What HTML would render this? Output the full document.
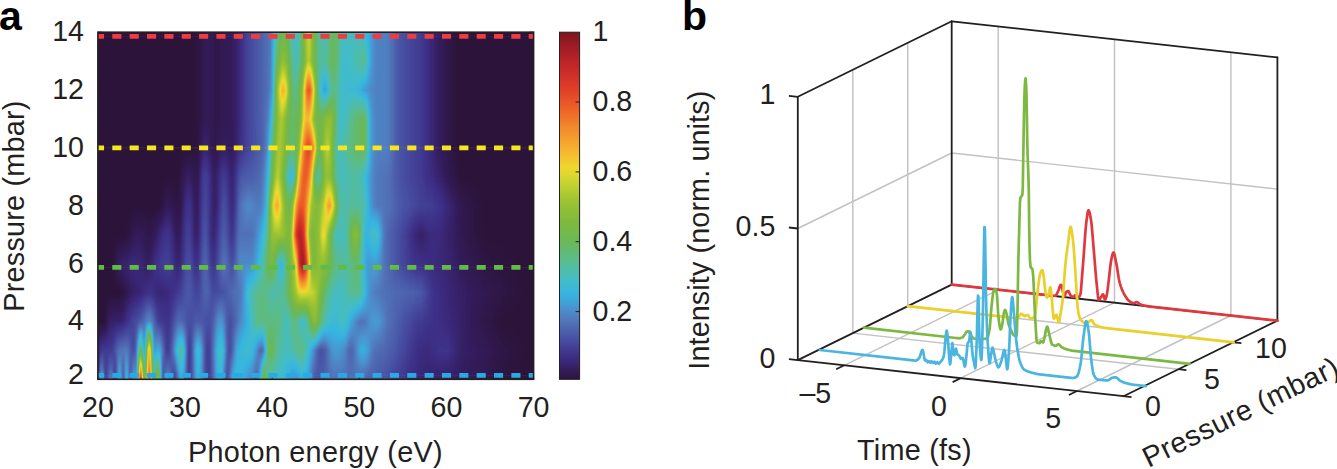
<!DOCTYPE html><html><head><meta charset="utf-8"><title>Figure</title><style>
html,body{margin:0;padding:0;background:#fff}
svg{display:block}
.t{font-family:"Liberation Sans",sans-serif;font-size:28.6px;fill:#231f20}
.l{font-family:"Liberation Sans",sans-serif;font-size:28.8px;fill:#231f20}
.b{font-family:"Liberation Sans",sans-serif;font-size:41px;font-weight:bold;fill:#000}
</style></head><body>
<svg width="1337" height="469" viewBox="0 0 1337 469">
<rect width="1337" height="469" fill="#fff"/>
<defs><linearGradient id="g0" gradientUnits="userSpaceOnUse" x1="0" y1="32.2" x2="0" y2="379.3"/><linearGradient id="c0" href="#g0"><stop offset="0" stop-color="#000"/><stop offset="0.0833" stop-color="#000"/><stop offset="0.1667" stop-color="#000"/><stop offset="0.25" stop-color="#000"/><stop offset="0.3333" stop-color="#000"/><stop offset="0.4167" stop-color="#000"/><stop offset="0.5" stop-color="#000"/><stop offset="0.5833" stop-color="#000"/><stop offset="0.6667" stop-color="#000"/><stop offset="0.75" stop-color="#000"/><stop offset="0.8333" stop-color="#000"/><stop offset="0.9167" stop-color="#0a0a0a"/><stop offset="1" stop-color="#131313"/></linearGradient><linearGradient id="c1" href="#g0"><stop offset="0" stop-color="#000"/><stop offset="0.0833" stop-color="#000"/><stop offset="0.1667" stop-color="#000"/><stop offset="0.25" stop-color="#000"/><stop offset="0.3333" stop-color="#000"/><stop offset="0.4167" stop-color="#000"/><stop offset="0.5" stop-color="#000"/><stop offset="0.5833" stop-color="#000"/><stop offset="0.6667" stop-color="#000"/><stop offset="0.75" stop-color="#000"/><stop offset="0.8333" stop-color="#000"/><stop offset="0.9167" stop-color="#0d0d0d"/><stop offset="1" stop-color="#1e1e1e"/></linearGradient><linearGradient id="c2" href="#g0"><stop offset="0" stop-color="#000"/><stop offset="0.0833" stop-color="#000"/><stop offset="0.1667" stop-color="#000"/><stop offset="0.25" stop-color="#000"/><stop offset="0.3333" stop-color="#000"/><stop offset="0.4167" stop-color="#000"/><stop offset="0.5" stop-color="#000"/><stop offset="0.5833" stop-color="#000"/><stop offset="0.6667" stop-color="#000"/><stop offset="0.75" stop-color="#000"/><stop offset="0.8333" stop-color="#000"/><stop offset="0.9167" stop-color="#161616"/><stop offset="1" stop-color="#3e3e3e"/></linearGradient><linearGradient id="c3" href="#g0"><stop offset="0" stop-color="#000"/><stop offset="0.0833" stop-color="#000"/><stop offset="0.1667" stop-color="#000"/><stop offset="0.25" stop-color="#000"/><stop offset="0.3333" stop-color="#000"/><stop offset="0.4167" stop-color="#000"/><stop offset="0.5" stop-color="#000"/><stop offset="0.5833" stop-color="#000"/><stop offset="0.6667" stop-color="#000"/><stop offset="0.75" stop-color="#000"/><stop offset="0.8333" stop-color="#000"/><stop offset="0.9167" stop-color="#171717"/><stop offset="1" stop-color="#333"/></linearGradient><linearGradient id="c4" href="#g0"><stop offset="0" stop-color="#000"/><stop offset="0.0833" stop-color="#000"/><stop offset="0.1667" stop-color="#000"/><stop offset="0.25" stop-color="#000"/><stop offset="0.3333" stop-color="#000"/><stop offset="0.4167" stop-color="#000"/><stop offset="0.5" stop-color="#000"/><stop offset="0.5833" stop-color="#000"/><stop offset="0.6667" stop-color="#000"/><stop offset="0.75" stop-color="#000"/><stop offset="0.8333" stop-color="#000"/><stop offset="0.9167" stop-color="#171717"/><stop offset="1" stop-color="#1a1a1a"/></linearGradient><linearGradient id="c5" href="#g0"><stop offset="0" stop-color="#000"/><stop offset="0.0833" stop-color="#000"/><stop offset="0.1667" stop-color="#000"/><stop offset="0.25" stop-color="#000"/><stop offset="0.3333" stop-color="#000"/><stop offset="0.4167" stop-color="#000"/><stop offset="0.5" stop-color="#000"/><stop offset="0.5833" stop-color="#000"/><stop offset="0.6667" stop-color="#000"/><stop offset="0.75" stop-color="#000"/><stop offset="0.8333" stop-color="#050505"/><stop offset="0.9167" stop-color="#171717"/><stop offset="1" stop-color="#1b1b1b"/></linearGradient><linearGradient id="c6" href="#g0"><stop offset="0" stop-color="#000"/><stop offset="0.0833" stop-color="#000"/><stop offset="0.1667" stop-color="#000"/><stop offset="0.25" stop-color="#000"/><stop offset="0.3333" stop-color="#000"/><stop offset="0.4167" stop-color="#000"/><stop offset="0.5" stop-color="#000"/><stop offset="0.5833" stop-color="#000"/><stop offset="0.6667" stop-color="#000"/><stop offset="0.75" stop-color="#000"/><stop offset="0.8333" stop-color="#0a0a0a"/><stop offset="0.9167" stop-color="#171717"/><stop offset="1" stop-color="#2a2a2a"/></linearGradient><linearGradient id="c7" href="#g0"><stop offset="0" stop-color="#000"/><stop offset="0.0833" stop-color="#000"/><stop offset="0.1667" stop-color="#000"/><stop offset="0.25" stop-color="#000"/><stop offset="0.3333" stop-color="#000"/><stop offset="0.4167" stop-color="#000"/><stop offset="0.5" stop-color="#000"/><stop offset="0.5833" stop-color="#000"/><stop offset="0.6667" stop-color="#000"/><stop offset="0.75" stop-color="#000"/><stop offset="0.8333" stop-color="#0b0b0b"/><stop offset="0.9167" stop-color="#171717"/><stop offset="1" stop-color="#333"/></linearGradient><linearGradient id="c8" href="#g0"><stop offset="0" stop-color="#000"/><stop offset="0.0833" stop-color="#000"/><stop offset="0.1667" stop-color="#000"/><stop offset="0.25" stop-color="#000"/><stop offset="0.3333" stop-color="#000"/><stop offset="0.4167" stop-color="#000"/><stop offset="0.5" stop-color="#000"/><stop offset="0.5833" stop-color="#000"/><stop offset="0.6667" stop-color="#010101"/><stop offset="0.75" stop-color="#000"/><stop offset="0.8333" stop-color="#0b0b0b"/><stop offset="0.9167" stop-color="#1a1a1a"/><stop offset="1" stop-color="#262626"/></linearGradient><linearGradient id="c9" href="#g0"><stop offset="0" stop-color="#000"/><stop offset="0.0833" stop-color="#000"/><stop offset="0.1667" stop-color="#000"/><stop offset="0.25" stop-color="#000"/><stop offset="0.3333" stop-color="#000"/><stop offset="0.4167" stop-color="#000"/><stop offset="0.5" stop-color="#000"/><stop offset="0.5833" stop-color="#000"/><stop offset="0.6667" stop-color="#040404"/><stop offset="0.75" stop-color="#000"/><stop offset="0.8333" stop-color="#0b0b0b"/><stop offset="0.9167" stop-color="#1f1f1f"/><stop offset="1" stop-color="#171717"/></linearGradient><linearGradient id="c10" href="#g0"><stop offset="0" stop-color="#000"/><stop offset="0.0833" stop-color="#000"/><stop offset="0.1667" stop-color="#000"/><stop offset="0.25" stop-color="#000"/><stop offset="0.3333" stop-color="#000"/><stop offset="0.4167" stop-color="#000"/><stop offset="0.5" stop-color="#000"/><stop offset="0.5833" stop-color="#000"/><stop offset="0.6667" stop-color="#070707"/><stop offset="0.75" stop-color="#000"/><stop offset="0.8333" stop-color="#0c0c0c"/><stop offset="0.9167" stop-color="#262626"/><stop offset="1" stop-color="#272727"/></linearGradient><linearGradient id="c11" href="#g0"><stop offset="0" stop-color="#000"/><stop offset="0.0833" stop-color="#000"/><stop offset="0.1667" stop-color="#000"/><stop offset="0.25" stop-color="#000"/><stop offset="0.3333" stop-color="#000"/><stop offset="0.4167" stop-color="#000"/><stop offset="0.5" stop-color="#000"/><stop offset="0.5833" stop-color="#000"/><stop offset="0.6667" stop-color="#0a0a0a"/><stop offset="0.75" stop-color="#000"/><stop offset="0.8333" stop-color="#0c0c0c"/><stop offset="0.9167" stop-color="#2b2b2b"/><stop offset="1" stop-color="#444"/></linearGradient><linearGradient id="c12" href="#g0"><stop offset="0" stop-color="#000"/><stop offset="0.0833" stop-color="#000"/><stop offset="0.1667" stop-color="#000"/><stop offset="0.25" stop-color="#000"/><stop offset="0.3333" stop-color="#000"/><stop offset="0.4167" stop-color="#000"/><stop offset="0.5" stop-color="#000"/><stop offset="0.5833" stop-color="#000"/><stop offset="0.6667" stop-color="#0b0b0b"/><stop offset="0.75" stop-color="#000"/><stop offset="0.8333" stop-color="#0c0c0c"/><stop offset="0.9167" stop-color="#2c2c2c"/><stop offset="1" stop-color="#3a3a3a"/></linearGradient><linearGradient id="c13" href="#g0"><stop offset="0" stop-color="#000"/><stop offset="0.0833" stop-color="#000"/><stop offset="0.1667" stop-color="#000"/><stop offset="0.25" stop-color="#000"/><stop offset="0.3333" stop-color="#000"/><stop offset="0.4167" stop-color="#000"/><stop offset="0.5" stop-color="#000"/><stop offset="0.5833" stop-color="#000"/><stop offset="0.6667" stop-color="#0c0c0c"/><stop offset="0.75" stop-color="#020202"/><stop offset="0.8333" stop-color="#0e0e0e"/><stop offset="0.9167" stop-color="#2d2d2d"/><stop offset="1" stop-color="#1d1d1d"/></linearGradient><linearGradient id="c14" href="#g0"><stop offset="0" stop-color="#000"/><stop offset="0.0833" stop-color="#000"/><stop offset="0.1667" stop-color="#000"/><stop offset="0.25" stop-color="#000"/><stop offset="0.3333" stop-color="#000"/><stop offset="0.4167" stop-color="#000"/><stop offset="0.5" stop-color="#000"/><stop offset="0.5833" stop-color="#000"/><stop offset="0.6667" stop-color="#0d0d0d"/><stop offset="0.75" stop-color="#040404"/><stop offset="0.8333" stop-color="#101010"/><stop offset="0.9167" stop-color="#2e2e2e"/><stop offset="1" stop-color="#363636"/></linearGradient><linearGradient id="c15" href="#g0"><stop offset="0" stop-color="#000"/><stop offset="0.0833" stop-color="#000"/><stop offset="0.1667" stop-color="#000"/><stop offset="0.25" stop-color="#000"/><stop offset="0.3333" stop-color="#000"/><stop offset="0.4167" stop-color="#000"/><stop offset="0.5" stop-color="#000"/><stop offset="0.5833" stop-color="#010101"/><stop offset="0.6667" stop-color="#0d0d0d"/><stop offset="0.75" stop-color="#060606"/><stop offset="0.8333" stop-color="#131313"/><stop offset="0.9167" stop-color="#2e2e2e"/><stop offset="1" stop-color="#4b4b4b"/></linearGradient><linearGradient id="c16" href="#g0"><stop offset="0" stop-color="#000"/><stop offset="0.0833" stop-color="#000"/><stop offset="0.1667" stop-color="#000"/><stop offset="0.25" stop-color="#000"/><stop offset="0.3333" stop-color="#000"/><stop offset="0.4167" stop-color="#000"/><stop offset="0.5" stop-color="#000"/><stop offset="0.5833" stop-color="#020202"/><stop offset="0.6667" stop-color="#0e0e0e"/><stop offset="0.75" stop-color="#080808"/><stop offset="0.8333" stop-color="#161616"/><stop offset="0.9167" stop-color="#292929"/><stop offset="1" stop-color="#292929"/></linearGradient><linearGradient id="c17" href="#g0"><stop offset="0" stop-color="#000"/><stop offset="0.0833" stop-color="#000"/><stop offset="0.1667" stop-color="#000"/><stop offset="0.25" stop-color="#000"/><stop offset="0.3333" stop-color="#000"/><stop offset="0.4167" stop-color="#000"/><stop offset="0.5" stop-color="#000"/><stop offset="0.5833" stop-color="#040404"/><stop offset="0.6667" stop-color="#0f0f0f"/><stop offset="0.75" stop-color="#090909"/><stop offset="0.8333" stop-color="#181818"/><stop offset="0.9167" stop-color="#222"/><stop offset="1" stop-color="#222"/></linearGradient><linearGradient id="c18" href="#g0"><stop offset="0" stop-color="#000"/><stop offset="0.0833" stop-color="#000"/><stop offset="0.1667" stop-color="#000"/><stop offset="0.25" stop-color="#000"/><stop offset="0.3333" stop-color="#000"/><stop offset="0.4167" stop-color="#000"/><stop offset="0.5" stop-color="#000"/><stop offset="0.5833" stop-color="#060606"/><stop offset="0.6667" stop-color="#0f0f0f"/><stop offset="0.75" stop-color="#0a0a0a"/><stop offset="0.8333" stop-color="#1b1b1b"/><stop offset="0.9167" stop-color="#1d1d1d"/><stop offset="1" stop-color="#3d3d3d"/></linearGradient><linearGradient id="c19" href="#g0"><stop offset="0" stop-color="#000"/><stop offset="0.0833" stop-color="#000"/><stop offset="0.1667" stop-color="#000"/><stop offset="0.25" stop-color="#000"/><stop offset="0.3333" stop-color="#000"/><stop offset="0.4167" stop-color="#000"/><stop offset="0.5" stop-color="#000"/><stop offset="0.5833" stop-color="#070707"/><stop offset="0.6667" stop-color="#0f0f0f"/><stop offset="0.75" stop-color="#0b0b0b"/><stop offset="0.8333" stop-color="#1d1d1d"/><stop offset="0.9167" stop-color="#212121"/><stop offset="1" stop-color="#3b3b3b"/></linearGradient><linearGradient id="c20" href="#g0"><stop offset="0" stop-color="#000"/><stop offset="0.0833" stop-color="#000"/><stop offset="0.1667" stop-color="#000"/><stop offset="0.25" stop-color="#000"/><stop offset="0.3333" stop-color="#000"/><stop offset="0.4167" stop-color="#000"/><stop offset="0.5" stop-color="#000"/><stop offset="0.5833" stop-color="#080808"/><stop offset="0.6667" stop-color="#0f0f0f"/><stop offset="0.75" stop-color="#0c0c0c"/><stop offset="0.8333" stop-color="#1e1e1e"/><stop offset="0.9167" stop-color="#323232"/><stop offset="1" stop-color="#333"/></linearGradient><linearGradient id="c21" href="#g0"><stop offset="0" stop-color="#000"/><stop offset="0.0833" stop-color="#000"/><stop offset="0.1667" stop-color="#000"/><stop offset="0.25" stop-color="#000"/><stop offset="0.3333" stop-color="#000"/><stop offset="0.4167" stop-color="#000"/><stop offset="0.5" stop-color="#000"/><stop offset="0.5833" stop-color="#080808"/><stop offset="0.6667" stop-color="#0f0f0f"/><stop offset="0.75" stop-color="#0d0d0d"/><stop offset="0.8333" stop-color="#212121"/><stop offset="0.9167" stop-color="#565656"/><stop offset="1" stop-color="#aeaeae"/></linearGradient><linearGradient id="c22" href="#g0"><stop offset="0" stop-color="#000"/><stop offset="0.0833" stop-color="#000"/><stop offset="0.1667" stop-color="#000"/><stop offset="0.25" stop-color="#000"/><stop offset="0.3333" stop-color="#000"/><stop offset="0.4167" stop-color="#000"/><stop offset="0.5" stop-color="#000"/><stop offset="0.5833" stop-color="#070707"/><stop offset="0.6667" stop-color="#0e0e0e"/><stop offset="0.75" stop-color="#0e0e0e"/><stop offset="0.8333" stop-color="#232323"/><stop offset="0.9167" stop-color="#6f6f6f"/><stop offset="1" stop-color="#f6f6f6"/></linearGradient><linearGradient id="c23" href="#g0"><stop offset="0" stop-color="#000"/><stop offset="0.0833" stop-color="#000"/><stop offset="0.1667" stop-color="#000"/><stop offset="0.25" stop-color="#000"/><stop offset="0.3333" stop-color="#000"/><stop offset="0.4167" stop-color="#000"/><stop offset="0.5" stop-color="#000"/><stop offset="0.5833" stop-color="#070707"/><stop offset="0.6667" stop-color="#0d0d0d"/><stop offset="0.75" stop-color="#0f0f0f"/><stop offset="0.8333" stop-color="#272727"/><stop offset="0.9167" stop-color="#464646"/><stop offset="1" stop-color="#848484"/></linearGradient><linearGradient id="c24" href="#g0"><stop offset="0" stop-color="#000"/><stop offset="0.0833" stop-color="#000"/><stop offset="0.1667" stop-color="#000"/><stop offset="0.25" stop-color="#000"/><stop offset="0.3333" stop-color="#000"/><stop offset="0.4167" stop-color="#000"/><stop offset="0.5" stop-color="#000"/><stop offset="0.5833" stop-color="#060606"/><stop offset="0.6667" stop-color="#0b0b0b"/><stop offset="0.75" stop-color="#111"/><stop offset="0.8333" stop-color="#2c2c2c"/><stop offset="0.9167" stop-color="#373737"/><stop offset="1" stop-color="#515151"/></linearGradient><linearGradient id="c25" href="#g0"><stop offset="0" stop-color="#000"/><stop offset="0.0833" stop-color="#000"/><stop offset="0.1667" stop-color="#000"/><stop offset="0.25" stop-color="#000"/><stop offset="0.3333" stop-color="#000"/><stop offset="0.4167" stop-color="#000"/><stop offset="0.5" stop-color="#000"/><stop offset="0.5833" stop-color="#050505"/><stop offset="0.6667" stop-color="#0a0a0a"/><stop offset="0.75" stop-color="#121212"/><stop offset="0.8333" stop-color="#313131"/><stop offset="0.9167" stop-color="#7a7a7a"/><stop offset="1" stop-color="#9a9a9a"/></linearGradient><linearGradient id="c26" href="#g0"><stop offset="0" stop-color="#000"/><stop offset="0.0833" stop-color="#000"/><stop offset="0.1667" stop-color="#000"/><stop offset="0.25" stop-color="#000"/><stop offset="0.3333" stop-color="#000"/><stop offset="0.4167" stop-color="#000"/><stop offset="0.5" stop-color="#000"/><stop offset="0.5833" stop-color="#050505"/><stop offset="0.6667" stop-color="#0a0a0a"/><stop offset="0.75" stop-color="#131313"/><stop offset="0.8333" stop-color="#333"/><stop offset="0.9167" stop-color="#b5b5b5"/><stop offset="1" stop-color="#d4d4d4"/></linearGradient><linearGradient id="c27" href="#g0"><stop offset="0" stop-color="#000"/><stop offset="0.0833" stop-color="#000"/><stop offset="0.1667" stop-color="#000"/><stop offset="0.25" stop-color="#000"/><stop offset="0.3333" stop-color="#000"/><stop offset="0.4167" stop-color="#000"/><stop offset="0.5" stop-color="#000"/><stop offset="0.5833" stop-color="#050505"/><stop offset="0.6667" stop-color="#0c0c0c"/><stop offset="0.75" stop-color="#131313"/><stop offset="0.8333" stop-color="#313131"/><stop offset="0.9167" stop-color="#8e8e8e"/><stop offset="1" stop-color="#afafaf"/></linearGradient><linearGradient id="c28" href="#g0"><stop offset="0" stop-color="#000"/><stop offset="0.0833" stop-color="#000"/><stop offset="0.1667" stop-color="#000"/><stop offset="0.25" stop-color="#000"/><stop offset="0.3333" stop-color="#000"/><stop offset="0.4167" stop-color="#000"/><stop offset="0.5" stop-color="#000"/><stop offset="0.5833" stop-color="#060606"/><stop offset="0.6667" stop-color="#0f0f0f"/><stop offset="0.75" stop-color="#111"/><stop offset="0.8333" stop-color="#2b2b2b"/><stop offset="0.9167" stop-color="#3e3e3e"/><stop offset="1" stop-color="#595959"/></linearGradient><linearGradient id="c29" href="#g0"><stop offset="0" stop-color="#000"/><stop offset="0.0833" stop-color="#000"/><stop offset="0.1667" stop-color="#000"/><stop offset="0.25" stop-color="#000"/><stop offset="0.3333" stop-color="#000"/><stop offset="0.4167" stop-color="#000"/><stop offset="0.5" stop-color="#000"/><stop offset="0.5833" stop-color="#080808"/><stop offset="0.6667" stop-color="#121212"/><stop offset="0.75" stop-color="#101010"/><stop offset="0.8333" stop-color="#232323"/><stop offset="0.9167" stop-color="#363636"/><stop offset="1" stop-color="#5b5b5b"/></linearGradient><linearGradient id="c30" href="#g0"><stop offset="0" stop-color="#000"/><stop offset="0.0833" stop-color="#000"/><stop offset="0.1667" stop-color="#000"/><stop offset="0.25" stop-color="#000"/><stop offset="0.3333" stop-color="#000"/><stop offset="0.4167" stop-color="#000"/><stop offset="0.5" stop-color="#000"/><stop offset="0.5833" stop-color="#0a0a0a"/><stop offset="0.6667" stop-color="#141414"/><stop offset="0.75" stop-color="#0e0e0e"/><stop offset="0.8333" stop-color="#1c1c1c"/><stop offset="0.9167" stop-color="#3e3e3e"/><stop offset="1" stop-color="#808080"/></linearGradient><linearGradient id="c31" href="#g0"><stop offset="0" stop-color="#000"/><stop offset="0.0833" stop-color="#000"/><stop offset="0.1667" stop-color="#000"/><stop offset="0.25" stop-color="#000"/><stop offset="0.3333" stop-color="#000"/><stop offset="0.4167" stop-color="#000"/><stop offset="0.5" stop-color="#000"/><stop offset="0.5833" stop-color="#0d0d0d"/><stop offset="0.6667" stop-color="#161616"/><stop offset="0.75" stop-color="#0e0e0e"/><stop offset="0.8333" stop-color="#181818"/><stop offset="0.9167" stop-color="#3f3f3f"/><stop offset="1" stop-color="#7c7c7c"/></linearGradient><linearGradient id="c32" href="#g0"><stop offset="0" stop-color="#000"/><stop offset="0.0833" stop-color="#000"/><stop offset="0.1667" stop-color="#000"/><stop offset="0.25" stop-color="#000"/><stop offset="0.3333" stop-color="#000"/><stop offset="0.4167" stop-color="#000"/><stop offset="0.5" stop-color="#010101"/><stop offset="0.5833" stop-color="#0f0f0f"/><stop offset="0.6667" stop-color="#171717"/><stop offset="0.75" stop-color="#0e0e0e"/><stop offset="0.8333" stop-color="#171717"/><stop offset="0.9167" stop-color="#363636"/><stop offset="1" stop-color="#3c3c3c"/></linearGradient><linearGradient id="c33" href="#g0"><stop offset="0" stop-color="#000"/><stop offset="0.0833" stop-color="#000"/><stop offset="0.1667" stop-color="#000"/><stop offset="0.25" stop-color="#000"/><stop offset="0.3333" stop-color="#000"/><stop offset="0.4167" stop-color="#000"/><stop offset="0.5" stop-color="#030303"/><stop offset="0.5833" stop-color="#121212"/><stop offset="0.6667" stop-color="#181818"/><stop offset="0.75" stop-color="#0e0e0e"/><stop offset="0.8333" stop-color="#161616"/><stop offset="0.9167" stop-color="#2a2a2a"/><stop offset="1" stop-color="#1d1d1d"/></linearGradient><linearGradient id="c34" href="#g0"><stop offset="0" stop-color="#000"/><stop offset="0.0833" stop-color="#000"/><stop offset="0.1667" stop-color="#000"/><stop offset="0.25" stop-color="#000"/><stop offset="0.3333" stop-color="#000"/><stop offset="0.4167" stop-color="#000"/><stop offset="0.5" stop-color="#060606"/><stop offset="0.5833" stop-color="#131313"/><stop offset="0.6667" stop-color="#191919"/><stop offset="0.75" stop-color="#0f0f0f"/><stop offset="0.8333" stop-color="#151515"/><stop offset="0.9167" stop-color="#1e1e1e"/><stop offset="1" stop-color="#282828"/></linearGradient><linearGradient id="c35" href="#g0"><stop offset="0" stop-color="#000"/><stop offset="0.0833" stop-color="#000"/><stop offset="0.1667" stop-color="#000"/><stop offset="0.25" stop-color="#000"/><stop offset="0.3333" stop-color="#000"/><stop offset="0.4167" stop-color="#000"/><stop offset="0.5" stop-color="#080808"/><stop offset="0.5833" stop-color="#141414"/><stop offset="0.6667" stop-color="#191919"/><stop offset="0.75" stop-color="#0f0f0f"/><stop offset="0.8333" stop-color="#141414"/><stop offset="0.9167" stop-color="#171717"/><stop offset="1" stop-color="#323232"/></linearGradient><linearGradient id="c36" href="#g0"><stop offset="0" stop-color="#000"/><stop offset="0.0833" stop-color="#000"/><stop offset="0.1667" stop-color="#000"/><stop offset="0.25" stop-color="#000"/><stop offset="0.3333" stop-color="#000"/><stop offset="0.4167" stop-color="#000"/><stop offset="0.5" stop-color="#070707"/><stop offset="0.5833" stop-color="#141414"/><stop offset="0.6667" stop-color="#191919"/><stop offset="0.75" stop-color="#101010"/><stop offset="0.8333" stop-color="#151515"/><stop offset="0.9167" stop-color="#191919"/><stop offset="1" stop-color="#303030"/></linearGradient><linearGradient id="c37" href="#g0"><stop offset="0" stop-color="#000"/><stop offset="0.0833" stop-color="#000"/><stop offset="0.1667" stop-color="#000"/><stop offset="0.25" stop-color="#000"/><stop offset="0.3333" stop-color="#000"/><stop offset="0.4167" stop-color="#000"/><stop offset="0.5" stop-color="#060606"/><stop offset="0.5833" stop-color="#111"/><stop offset="0.6667" stop-color="#161616"/><stop offset="0.75" stop-color="#111"/><stop offset="0.8333" stop-color="#181818"/><stop offset="0.9167" stop-color="#202020"/><stop offset="1" stop-color="#262626"/></linearGradient><linearGradient id="c38" href="#g0"><stop offset="0" stop-color="#000"/><stop offset="0.0833" stop-color="#000"/><stop offset="0.1667" stop-color="#000"/><stop offset="0.25" stop-color="#000"/><stop offset="0.3333" stop-color="#000"/><stop offset="0.4167" stop-color="#000"/><stop offset="0.5" stop-color="#050505"/><stop offset="0.5833" stop-color="#0e0e0e"/><stop offset="0.6667" stop-color="#131313"/><stop offset="0.75" stop-color="#131313"/><stop offset="0.8333" stop-color="#1d1d1d"/><stop offset="0.9167" stop-color="#2b2b2b"/><stop offset="1" stop-color="#1b1b1b"/></linearGradient><linearGradient id="c39" href="#g0"><stop offset="0" stop-color="#000"/><stop offset="0.0833" stop-color="#000"/><stop offset="0.1667" stop-color="#000"/><stop offset="0.25" stop-color="#000"/><stop offset="0.3333" stop-color="#000"/><stop offset="0.4167" stop-color="#000"/><stop offset="0.5" stop-color="#040404"/><stop offset="0.5833" stop-color="#0a0a0a"/><stop offset="0.6667" stop-color="#0f0f0f"/><stop offset="0.75" stop-color="#141414"/><stop offset="0.8333" stop-color="#222"/><stop offset="0.9167" stop-color="#383838"/><stop offset="1" stop-color="#171717"/></linearGradient><linearGradient id="c40" href="#g0"><stop offset="0" stop-color="#000"/><stop offset="0.0833" stop-color="#000"/><stop offset="0.1667" stop-color="#000"/><stop offset="0.25" stop-color="#000"/><stop offset="0.3333" stop-color="#000"/><stop offset="0.4167" stop-color="#000"/><stop offset="0.5" stop-color="#030303"/><stop offset="0.5833" stop-color="#080808"/><stop offset="0.6667" stop-color="#0d0d0d"/><stop offset="0.75" stop-color="#161616"/><stop offset="0.8333" stop-color="#262626"/><stop offset="0.9167" stop-color="#454545"/><stop offset="1" stop-color="#222"/></linearGradient><linearGradient id="c41" href="#g0"><stop offset="0" stop-color="#000"/><stop offset="0.0833" stop-color="#000"/><stop offset="0.1667" stop-color="#000"/><stop offset="0.25" stop-color="#000"/><stop offset="0.3333" stop-color="#000"/><stop offset="0.4167" stop-color="#010101"/><stop offset="0.5" stop-color="#030303"/><stop offset="0.5833" stop-color="#080808"/><stop offset="0.6667" stop-color="#0d0d0d"/><stop offset="0.75" stop-color="#181818"/><stop offset="0.8333" stop-color="#292929"/><stop offset="0.9167" stop-color="#4f4f4f"/><stop offset="1" stop-color="#333"/></linearGradient><linearGradient id="c42" href="#g0"><stop offset="0" stop-color="#000"/><stop offset="0.0833" stop-color="#000"/><stop offset="0.1667" stop-color="#000"/><stop offset="0.25" stop-color="#000"/><stop offset="0.3333" stop-color="#000"/><stop offset="0.4167" stop-color="#030303"/><stop offset="0.5" stop-color="#060606"/><stop offset="0.5833" stop-color="#0b0b0b"/><stop offset="0.6667" stop-color="#101010"/><stop offset="0.75" stop-color="#1a1a1a"/><stop offset="0.8333" stop-color="#282828"/><stop offset="0.9167" stop-color="#545454"/><stop offset="1" stop-color="#3f3f3f"/></linearGradient><linearGradient id="c43" href="#g0"><stop offset="0" stop-color="#000"/><stop offset="0.0833" stop-color="#000"/><stop offset="0.1667" stop-color="#000"/><stop offset="0.25" stop-color="#000"/><stop offset="0.3333" stop-color="#000"/><stop offset="0.4167" stop-color="#060606"/><stop offset="0.5" stop-color="#0b0b0b"/><stop offset="0.5833" stop-color="#101010"/><stop offset="0.6667" stop-color="#151515"/><stop offset="0.75" stop-color="#1d1d1d"/><stop offset="0.8333" stop-color="#262626"/><stop offset="0.9167" stop-color="#4f4f4f"/><stop offset="1" stop-color="#3c3c3c"/></linearGradient><linearGradient id="c44" href="#g0"><stop offset="0" stop-color="#000"/><stop offset="0.0833" stop-color="#000"/><stop offset="0.1667" stop-color="#000"/><stop offset="0.25" stop-color="#000"/><stop offset="0.3333" stop-color="#000"/><stop offset="0.4167" stop-color="#080808"/><stop offset="0.5" stop-color="#101010"/><stop offset="0.5833" stop-color="#151515"/><stop offset="0.6667" stop-color="#1a1a1a"/><stop offset="0.75" stop-color="#202020"/><stop offset="0.8333" stop-color="#232323"/><stop offset="0.9167" stop-color="#3b3b3b"/><stop offset="1" stop-color="#2f2f2f"/></linearGradient><linearGradient id="c45" href="#g0"><stop offset="0" stop-color="#000"/><stop offset="0.0833" stop-color="#000"/><stop offset="0.1667" stop-color="#000"/><stop offset="0.25" stop-color="#000"/><stop offset="0.3333" stop-color="#000"/><stop offset="0.4167" stop-color="#0a0a0a"/><stop offset="0.5" stop-color="#131313"/><stop offset="0.5833" stop-color="#181818"/><stop offset="0.6667" stop-color="#1e1e1e"/><stop offset="0.75" stop-color="#222"/><stop offset="0.8333" stop-color="#202020"/><stop offset="0.9167" stop-color="#252525"/><stop offset="1" stop-color="#202020"/></linearGradient><linearGradient id="c46" href="#g0"><stop offset="0" stop-color="#000"/><stop offset="0.0833" stop-color="#000"/><stop offset="0.1667" stop-color="#000"/><stop offset="0.25" stop-color="#000"/><stop offset="0.3333" stop-color="#000"/><stop offset="0.4167" stop-color="#0a0a0a"/><stop offset="0.5" stop-color="#141414"/><stop offset="0.5833" stop-color="#191919"/><stop offset="0.6667" stop-color="#1e1e1e"/><stop offset="0.75" stop-color="#222"/><stop offset="0.8333" stop-color="#1f1f1f"/><stop offset="0.9167" stop-color="#171717"/><stop offset="1" stop-color="#171717"/></linearGradient><linearGradient id="c47" href="#g0"><stop offset="0" stop-color="#000"/><stop offset="0.0833" stop-color="#000"/><stop offset="0.1667" stop-color="#000"/><stop offset="0.25" stop-color="#000"/><stop offset="0.3333" stop-color="#010101"/><stop offset="0.4167" stop-color="#090909"/><stop offset="0.5" stop-color="#111"/><stop offset="0.5833" stop-color="#161616"/><stop offset="0.6667" stop-color="#1c1c1c"/><stop offset="0.75" stop-color="#212121"/><stop offset="0.8333" stop-color="#1f1f1f"/><stop offset="0.9167" stop-color="#1b1b1b"/><stop offset="1" stop-color="#1b1b1b"/></linearGradient><linearGradient id="c48" href="#g0"><stop offset="0" stop-color="#000"/><stop offset="0.0833" stop-color="#000"/><stop offset="0.1667" stop-color="#000"/><stop offset="0.25" stop-color="#000"/><stop offset="0.3333" stop-color="#010101"/><stop offset="0.4167" stop-color="#070707"/><stop offset="0.5" stop-color="#0d0d0d"/><stop offset="0.5833" stop-color="#101010"/><stop offset="0.6667" stop-color="#171717"/><stop offset="0.75" stop-color="#1e1e1e"/><stop offset="0.8333" stop-color="#202020"/><stop offset="0.9167" stop-color="#292929"/><stop offset="1" stop-color="#262626"/></linearGradient><linearGradient id="c49" href="#g0"><stop offset="0" stop-color="#000"/><stop offset="0.0833" stop-color="#000"/><stop offset="0.1667" stop-color="#000"/><stop offset="0.25" stop-color="#000"/><stop offset="0.3333" stop-color="#020202"/><stop offset="0.4167" stop-color="#060606"/><stop offset="0.5" stop-color="#090909"/><stop offset="0.5833" stop-color="#0b0b0b"/><stop offset="0.6667" stop-color="#131313"/><stop offset="0.75" stop-color="#1c1c1c"/><stop offset="0.8333" stop-color="#222"/><stop offset="0.9167" stop-color="#393939"/><stop offset="1" stop-color="#343434"/></linearGradient><linearGradient id="c50" href="#g0"><stop offset="0" stop-color="#010101"/><stop offset="0.0833" stop-color="#010101"/><stop offset="0.1667" stop-color="#010101"/><stop offset="0.25" stop-color="#010101"/><stop offset="0.3333" stop-color="#020202"/><stop offset="0.4167" stop-color="#050505"/><stop offset="0.5" stop-color="#080808"/><stop offset="0.5833" stop-color="#0b0b0b"/><stop offset="0.6667" stop-color="#121212"/><stop offset="0.75" stop-color="#1b1b1b"/><stop offset="0.8333" stop-color="#232323"/><stop offset="0.9167" stop-color="#454545"/><stop offset="1" stop-color="#3e3e3e"/></linearGradient><linearGradient id="c51" href="#g0"><stop offset="0" stop-color="#030303"/><stop offset="0.0833" stop-color="#030303"/><stop offset="0.1667" stop-color="#030303"/><stop offset="0.25" stop-color="#030303"/><stop offset="0.3333" stop-color="#030303"/><stop offset="0.4167" stop-color="#0a0a0a"/><stop offset="0.5" stop-color="#0c0c0c"/><stop offset="0.5833" stop-color="#0f0f0f"/><stop offset="0.6667" stop-color="#161616"/><stop offset="0.75" stop-color="#1c1c1c"/><stop offset="0.8333" stop-color="#222"/><stop offset="0.9167" stop-color="#464646"/><stop offset="1" stop-color="#3f3f3f"/></linearGradient><linearGradient id="c52" href="#g0"><stop offset="0" stop-color="#040404"/><stop offset="0.0833" stop-color="#040404"/><stop offset="0.1667" stop-color="#040404"/><stop offset="0.25" stop-color="#040404"/><stop offset="0.3333" stop-color="#070707"/><stop offset="0.4167" stop-color="#101010"/><stop offset="0.5" stop-color="#131313"/><stop offset="0.5833" stop-color="#171717"/><stop offset="0.6667" stop-color="#1d1d1d"/><stop offset="0.75" stop-color="#1f1f1f"/><stop offset="0.8333" stop-color="#222"/><stop offset="0.9167" stop-color="#3d3d3d"/><stop offset="1" stop-color="#373737"/></linearGradient><linearGradient id="c53" href="#g0"><stop offset="0" stop-color="#060606"/><stop offset="0.0833" stop-color="#060606"/><stop offset="0.1667" stop-color="#060606"/><stop offset="0.25" stop-color="#060606"/><stop offset="0.3333" stop-color="#0b0b0b"/><stop offset="0.4167" stop-color="#171717"/><stop offset="0.5" stop-color="#191919"/><stop offset="0.5833" stop-color="#1e1e1e"/><stop offset="0.6667" stop-color="#232323"/><stop offset="0.75" stop-color="#232323"/><stop offset="0.8333" stop-color="#212121"/><stop offset="0.9167" stop-color="#2e2e2e"/><stop offset="1" stop-color="#2b2b2b"/></linearGradient><linearGradient id="c54" href="#g0"><stop offset="0" stop-color="#070707"/><stop offset="0.0833" stop-color="#070707"/><stop offset="0.1667" stop-color="#070707"/><stop offset="0.25" stop-color="#070707"/><stop offset="0.3333" stop-color="#0d0d0d"/><stop offset="0.4167" stop-color="#191919"/><stop offset="0.5" stop-color="#1c1c1c"/><stop offset="0.5833" stop-color="#212121"/><stop offset="0.6667" stop-color="#262626"/><stop offset="0.75" stop-color="#262626"/><stop offset="0.8333" stop-color="#202020"/><stop offset="0.9167" stop-color="#202020"/><stop offset="1" stop-color="#1f1f1f"/></linearGradient><linearGradient id="c55" href="#g0"><stop offset="0" stop-color="#080808"/><stop offset="0.0833" stop-color="#080808"/><stop offset="0.1667" stop-color="#080808"/><stop offset="0.25" stop-color="#080808"/><stop offset="0.3333" stop-color="#0c0c0c"/><stop offset="0.4167" stop-color="#181818"/><stop offset="0.5" stop-color="#1a1a1a"/><stop offset="0.5833" stop-color="#1e1e1e"/><stop offset="0.6667" stop-color="#242424"/><stop offset="0.75" stop-color="#262626"/><stop offset="0.8333" stop-color="#1f1f1f"/><stop offset="0.9167" stop-color="#181818"/><stop offset="1" stop-color="#181818"/></linearGradient><linearGradient id="c56" href="#g0"><stop offset="0" stop-color="#070707"/><stop offset="0.0833" stop-color="#070707"/><stop offset="0.1667" stop-color="#070707"/><stop offset="0.25" stop-color="#070707"/><stop offset="0.3333" stop-color="#0a0a0a"/><stop offset="0.4167" stop-color="#141414"/><stop offset="0.5" stop-color="#161616"/><stop offset="0.5833" stop-color="#171717"/><stop offset="0.6667" stop-color="#1d1d1d"/><stop offset="0.75" stop-color="#242424"/><stop offset="0.8333" stop-color="#1f1f1f"/><stop offset="0.9167" stop-color="#181818"/><stop offset="1" stop-color="#181818"/></linearGradient><linearGradient id="c57" href="#g0"><stop offset="0" stop-color="#060606"/><stop offset="0.0833" stop-color="#060606"/><stop offset="0.1667" stop-color="#060606"/><stop offset="0.25" stop-color="#060606"/><stop offset="0.3333" stop-color="#080808"/><stop offset="0.4167" stop-color="#0f0f0f"/><stop offset="0.5" stop-color="#101010"/><stop offset="0.5833" stop-color="#101010"/><stop offset="0.6667" stop-color="#171717"/><stop offset="0.75" stop-color="#202020"/><stop offset="0.8333" stop-color="#202020"/><stop offset="0.9167" stop-color="#1f1f1f"/><stop offset="1" stop-color="#1e1e1e"/></linearGradient><linearGradient id="c58" href="#g0"><stop offset="0" stop-color="#060606"/><stop offset="0.0833" stop-color="#060606"/><stop offset="0.1667" stop-color="#060606"/><stop offset="0.25" stop-color="#060606"/><stop offset="0.3333" stop-color="#060606"/><stop offset="0.4167" stop-color="#0b0b0b"/><stop offset="0.5" stop-color="#0c0c0c"/><stop offset="0.5833" stop-color="#0d0d0d"/><stop offset="0.6667" stop-color="#141414"/><stop offset="0.75" stop-color="#1d1d1d"/><stop offset="0.8333" stop-color="#242424"/><stop offset="0.9167" stop-color="#2a2a2a"/><stop offset="1" stop-color="#272727"/></linearGradient><linearGradient id="c59" href="#g0"><stop offset="0" stop-color="#050505"/><stop offset="0.0833" stop-color="#050505"/><stop offset="0.1667" stop-color="#050505"/><stop offset="0.25" stop-color="#050505"/><stop offset="0.3333" stop-color="#050505"/><stop offset="0.4167" stop-color="#0a0a0a"/><stop offset="0.5" stop-color="#0a0a0a"/><stop offset="0.5833" stop-color="#0f0f0f"/><stop offset="0.6667" stop-color="#161616"/><stop offset="0.75" stop-color="#1d1d1d"/><stop offset="0.8333" stop-color="#2b2b2b"/><stop offset="0.9167" stop-color="#363636"/><stop offset="1" stop-color="#323232"/></linearGradient><linearGradient id="c60" href="#g0"><stop offset="0" stop-color="#050505"/><stop offset="0.0833" stop-color="#050505"/><stop offset="0.1667" stop-color="#050505"/><stop offset="0.25" stop-color="#050505"/><stop offset="0.3333" stop-color="#060606"/><stop offset="0.4167" stop-color="#0c0c0c"/><stop offset="0.5" stop-color="#0d0d0d"/><stop offset="0.5833" stop-color="#141414"/><stop offset="0.6667" stop-color="#1b1b1b"/><stop offset="0.75" stop-color="#1d1d1d"/><stop offset="0.8333" stop-color="#313131"/><stop offset="0.9167" stop-color="#424242"/><stop offset="1" stop-color="#3c3c3c"/></linearGradient><linearGradient id="c61" href="#g0"><stop offset="0" stop-color="#050505"/><stop offset="0.0833" stop-color="#050505"/><stop offset="0.1667" stop-color="#050505"/><stop offset="0.25" stop-color="#050505"/><stop offset="0.3333" stop-color="#070707"/><stop offset="0.4167" stop-color="#101010"/><stop offset="0.5" stop-color="#131313"/><stop offset="0.5833" stop-color="#191919"/><stop offset="0.6667" stop-color="#212121"/><stop offset="0.75" stop-color="#1e1e1e"/><stop offset="0.8333" stop-color="#353535"/><stop offset="0.9167" stop-color="#4a4a4a"/><stop offset="1" stop-color="#434343"/></linearGradient><linearGradient id="c62" href="#g0"><stop offset="0" stop-color="#060606"/><stop offset="0.0833" stop-color="#060606"/><stop offset="0.1667" stop-color="#060606"/><stop offset="0.25" stop-color="#060606"/><stop offset="0.3333" stop-color="#090909"/><stop offset="0.4167" stop-color="#141414"/><stop offset="0.5" stop-color="#191919"/><stop offset="0.5833" stop-color="#1f1f1f"/><stop offset="0.6667" stop-color="#272727"/><stop offset="0.75" stop-color="#1f1f1f"/><stop offset="0.8333" stop-color="#373737"/><stop offset="0.9167" stop-color="#4c4c4c"/><stop offset="1" stop-color="#454545"/></linearGradient><linearGradient id="c63" href="#g0"><stop offset="0" stop-color="#060606"/><stop offset="0.0833" stop-color="#060606"/><stop offset="0.1667" stop-color="#060606"/><stop offset="0.25" stop-color="#060606"/><stop offset="0.3333" stop-color="#0a0a0a"/><stop offset="0.4167" stop-color="#161616"/><stop offset="0.5" stop-color="#1e1e1e"/><stop offset="0.5833" stop-color="#232323"/><stop offset="0.6667" stop-color="#2b2b2b"/><stop offset="0.75" stop-color="#202020"/><stop offset="0.8333" stop-color="#333"/><stop offset="0.9167" stop-color="#454545"/><stop offset="1" stop-color="#393939"/></linearGradient><linearGradient id="c64" href="#g0"><stop offset="0" stop-color="#070707"/><stop offset="0.0833" stop-color="#070707"/><stop offset="0.1667" stop-color="#070707"/><stop offset="0.25" stop-color="#070707"/><stop offset="0.3333" stop-color="#0a0a0a"/><stop offset="0.4167" stop-color="#171717"/><stop offset="0.5" stop-color="#1e1e1e"/><stop offset="0.5833" stop-color="#232323"/><stop offset="0.6667" stop-color="#2b2b2b"/><stop offset="0.75" stop-color="#212121"/><stop offset="0.8333" stop-color="#2b2b2b"/><stop offset="0.9167" stop-color="#363636"/><stop offset="1" stop-color="#262626"/></linearGradient><linearGradient id="c65" href="#g0"><stop offset="0" stop-color="#070707"/><stop offset="0.0833" stop-color="#070707"/><stop offset="0.1667" stop-color="#070707"/><stop offset="0.25" stop-color="#070707"/><stop offset="0.3333" stop-color="#090909"/><stop offset="0.4167" stop-color="#141414"/><stop offset="0.5" stop-color="#1a1a1a"/><stop offset="0.5833" stop-color="#1f1f1f"/><stop offset="0.6667" stop-color="#282828"/><stop offset="0.75" stop-color="#232323"/><stop offset="0.8333" stop-color="#232323"/><stop offset="0.9167" stop-color="#262626"/><stop offset="1" stop-color="#1d1d1d"/></linearGradient><linearGradient id="c66" href="#g0"><stop offset="0" stop-color="#080808"/><stop offset="0.0833" stop-color="#080808"/><stop offset="0.1667" stop-color="#080808"/><stop offset="0.25" stop-color="#080808"/><stop offset="0.3333" stop-color="#090909"/><stop offset="0.4167" stop-color="#101010"/><stop offset="0.5" stop-color="#151515"/><stop offset="0.5833" stop-color="#1a1a1a"/><stop offset="0.6667" stop-color="#232323"/><stop offset="0.75" stop-color="#262626"/><stop offset="0.8333" stop-color="#1f1f1f"/><stop offset="0.9167" stop-color="#1d1d1d"/><stop offset="1" stop-color="#252525"/></linearGradient><linearGradient id="c67" href="#g0"><stop offset="0" stop-color="#080808"/><stop offset="0.0833" stop-color="#080808"/><stop offset="0.1667" stop-color="#080808"/><stop offset="0.25" stop-color="#080808"/><stop offset="0.3333" stop-color="#080808"/><stop offset="0.4167" stop-color="#0d0d0d"/><stop offset="0.5" stop-color="#101010"/><stop offset="0.5833" stop-color="#151515"/><stop offset="0.6667" stop-color="#1f1f1f"/><stop offset="0.75" stop-color="#272727"/><stop offset="0.8333" stop-color="#1f1f1f"/><stop offset="0.9167" stop-color="#1f1f1f"/><stop offset="1" stop-color="#353535"/></linearGradient><linearGradient id="c68" href="#g0"><stop offset="0" stop-color="#090909"/><stop offset="0.0833" stop-color="#090909"/><stop offset="0.1667" stop-color="#090909"/><stop offset="0.25" stop-color="#090909"/><stop offset="0.3333" stop-color="#080808"/><stop offset="0.4167" stop-color="#0d0d0d"/><stop offset="0.5" stop-color="#101010"/><stop offset="0.5833" stop-color="#151515"/><stop offset="0.6667" stop-color="#1f1f1f"/><stop offset="0.75" stop-color="#292929"/><stop offset="0.8333" stop-color="#222"/><stop offset="0.9167" stop-color="#282828"/><stop offset="1" stop-color="#404040"/></linearGradient><linearGradient id="c69" href="#g0"><stop offset="0" stop-color="#0a0a0a"/><stop offset="0.0833" stop-color="#0a0a0a"/><stop offset="0.1667" stop-color="#0a0a0a"/><stop offset="0.25" stop-color="#0a0a0a"/><stop offset="0.3333" stop-color="#0a0a0a"/><stop offset="0.4167" stop-color="#121212"/><stop offset="0.5" stop-color="#161616"/><stop offset="0.5833" stop-color="#1c1c1c"/><stop offset="0.6667" stop-color="#242424"/><stop offset="0.75" stop-color="#2a2a2a"/><stop offset="0.8333" stop-color="#262626"/><stop offset="0.9167" stop-color="#343434"/><stop offset="1" stop-color="#444"/></linearGradient><linearGradient id="c70" href="#g0"><stop offset="0" stop-color="#0c0c0c"/><stop offset="0.0833" stop-color="#0c0c0c"/><stop offset="0.1667" stop-color="#0c0c0c"/><stop offset="0.25" stop-color="#0c0c0c"/><stop offset="0.3333" stop-color="#0d0d0d"/><stop offset="0.4167" stop-color="#181818"/><stop offset="0.5" stop-color="#1e1e1e"/><stop offset="0.5833" stop-color="#242424"/><stop offset="0.6667" stop-color="#2b2b2b"/><stop offset="0.75" stop-color="#2b2b2b"/><stop offset="0.8333" stop-color="#2a2a2a"/><stop offset="0.9167" stop-color="#3d3d3d"/><stop offset="1" stop-color="#454545"/></linearGradient><linearGradient id="c71" href="#g0"><stop offset="0" stop-color="#0e0e0e"/><stop offset="0.0833" stop-color="#0e0e0e"/><stop offset="0.1667" stop-color="#0e0e0e"/><stop offset="0.25" stop-color="#0e0e0e"/><stop offset="0.3333" stop-color="#111"/><stop offset="0.4167" stop-color="#1e1e1e"/><stop offset="0.5" stop-color="#272727"/><stop offset="0.5833" stop-color="#2a2a2a"/><stop offset="0.6667" stop-color="#313131"/><stop offset="0.75" stop-color="#2c2c2c"/><stop offset="0.8333" stop-color="#2f2f2f"/><stop offset="0.9167" stop-color="#414141"/><stop offset="1" stop-color="#444"/></linearGradient><linearGradient id="c72" href="#g0"><stop offset="0" stop-color="#111"/><stop offset="0.0833" stop-color="#111"/><stop offset="0.1667" stop-color="#111"/><stop offset="0.25" stop-color="#111"/><stop offset="0.3333" stop-color="#131313"/><stop offset="0.4167" stop-color="#212121"/><stop offset="0.5" stop-color="#2c2c2c"/><stop offset="0.5833" stop-color="#2b2b2b"/><stop offset="0.6667" stop-color="#333"/><stop offset="0.75" stop-color="#2e2e2e"/><stop offset="0.8333" stop-color="#333"/><stop offset="0.9167" stop-color="#434343"/><stop offset="1" stop-color="#424242"/></linearGradient><linearGradient id="c73" href="#g0"><stop offset="0" stop-color="#141414"/><stop offset="0.0833" stop-color="#141414"/><stop offset="0.1667" stop-color="#141414"/><stop offset="0.25" stop-color="#141414"/><stop offset="0.3333" stop-color="#151515"/><stop offset="0.4167" stop-color="#222"/><stop offset="0.5" stop-color="#2e2e2e"/><stop offset="0.5833" stop-color="#2b2b2b"/><stop offset="0.6667" stop-color="#333"/><stop offset="0.75" stop-color="#333"/><stop offset="0.8333" stop-color="#373737"/><stop offset="0.9167" stop-color="#454545"/><stop offset="1" stop-color="#3f3f3f"/></linearGradient><linearGradient id="c74" href="#g0"><stop offset="0" stop-color="#171717"/><stop offset="0.0833" stop-color="#171717"/><stop offset="0.1667" stop-color="#171717"/><stop offset="0.25" stop-color="#171717"/><stop offset="0.3333" stop-color="#181818"/><stop offset="0.4167" stop-color="#232323"/><stop offset="0.5" stop-color="#313131"/><stop offset="0.5833" stop-color="#2b2b2b"/><stop offset="0.6667" stop-color="#333"/><stop offset="0.75" stop-color="#3b3b3b"/><stop offset="0.8333" stop-color="#3b3b3b"/><stop offset="0.9167" stop-color="#464646"/><stop offset="1" stop-color="#3b3b3b"/></linearGradient><linearGradient id="c75" href="#g0"><stop offset="0" stop-color="#1a1a1a"/><stop offset="0.0833" stop-color="#1a1a1a"/><stop offset="0.1667" stop-color="#1a1a1a"/><stop offset="0.25" stop-color="#1a1a1a"/><stop offset="0.3333" stop-color="#1a1a1a"/><stop offset="0.4167" stop-color="#232323"/><stop offset="0.5" stop-color="#333"/><stop offset="0.5833" stop-color="#2b2b2b"/><stop offset="0.6667" stop-color="#333"/><stop offset="0.75" stop-color="#444"/><stop offset="0.8333" stop-color="#3f3f3f"/><stop offset="0.9167" stop-color="#474747"/><stop offset="1" stop-color="#383838"/></linearGradient><linearGradient id="c76" href="#g0"><stop offset="0" stop-color="#1b1b1b"/><stop offset="0.0833" stop-color="#1b1b1b"/><stop offset="0.1667" stop-color="#1b1b1b"/><stop offset="0.25" stop-color="#1b1b1b"/><stop offset="0.3333" stop-color="#1b1b1b"/><stop offset="0.4167" stop-color="#242424"/><stop offset="0.5" stop-color="#333"/><stop offset="0.5833" stop-color="#2b2b2b"/><stop offset="0.6667" stop-color="#333"/><stop offset="0.75" stop-color="#4b4b4b"/><stop offset="0.8333" stop-color="#434343"/><stop offset="0.9167" stop-color="#474747"/><stop offset="1" stop-color="#343434"/></linearGradient><linearGradient id="c77" href="#g0"><stop offset="0" stop-color="#1d1d1d"/><stop offset="0.0833" stop-color="#1d1d1d"/><stop offset="0.1667" stop-color="#1d1d1d"/><stop offset="0.25" stop-color="#1d1d1d"/><stop offset="0.3333" stop-color="#1d1d1d"/><stop offset="0.4167" stop-color="#242424"/><stop offset="0.5" stop-color="#323232"/><stop offset="0.5833" stop-color="#2b2b2b"/><stop offset="0.6667" stop-color="#333"/><stop offset="0.75" stop-color="#4e4e4e"/><stop offset="0.8333" stop-color="#484848"/><stop offset="0.9167" stop-color="#464646"/><stop offset="1" stop-color="#313131"/></linearGradient><linearGradient id="c78" href="#g0"><stop offset="0" stop-color="#1f1f1f"/><stop offset="0.0833" stop-color="#1f1f1f"/><stop offset="0.1667" stop-color="#1f1f1f"/><stop offset="0.25" stop-color="#1f1f1f"/><stop offset="0.3333" stop-color="#1e1e1e"/><stop offset="0.4167" stop-color="#252525"/><stop offset="0.5" stop-color="#313131"/><stop offset="0.5833" stop-color="#2c2c2c"/><stop offset="0.6667" stop-color="#343434"/><stop offset="0.75" stop-color="#525252"/><stop offset="0.8333" stop-color="#4f4f4f"/><stop offset="0.9167" stop-color="#424242"/><stop offset="1" stop-color="#2c2c2c"/></linearGradient><linearGradient id="c79" href="#g0"><stop offset="0" stop-color="#202020"/><stop offset="0.0833" stop-color="#202020"/><stop offset="0.1667" stop-color="#202020"/><stop offset="0.25" stop-color="#202020"/><stop offset="0.3333" stop-color="#202020"/><stop offset="0.4167" stop-color="#262626"/><stop offset="0.5" stop-color="#303030"/><stop offset="0.5833" stop-color="#2f2f2f"/><stop offset="0.6667" stop-color="#383838"/><stop offset="0.75" stop-color="#555"/><stop offset="0.8333" stop-color="#555"/><stop offset="0.9167" stop-color="#3b3b3b"/><stop offset="1" stop-color="#272727"/></linearGradient><linearGradient id="c80" href="#g0"><stop offset="0" stop-color="#222"/><stop offset="0.0833" stop-color="#222"/><stop offset="0.1667" stop-color="#222"/><stop offset="0.25" stop-color="#222"/><stop offset="0.3333" stop-color="#212121"/><stop offset="0.4167" stop-color="#272727"/><stop offset="0.5" stop-color="#2e2e2e"/><stop offset="0.5833" stop-color="#333"/><stop offset="0.6667" stop-color="#3d3d3d"/><stop offset="0.75" stop-color="#585858"/><stop offset="0.8333" stop-color="#5a5a5a"/><stop offset="0.9167" stop-color="#333"/><stop offset="1" stop-color="#272727"/></linearGradient><linearGradient id="c81" href="#g0"><stop offset="0" stop-color="#232323"/><stop offset="0.0833" stop-color="#232323"/><stop offset="0.1667" stop-color="#232323"/><stop offset="0.25" stop-color="#232323"/><stop offset="0.3333" stop-color="#232323"/><stop offset="0.4167" stop-color="#282828"/><stop offset="0.5" stop-color="#2e2e2e"/><stop offset="0.5833" stop-color="#383838"/><stop offset="0.6667" stop-color="#444"/><stop offset="0.75" stop-color="#5a5a5a"/><stop offset="0.8333" stop-color="#5c5c5c"/><stop offset="0.9167" stop-color="#2b2b2b"/><stop offset="1" stop-color="#343434"/></linearGradient><linearGradient id="c82" href="#g0"><stop offset="0" stop-color="#252525"/><stop offset="0.0833" stop-color="#252525"/><stop offset="0.1667" stop-color="#252525"/><stop offset="0.25" stop-color="#252525"/><stop offset="0.3333" stop-color="#242424"/><stop offset="0.4167" stop-color="#2a2a2a"/><stop offset="0.5" stop-color="#2f2f2f"/><stop offset="0.5833" stop-color="#3e3e3e"/><stop offset="0.6667" stop-color="#4a4a4a"/><stop offset="0.75" stop-color="#5b5b5b"/><stop offset="0.8333" stop-color="#5c5c5c"/><stop offset="0.9167" stop-color="#272727"/><stop offset="1" stop-color="#4b4b4b"/></linearGradient><linearGradient id="c83" href="#g0"><stop offset="0" stop-color="#272727"/><stop offset="0.0833" stop-color="#272727"/><stop offset="0.1667" stop-color="#272727"/><stop offset="0.25" stop-color="#272727"/><stop offset="0.3333" stop-color="#272727"/><stop offset="0.4167" stop-color="#2e2e2e"/><stop offset="0.5" stop-color="#343434"/><stop offset="0.5833" stop-color="#444"/><stop offset="0.6667" stop-color="#515151"/><stop offset="0.75" stop-color="#5c5c5c"/><stop offset="0.8333" stop-color="#5c5c5c"/><stop offset="0.9167" stop-color="#292929"/><stop offset="1" stop-color="#6a6a6a"/></linearGradient><linearGradient id="c84" href="#g0"><stop offset="0" stop-color="#282828"/><stop offset="0.0833" stop-color="#282828"/><stop offset="0.1667" stop-color="#282828"/><stop offset="0.25" stop-color="#2a2a2a"/><stop offset="0.3333" stop-color="#2c2c2c"/><stop offset="0.4167" stop-color="#343434"/><stop offset="0.5" stop-color="#3b3b3b"/><stop offset="0.5833" stop-color="#4b4b4b"/><stop offset="0.6667" stop-color="#5a5a5a"/><stop offset="0.75" stop-color="#5b5b5b"/><stop offset="0.8333" stop-color="#5c5c5c"/><stop offset="0.9167" stop-color="#3c3c3c"/><stop offset="1" stop-color="#787878"/></linearGradient><linearGradient id="c85" href="#g0"><stop offset="0" stop-color="#2a2a2a"/><stop offset="0.0833" stop-color="#2a2a2a"/><stop offset="0.1667" stop-color="#2a2a2a"/><stop offset="0.25" stop-color="#2e2e2e"/><stop offset="0.3333" stop-color="#333"/><stop offset="0.4167" stop-color="#3d3d3d"/><stop offset="0.5" stop-color="#474747"/><stop offset="0.5833" stop-color="#545454"/><stop offset="0.6667" stop-color="#646464"/><stop offset="0.75" stop-color="#585858"/><stop offset="0.8333" stop-color="#5c5c5c"/><stop offset="0.9167" stop-color="#565656"/><stop offset="1" stop-color="#575757"/></linearGradient><linearGradient id="c86" href="#g0"><stop offset="0" stop-color="#2c2c2c"/><stop offset="0.0833" stop-color="#2c2c2c"/><stop offset="0.1667" stop-color="#2d2d2d"/><stop offset="0.25" stop-color="#343434"/><stop offset="0.3333" stop-color="#404040"/><stop offset="0.4167" stop-color="#4c4c4c"/><stop offset="0.5" stop-color="#646464"/><stop offset="0.5833" stop-color="#666"/><stop offset="0.6667" stop-color="#6c6c6c"/><stop offset="0.75" stop-color="#545454"/><stop offset="0.8333" stop-color="#5c5c5c"/><stop offset="0.9167" stop-color="#696969"/><stop offset="1" stop-color="#515151"/></linearGradient><linearGradient id="c87" href="#g0"><stop offset="0" stop-color="#2f2f2f"/><stop offset="0.0833" stop-color="#303030"/><stop offset="0.1667" stop-color="#333"/><stop offset="0.25" stop-color="#424242"/><stop offset="0.3333" stop-color="#525252"/><stop offset="0.4167" stop-color="#5e5e5e"/><stop offset="0.5" stop-color="#7d7d7d"/><stop offset="0.5833" stop-color="#7a7a7a"/><stop offset="0.6667" stop-color="#727272"/><stop offset="0.75" stop-color="#515151"/><stop offset="0.8333" stop-color="#5c5c5c"/><stop offset="0.9167" stop-color="#6a6a6a"/><stop offset="1" stop-color="#4e4e4e"/></linearGradient><linearGradient id="c88" href="#g0"><stop offset="0" stop-color="#3b3b3b"/><stop offset="0.0833" stop-color="#404040"/><stop offset="0.1667" stop-color="#3f3f3f"/><stop offset="0.25" stop-color="#545454"/><stop offset="0.3333" stop-color="#626262"/><stop offset="0.4167" stop-color="#707070"/><stop offset="0.5" stop-color="#949494"/><stop offset="0.5833" stop-color="#818181"/><stop offset="0.6667" stop-color="#717171"/><stop offset="0.75" stop-color="#505050"/><stop offset="0.8333" stop-color="#5c5c5c"/><stop offset="0.9167" stop-color="#666"/><stop offset="1" stop-color="#4c4c4c"/></linearGradient><linearGradient id="c89" href="#g0"><stop offset="0" stop-color="#494949"/><stop offset="0.0833" stop-color="#545454"/><stop offset="0.1667" stop-color="#606060"/><stop offset="0.25" stop-color="#656565"/><stop offset="0.3333" stop-color="#737373"/><stop offset="0.4167" stop-color="#818181"/><stop offset="0.5" stop-color="#a8a8a8"/><stop offset="0.5833" stop-color="#838383"/><stop offset="0.6667" stop-color="#666"/><stop offset="0.75" stop-color="#515151"/><stop offset="0.8333" stop-color="#5c5c5c"/><stop offset="0.9167" stop-color="#5f5f5f"/><stop offset="1" stop-color="#4a4a4a"/></linearGradient><linearGradient id="c90" href="#g0"><stop offset="0" stop-color="#535353"/><stop offset="0.0833" stop-color="#626262"/><stop offset="0.1667" stop-color="#7c7c7c"/><stop offset="0.25" stop-color="#757575"/><stop offset="0.3333" stop-color="#808080"/><stop offset="0.4167" stop-color="#8e8e8e"/><stop offset="0.5" stop-color="#aeaeae"/><stop offset="0.5833" stop-color="#848484"/><stop offset="0.6667" stop-color="#555"/><stop offset="0.75" stop-color="#525252"/><stop offset="0.8333" stop-color="#5c5c5c"/><stop offset="0.9167" stop-color="#585858"/><stop offset="1" stop-color="#494949"/></linearGradient><linearGradient id="c91" href="#g0"><stop offset="0" stop-color="#5d5d5d"/><stop offset="0.0833" stop-color="#6e6e6e"/><stop offset="0.1667" stop-color="#909090"/><stop offset="0.25" stop-color="#828282"/><stop offset="0.3333" stop-color="#8a8a8a"/><stop offset="0.4167" stop-color="#8a8a8a"/><stop offset="0.5" stop-color="#a4a4a4"/><stop offset="0.5833" stop-color="#848484"/><stop offset="0.6667" stop-color="#464646"/><stop offset="0.75" stop-color="#535353"/><stop offset="0.8333" stop-color="#5c5c5c"/><stop offset="0.9167" stop-color="#545454"/><stop offset="1" stop-color="#484848"/></linearGradient><linearGradient id="c92" href="#g0"><stop offset="0" stop-color="#656565"/><stop offset="0.0833" stop-color="#787878"/><stop offset="0.1667" stop-color="#a2a2a2"/><stop offset="0.25" stop-color="#8a8a8a"/><stop offset="0.3333" stop-color="#868686"/><stop offset="0.4167" stop-color="#7f7f7f"/><stop offset="0.5" stop-color="#959595"/><stop offset="0.5833" stop-color="#838383"/><stop offset="0.6667" stop-color="#404040"/><stop offset="0.75" stop-color="#555"/><stop offset="0.8333" stop-color="#585858"/><stop offset="0.9167" stop-color="#525252"/><stop offset="1" stop-color="#474747"/></linearGradient><linearGradient id="c93" href="#g0"><stop offset="0" stop-color="#6b6b6b"/><stop offset="0.0833" stop-color="#7f7f7f"/><stop offset="0.1667" stop-color="#adadad"/><stop offset="0.25" stop-color="#858585"/><stop offset="0.3333" stop-color="#7e7e7e"/><stop offset="0.4167" stop-color="#717171"/><stop offset="0.5" stop-color="#858585"/><stop offset="0.5833" stop-color="#808080"/><stop offset="0.6667" stop-color="#454545"/><stop offset="0.75" stop-color="#575757"/><stop offset="0.8333" stop-color="#515151"/><stop offset="0.9167" stop-color="#4f4f4f"/><stop offset="1" stop-color="#454545"/></linearGradient><linearGradient id="c94" href="#g0"><stop offset="0" stop-color="#696969"/><stop offset="0.0833" stop-color="#7b7b7b"/><stop offset="0.1667" stop-color="#a5a5a5"/><stop offset="0.25" stop-color="#7d7d7d"/><stop offset="0.3333" stop-color="#767676"/><stop offset="0.4167" stop-color="#636363"/><stop offset="0.5" stop-color="#767676"/><stop offset="0.5833" stop-color="#7c7c7c"/><stop offset="0.6667" stop-color="#525252"/><stop offset="0.75" stop-color="#5a5a5a"/><stop offset="0.8333" stop-color="#4c4c4c"/><stop offset="0.9167" stop-color="#4e4e4e"/><stop offset="1" stop-color="#434343"/></linearGradient><linearGradient id="c95" href="#g0"><stop offset="0" stop-color="#636363"/><stop offset="0.0833" stop-color="#747474"/><stop offset="0.1667" stop-color="#959595"/><stop offset="0.25" stop-color="#6f6f6f"/><stop offset="0.3333" stop-color="#6e6e6e"/><stop offset="0.4167" stop-color="#545454"/><stop offset="0.5" stop-color="#707070"/><stop offset="0.5833" stop-color="#757575"/><stop offset="0.6667" stop-color="#606060"/><stop offset="0.75" stop-color="#606060"/><stop offset="0.8333" stop-color="#4d4d4d"/><stop offset="0.9167" stop-color="#4d4d4d"/><stop offset="1" stop-color="#3f3f3f"/></linearGradient><linearGradient id="c96" href="#g0"><stop offset="0" stop-color="#5c5c5c"/><stop offset="0.0833" stop-color="#6a6a6a"/><stop offset="0.1667" stop-color="#797979"/><stop offset="0.25" stop-color="#676767"/><stop offset="0.3333" stop-color="#656565"/><stop offset="0.4167" stop-color="#474747"/><stop offset="0.5" stop-color="#6b6b6b"/><stop offset="0.5833" stop-color="#737373"/><stop offset="0.6667" stop-color="#6c6c6c"/><stop offset="0.75" stop-color="#686868"/><stop offset="0.8333" stop-color="#515151"/><stop offset="0.9167" stop-color="#4d4d4d"/><stop offset="1" stop-color="#3a3a3a"/></linearGradient><linearGradient id="c97" href="#g0"><stop offset="0" stop-color="#525252"/><stop offset="0.0833" stop-color="#5f5f5f"/><stop offset="0.1667" stop-color="#676767"/><stop offset="0.25" stop-color="#646464"/><stop offset="0.3333" stop-color="#5f5f5f"/><stop offset="0.4167" stop-color="#444"/><stop offset="0.5" stop-color="#6b6b6b"/><stop offset="0.5833" stop-color="#7d7d7d"/><stop offset="0.6667" stop-color="#767676"/><stop offset="0.75" stop-color="#717171"/><stop offset="0.8333" stop-color="#565656"/><stop offset="0.9167" stop-color="#4f4f4f"/><stop offset="1" stop-color="#363636"/></linearGradient><linearGradient id="c98" href="#g0"><stop offset="0" stop-color="#4d4d4d"/><stop offset="0.0833" stop-color="#525252"/><stop offset="0.1667" stop-color="#5e5e5e"/><stop offset="0.25" stop-color="#626262"/><stop offset="0.3333" stop-color="#5e5e5e"/><stop offset="0.4167" stop-color="#464646"/><stop offset="0.5" stop-color="#838383"/><stop offset="0.5833" stop-color="#9c9c9c"/><stop offset="0.6667" stop-color="#808080"/><stop offset="0.75" stop-color="#7a7a7a"/><stop offset="0.8333" stop-color="#5b5b5b"/><stop offset="0.9167" stop-color="#525252"/><stop offset="1" stop-color="#343434"/></linearGradient><linearGradient id="c99" href="#g0"><stop offset="0" stop-color="#4b4b4b"/><stop offset="0.0833" stop-color="#4f4f4f"/><stop offset="0.1667" stop-color="#585858"/><stop offset="0.25" stop-color="#636363"/><stop offset="0.3333" stop-color="#626262"/><stop offset="0.4167" stop-color="#535353"/><stop offset="0.5" stop-color="#a0a0a0"/><stop offset="0.5833" stop-color="#cbcbcb"/><stop offset="0.6667" stop-color="#8e8e8e"/><stop offset="0.75" stop-color="#828282"/><stop offset="0.8333" stop-color="#5c5c5c"/><stop offset="0.9167" stop-color="#555"/><stop offset="1" stop-color="#333"/></linearGradient><linearGradient id="c100" href="#g0"><stop offset="0" stop-color="#4a4a4a"/><stop offset="0.0833" stop-color="#4f4f4f"/><stop offset="0.1667" stop-color="#5b5b5b"/><stop offset="0.25" stop-color="#656565"/><stop offset="0.3333" stop-color="#6b6b6b"/><stop offset="0.4167" stop-color="#7f7f7f"/><stop offset="0.5" stop-color="#bcbcbc"/><stop offset="0.5833" stop-color="#e3e3e3"/><stop offset="0.6667" stop-color="#a5a5a5"/><stop offset="0.75" stop-color="#8b8b8b"/><stop offset="0.8333" stop-color="#585858"/><stop offset="0.9167" stop-color="#585858"/><stop offset="1" stop-color="#353535"/></linearGradient><linearGradient id="c101" href="#g0"><stop offset="0" stop-color="#4f4f4f"/><stop offset="0.0833" stop-color="#555"/><stop offset="0.1667" stop-color="#656565"/><stop offset="0.25" stop-color="#6b6b6b"/><stop offset="0.3333" stop-color="#797979"/><stop offset="0.4167" stop-color="#a3a3a3"/><stop offset="0.5" stop-color="#c9c9c9"/><stop offset="0.5833" stop-color="#ededed"/><stop offset="0.6667" stop-color="#dedede"/><stop offset="0.75" stop-color="#949494"/><stop offset="0.8333" stop-color="#525252"/><stop offset="0.9167" stop-color="#5b5b5b"/><stop offset="1" stop-color="#393939"/></linearGradient><linearGradient id="c102" href="#g0"><stop offset="0" stop-color="#5e5e5e"/><stop offset="0.0833" stop-color="#616161"/><stop offset="0.1667" stop-color="#717171"/><stop offset="0.25" stop-color="#737373"/><stop offset="0.3333" stop-color="#999"/><stop offset="0.4167" stop-color="#bbb"/><stop offset="0.5" stop-color="#ccc"/><stop offset="0.5833" stop-color="#ebebeb"/><stop offset="0.6667" stop-color="#f1f1f1"/><stop offset="0.75" stop-color="#999"/><stop offset="0.8333" stop-color="#4b4b4b"/><stop offset="0.9167" stop-color="#5c5c5c"/><stop offset="1" stop-color="#3d3d3d"/></linearGradient><linearGradient id="c103" href="#g0"><stop offset="0" stop-color="#6d6d6d"/><stop offset="0.0833" stop-color="#696969"/><stop offset="0.1667" stop-color="#848484"/><stop offset="0.25" stop-color="#939393"/><stop offset="0.3333" stop-color="#b4b4b4"/><stop offset="0.4167" stop-color="#c7c7c7"/><stop offset="0.5" stop-color="#cbcbcb"/><stop offset="0.5833" stop-color="#e4e4e4"/><stop offset="0.6667" stop-color="#f7f7f7"/><stop offset="0.75" stop-color="#999"/><stop offset="0.8333" stop-color="#484848"/><stop offset="0.9167" stop-color="#5a5a5a"/><stop offset="1" stop-color="#404040"/></linearGradient><linearGradient id="c104" href="#g0"><stop offset="0" stop-color="#7c7c7c"/><stop offset="0.0833" stop-color="#767676"/><stop offset="0.1667" stop-color="#acacac"/><stop offset="0.25" stop-color="#a2a2a2"/><stop offset="0.3333" stop-color="#c7c7c7"/><stop offset="0.4167" stop-color="#ccc"/><stop offset="0.5" stop-color="#c2c2c2"/><stop offset="0.5833" stop-color="#cbcbcb"/><stop offset="0.6667" stop-color="#ececec"/><stop offset="0.75" stop-color="#989898"/><stop offset="0.8333" stop-color="#4a4a4a"/><stop offset="0.9167" stop-color="#545454"/><stop offset="1" stop-color="#3f3f3f"/></linearGradient><linearGradient id="c105" href="#g0"><stop offset="0" stop-color="#8b8b8b"/><stop offset="0.0833" stop-color="#868686"/><stop offset="0.1667" stop-color="#c6c6c6"/><stop offset="0.25" stop-color="#a8a8a8"/><stop offset="0.3333" stop-color="#d3d3d3"/><stop offset="0.4167" stop-color="#c7c7c7"/><stop offset="0.5" stop-color="#b3b3b3"/><stop offset="0.5833" stop-color="#a5a5a5"/><stop offset="0.6667" stop-color="#d0d0d0"/><stop offset="0.75" stop-color="#969696"/><stop offset="0.8333" stop-color="#535353"/><stop offset="0.9167" stop-color="#4c4c4c"/><stop offset="1" stop-color="#3b3b3b"/></linearGradient><linearGradient id="c106" href="#g0"><stop offset="0" stop-color="#949494"/><stop offset="0.0833" stop-color="#8f8f8f"/><stop offset="0.1667" stop-color="#d1d1d1"/><stop offset="0.25" stop-color="#a4a4a4"/><stop offset="0.3333" stop-color="#d5d5d5"/><stop offset="0.4167" stop-color="#bdbdbd"/><stop offset="0.5" stop-color="#9c9c9c"/><stop offset="0.5833" stop-color="#848484"/><stop offset="0.6667" stop-color="#a5a5a5"/><stop offset="0.75" stop-color="#949494"/><stop offset="0.8333" stop-color="#606060"/><stop offset="0.9167" stop-color="#444"/><stop offset="1" stop-color="#353535"/></linearGradient><linearGradient id="c107" href="#g0"><stop offset="0" stop-color="#878787"/><stop offset="0.0833" stop-color="#828282"/><stop offset="0.1667" stop-color="#c1c1c1"/><stop offset="0.25" stop-color="#9b9b9b"/><stop offset="0.3333" stop-color="#ccc"/><stop offset="0.4167" stop-color="#aaa"/><stop offset="0.5" stop-color="#878787"/><stop offset="0.5833" stop-color="#737373"/><stop offset="0.6667" stop-color="#7f7f7f"/><stop offset="0.75" stop-color="#929292"/><stop offset="0.8333" stop-color="#6e6e6e"/><stop offset="0.9167" stop-color="#3d3d3d"/><stop offset="1" stop-color="#2e2e2e"/></linearGradient><linearGradient id="c108" href="#g0"><stop offset="0" stop-color="#797979"/><stop offset="0.0833" stop-color="#727272"/><stop offset="0.1667" stop-color="#a7a7a7"/><stop offset="0.25" stop-color="#818181"/><stop offset="0.3333" stop-color="#bcbcbc"/><stop offset="0.4167" stop-color="#8a8a8a"/><stop offset="0.5" stop-color="#7d7d7d"/><stop offset="0.5833" stop-color="#737373"/><stop offset="0.6667" stop-color="#737373"/><stop offset="0.75" stop-color="#8f8f8f"/><stop offset="0.8333" stop-color="#777"/><stop offset="0.9167" stop-color="#363636"/><stop offset="1" stop-color="#272727"/></linearGradient><linearGradient id="c109" href="#g0"><stop offset="0" stop-color="#6a6a6a"/><stop offset="0.0833" stop-color="#676767"/><stop offset="0.1667" stop-color="#848484"/><stop offset="0.25" stop-color="#747474"/><stop offset="0.3333" stop-color="#a3a3a3"/><stop offset="0.4167" stop-color="#5c5c5c"/><stop offset="0.5" stop-color="#797979"/><stop offset="0.5833" stop-color="#767676"/><stop offset="0.6667" stop-color="#757575"/><stop offset="0.75" stop-color="#8c8c8c"/><stop offset="0.8333" stop-color="#7a7a7a"/><stop offset="0.9167" stop-color="#2e2e2e"/><stop offset="1" stop-color="#232323"/></linearGradient><linearGradient id="c110" href="#g0"><stop offset="0" stop-color="#5d5d5d"/><stop offset="0.0833" stop-color="#5f5f5f"/><stop offset="0.1667" stop-color="#676767"/><stop offset="0.25" stop-color="#6d6d6d"/><stop offset="0.3333" stop-color="#7c7c7c"/><stop offset="0.4167" stop-color="#555"/><stop offset="0.5" stop-color="#777"/><stop offset="0.5833" stop-color="#797979"/><stop offset="0.6667" stop-color="#797979"/><stop offset="0.75" stop-color="#858585"/><stop offset="0.8333" stop-color="#757575"/><stop offset="0.9167" stop-color="#272727"/><stop offset="1" stop-color="#212121"/></linearGradient><linearGradient id="c111" href="#g0"><stop offset="0" stop-color="#555"/><stop offset="0.0833" stop-color="#575757"/><stop offset="0.1667" stop-color="#535353"/><stop offset="0.25" stop-color="#6a6a6a"/><stop offset="0.3333" stop-color="#696969"/><stop offset="0.4167" stop-color="#535353"/><stop offset="0.5" stop-color="#797979"/><stop offset="0.5833" stop-color="#818181"/><stop offset="0.6667" stop-color="#7d7d7d"/><stop offset="0.75" stop-color="#7b7b7b"/><stop offset="0.8333" stop-color="#6a6a6a"/><stop offset="0.9167" stop-color="#212121"/><stop offset="1" stop-color="#222"/></linearGradient><linearGradient id="c112" href="#g0"><stop offset="0" stop-color="#525252"/><stop offset="0.0833" stop-color="#555"/><stop offset="0.1667" stop-color="#464646"/><stop offset="0.25" stop-color="#6c6c6c"/><stop offset="0.3333" stop-color="#676767"/><stop offset="0.4167" stop-color="#5d5d5d"/><stop offset="0.5" stop-color="#818181"/><stop offset="0.5833" stop-color="#8f8f8f"/><stop offset="0.6667" stop-color="#7f7f7f"/><stop offset="0.75" stop-color="#717171"/><stop offset="0.8333" stop-color="#5f5f5f"/><stop offset="0.9167" stop-color="#1f1f1f"/><stop offset="1" stop-color="#232323"/></linearGradient><linearGradient id="c113" href="#g0"><stop offset="0" stop-color="#505050"/><stop offset="0.0833" stop-color="#545454"/><stop offset="0.1667" stop-color="#3d3d3d"/><stop offset="0.25" stop-color="#717171"/><stop offset="0.3333" stop-color="#767676"/><stop offset="0.4167" stop-color="#6f6f6f"/><stop offset="0.5" stop-color="#8a8a8a"/><stop offset="0.5833" stop-color="#9d9d9d"/><stop offset="0.6667" stop-color="#7f7f7f"/><stop offset="0.75" stop-color="#686868"/><stop offset="0.8333" stop-color="#565656"/><stop offset="0.9167" stop-color="#202020"/><stop offset="1" stop-color="#242424"/></linearGradient><linearGradient id="c114" href="#g0"><stop offset="0" stop-color="#4f4f4f"/><stop offset="0.0833" stop-color="#555"/><stop offset="0.1667" stop-color="#383838"/><stop offset="0.25" stop-color="#777"/><stop offset="0.3333" stop-color="#868686"/><stop offset="0.4167" stop-color="#797979"/><stop offset="0.5" stop-color="#959595"/><stop offset="0.5833" stop-color="#999"/><stop offset="0.6667" stop-color="#7b7b7b"/><stop offset="0.75" stop-color="#626262"/><stop offset="0.8333" stop-color="#515151"/><stop offset="0.9167" stop-color="#232323"/><stop offset="1" stop-color="#252525"/></linearGradient><linearGradient id="c115" href="#g0"><stop offset="0" stop-color="#515151"/><stop offset="0.0833" stop-color="#595959"/><stop offset="0.1667" stop-color="#3c3c3c"/><stop offset="0.25" stop-color="#7c7c7c"/><stop offset="0.3333" stop-color="#8f8f8f"/><stop offset="0.4167" stop-color="#7f7f7f"/><stop offset="0.5" stop-color="#a9a9a9"/><stop offset="0.5833" stop-color="#8a8a8a"/><stop offset="0.6667" stop-color="#767676"/><stop offset="0.75" stop-color="#5b5b5b"/><stop offset="0.8333" stop-color="#4d4d4d"/><stop offset="0.9167" stop-color="#282828"/><stop offset="1" stop-color="#272727"/></linearGradient><linearGradient id="c116" href="#g0"><stop offset="0" stop-color="#585858"/><stop offset="0.0833" stop-color="#5e5e5e"/><stop offset="0.1667" stop-color="#484848"/><stop offset="0.25" stop-color="#7f7f7f"/><stop offset="0.3333" stop-color="#898989"/><stop offset="0.4167" stop-color="#7e7e7e"/><stop offset="0.5" stop-color="#b4b4b4"/><stop offset="0.5833" stop-color="#787878"/><stop offset="0.6667" stop-color="#6f6f6f"/><stop offset="0.75" stop-color="#565656"/><stop offset="0.8333" stop-color="#4a4a4a"/><stop offset="0.9167" stop-color="#2e2e2e"/><stop offset="1" stop-color="#292929"/></linearGradient><linearGradient id="c117" href="#g0"><stop offset="0" stop-color="#606060"/><stop offset="0.0833" stop-color="#626262"/><stop offset="0.1667" stop-color="#555"/><stop offset="0.25" stop-color="#7d7d7d"/><stop offset="0.3333" stop-color="#7d7d7d"/><stop offset="0.4167" stop-color="#787878"/><stop offset="0.5" stop-color="#ababab"/><stop offset="0.5833" stop-color="#686868"/><stop offset="0.6667" stop-color="#686868"/><stop offset="0.75" stop-color="#515151"/><stop offset="0.8333" stop-color="#474747"/><stop offset="0.9167" stop-color="#333"/><stop offset="1" stop-color="#2a2a2a"/></linearGradient><linearGradient id="c118" href="#g0"><stop offset="0" stop-color="#656565"/><stop offset="0.0833" stop-color="#656565"/><stop offset="0.1667" stop-color="#5c5c5c"/><stop offset="0.25" stop-color="#747474"/><stop offset="0.3333" stop-color="#696969"/><stop offset="0.4167" stop-color="#6f6f6f"/><stop offset="0.5" stop-color="#9b9b9b"/><stop offset="0.5833" stop-color="#5b5b5b"/><stop offset="0.6667" stop-color="#616161"/><stop offset="0.75" stop-color="#4e4e4e"/><stop offset="0.8333" stop-color="#454545"/><stop offset="0.9167" stop-color="#373737"/><stop offset="1" stop-color="#2b2b2b"/></linearGradient><linearGradient id="c119" href="#g0"><stop offset="0" stop-color="#656565"/><stop offset="0.0833" stop-color="#656565"/><stop offset="0.1667" stop-color="#5a5a5a"/><stop offset="0.25" stop-color="#686868"/><stop offset="0.3333" stop-color="#5b5b5b"/><stop offset="0.4167" stop-color="#5e5e5e"/><stop offset="0.5" stop-color="#848484"/><stop offset="0.5833" stop-color="#505050"/><stop offset="0.6667" stop-color="#5c5c5c"/><stop offset="0.75" stop-color="#4c4c4c"/><stop offset="0.8333" stop-color="#454545"/><stop offset="0.9167" stop-color="#383838"/><stop offset="1" stop-color="#2b2b2b"/></linearGradient><linearGradient id="c120" href="#g0"><stop offset="0" stop-color="#606060"/><stop offset="0.0833" stop-color="#5f5f5f"/><stop offset="0.1667" stop-color="#565656"/><stop offset="0.25" stop-color="#5a5a5a"/><stop offset="0.3333" stop-color="#505050"/><stop offset="0.4167" stop-color="#535353"/><stop offset="0.5" stop-color="#686868"/><stop offset="0.5833" stop-color="#4c4c4c"/><stop offset="0.6667" stop-color="#595959"/><stop offset="0.75" stop-color="#4c4c4c"/><stop offset="0.8333" stop-color="#464646"/><stop offset="0.9167" stop-color="#383838"/><stop offset="1" stop-color="#2b2b2b"/></linearGradient><linearGradient id="c121" href="#g0"><stop offset="0" stop-color="#595959"/><stop offset="0.0833" stop-color="#565656"/><stop offset="0.1667" stop-color="#505050"/><stop offset="0.25" stop-color="#4e4e4e"/><stop offset="0.3333" stop-color="#4d4d4d"/><stop offset="0.4167" stop-color="#505050"/><stop offset="0.5" stop-color="#595959"/><stop offset="0.5833" stop-color="#4c4c4c"/><stop offset="0.6667" stop-color="#575757"/><stop offset="0.75" stop-color="#4c4c4c"/><stop offset="0.8333" stop-color="#484848"/><stop offset="0.9167" stop-color="#373737"/><stop offset="1" stop-color="#2b2b2b"/></linearGradient><linearGradient id="c122" href="#g0"><stop offset="0" stop-color="#515151"/><stop offset="0.0833" stop-color="#4d4d4d"/><stop offset="0.1667" stop-color="#4b4b4b"/><stop offset="0.25" stop-color="#474747"/><stop offset="0.3333" stop-color="#4e4e4e"/><stop offset="0.4167" stop-color="#4e4e4e"/><stop offset="0.5" stop-color="#525252"/><stop offset="0.5833" stop-color="#4c4c4c"/><stop offset="0.6667" stop-color="#565656"/><stop offset="0.75" stop-color="#4c4c4c"/><stop offset="0.8333" stop-color="#4b4b4b"/><stop offset="0.9167" stop-color="#353535"/><stop offset="1" stop-color="#2b2b2b"/></linearGradient><linearGradient id="c123" href="#g0"><stop offset="0" stop-color="#4d4d4d"/><stop offset="0.0833" stop-color="#484848"/><stop offset="0.1667" stop-color="#484848"/><stop offset="0.25" stop-color="#494949"/><stop offset="0.3333" stop-color="#505050"/><stop offset="0.4167" stop-color="#4d4d4d"/><stop offset="0.5" stop-color="#525252"/><stop offset="0.5833" stop-color="#4c4c4c"/><stop offset="0.6667" stop-color="#555"/><stop offset="0.75" stop-color="#4c4c4c"/><stop offset="0.8333" stop-color="#4c4c4c"/><stop offset="0.9167" stop-color="#343434"/><stop offset="1" stop-color="#2b2b2b"/></linearGradient><linearGradient id="c124" href="#g0"><stop offset="0" stop-color="#4c4c4c"/><stop offset="0.0833" stop-color="#484848"/><stop offset="0.1667" stop-color="#474747"/><stop offset="0.25" stop-color="#4b4b4b"/><stop offset="0.3333" stop-color="#545454"/><stop offset="0.4167" stop-color="#4d4d4d"/><stop offset="0.5" stop-color="#535353"/><stop offset="0.5833" stop-color="#4e4e4e"/><stop offset="0.6667" stop-color="#545454"/><stop offset="0.75" stop-color="#4d4d4d"/><stop offset="0.8333" stop-color="#4c4c4c"/><stop offset="0.9167" stop-color="#313131"/><stop offset="1" stop-color="#2b2b2b"/></linearGradient><linearGradient id="c125" href="#g0"><stop offset="0" stop-color="#4c4c4c"/><stop offset="0.0833" stop-color="#484848"/><stop offset="0.1667" stop-color="#474747"/><stop offset="0.25" stop-color="#505050"/><stop offset="0.3333" stop-color="#575757"/><stop offset="0.4167" stop-color="#4e4e4e"/><stop offset="0.5" stop-color="#535353"/><stop offset="0.5833" stop-color="#555"/><stop offset="0.6667" stop-color="#545454"/><stop offset="0.75" stop-color="#515151"/><stop offset="0.8333" stop-color="#484848"/><stop offset="0.9167" stop-color="#2c2c2c"/><stop offset="1" stop-color="#2b2b2b"/></linearGradient><linearGradient id="c126" href="#g0"><stop offset="0" stop-color="#4c4c4c"/><stop offset="0.0833" stop-color="#4a4a4a"/><stop offset="0.1667" stop-color="#464646"/><stop offset="0.25" stop-color="#545454"/><stop offset="0.3333" stop-color="#5a5a5a"/><stop offset="0.4167" stop-color="#505050"/><stop offset="0.5" stop-color="#545454"/><stop offset="0.5833" stop-color="#5f5f5f"/><stop offset="0.6667" stop-color="#575757"/><stop offset="0.75" stop-color="#555"/><stop offset="0.8333" stop-color="#424242"/><stop offset="0.9167" stop-color="#282828"/><stop offset="1" stop-color="#2b2b2b"/></linearGradient><linearGradient id="c127" href="#g0"><stop offset="0" stop-color="#4c4c4c"/><stop offset="0.0833" stop-color="#4b4b4b"/><stop offset="0.1667" stop-color="#464646"/><stop offset="0.25" stop-color="#585858"/><stop offset="0.3333" stop-color="#5c5c5c"/><stop offset="0.4167" stop-color="#525252"/><stop offset="0.5" stop-color="#545454"/><stop offset="0.5833" stop-color="#6a6a6a"/><stop offset="0.6667" stop-color="#5a5a5a"/><stop offset="0.75" stop-color="#585858"/><stop offset="0.8333" stop-color="#3c3c3c"/><stop offset="0.9167" stop-color="#262626"/><stop offset="1" stop-color="#2b2b2b"/></linearGradient><linearGradient id="c128" href="#g0"><stop offset="0" stop-color="#4c4c4c"/><stop offset="0.0833" stop-color="#4d4d4d"/><stop offset="0.1667" stop-color="#464646"/><stop offset="0.25" stop-color="#5c5c5c"/><stop offset="0.3333" stop-color="#5e5e5e"/><stop offset="0.4167" stop-color="#545454"/><stop offset="0.5" stop-color="#545454"/><stop offset="0.5833" stop-color="#747474"/><stop offset="0.6667" stop-color="#5e5e5e"/><stop offset="0.75" stop-color="#595959"/><stop offset="0.8333" stop-color="#383838"/><stop offset="0.9167" stop-color="#292929"/><stop offset="1" stop-color="#2b2b2b"/></linearGradient><linearGradient id="c129" href="#g0"><stop offset="0" stop-color="#4c4c4c"/><stop offset="0.0833" stop-color="#4f4f4f"/><stop offset="0.1667" stop-color="#454545"/><stop offset="0.25" stop-color="#5e5e5e"/><stop offset="0.3333" stop-color="#606060"/><stop offset="0.4167" stop-color="#545454"/><stop offset="0.5" stop-color="#545454"/><stop offset="0.5833" stop-color="#7a7a7a"/><stop offset="0.6667" stop-color="#616161"/><stop offset="0.75" stop-color="#595959"/><stop offset="0.8333" stop-color="#343434"/><stop offset="0.9167" stop-color="#2e2e2e"/><stop offset="1" stop-color="#2b2b2b"/></linearGradient><linearGradient id="c130" href="#g0"><stop offset="0" stop-color="#4c4c4c"/><stop offset="0.0833" stop-color="#515151"/><stop offset="0.1667" stop-color="#444"/><stop offset="0.25" stop-color="#606060"/><stop offset="0.3333" stop-color="#626262"/><stop offset="0.4167" stop-color="#535353"/><stop offset="0.5" stop-color="#545454"/><stop offset="0.5833" stop-color="#787878"/><stop offset="0.6667" stop-color="#606060"/><stop offset="0.75" stop-color="#595959"/><stop offset="0.8333" stop-color="#303030"/><stop offset="0.9167" stop-color="#343434"/><stop offset="1" stop-color="#2a2a2a"/></linearGradient><linearGradient id="c131" href="#g0"><stop offset="0" stop-color="#4c4c4c"/><stop offset="0.0833" stop-color="#535353"/><stop offset="0.1667" stop-color="#414141"/><stop offset="0.25" stop-color="#636363"/><stop offset="0.3333" stop-color="#646464"/><stop offset="0.4167" stop-color="#515151"/><stop offset="0.5" stop-color="#545454"/><stop offset="0.5833" stop-color="#6e6e6e"/><stop offset="0.6667" stop-color="#5a5a5a"/><stop offset="0.75" stop-color="#585858"/><stop offset="0.8333" stop-color="#2d2d2d"/><stop offset="0.9167" stop-color="#3a3a3a"/><stop offset="1" stop-color="#292929"/></linearGradient><linearGradient id="c132" href="#g0"><stop offset="0" stop-color="#4a4a4a"/><stop offset="0.0833" stop-color="#575757"/><stop offset="0.1667" stop-color="#3e3e3e"/><stop offset="0.25" stop-color="#656565"/><stop offset="0.3333" stop-color="#656565"/><stop offset="0.4167" stop-color="#4e4e4e"/><stop offset="0.5" stop-color="#545454"/><stop offset="0.5833" stop-color="#5e5e5e"/><stop offset="0.6667" stop-color="#515151"/><stop offset="0.75" stop-color="#535353"/><stop offset="0.8333" stop-color="#2b2b2b"/><stop offset="0.9167" stop-color="#3e3e3e"/><stop offset="1" stop-color="#282828"/></linearGradient><linearGradient id="c133" href="#g0"><stop offset="0" stop-color="#474747"/><stop offset="0.0833" stop-color="#595959"/><stop offset="0.1667" stop-color="#3a3a3a"/><stop offset="0.25" stop-color="#666"/><stop offset="0.3333" stop-color="#666"/><stop offset="0.4167" stop-color="#4a4a4a"/><stop offset="0.5" stop-color="#535353"/><stop offset="0.5833" stop-color="#4e4e4e"/><stop offset="0.6667" stop-color="#474747"/><stop offset="0.75" stop-color="#4c4c4c"/><stop offset="0.8333" stop-color="#2c2c2c"/><stop offset="0.9167" stop-color="#404040"/><stop offset="1" stop-color="#272727"/></linearGradient><linearGradient id="c134" href="#g0"><stop offset="0" stop-color="#444"/><stop offset="0.0833" stop-color="#575757"/><stop offset="0.1667" stop-color="#383838"/><stop offset="0.25" stop-color="#656565"/><stop offset="0.3333" stop-color="#656565"/><stop offset="0.4167" stop-color="#464646"/><stop offset="0.5" stop-color="#4e4e4e"/><stop offset="0.5833" stop-color="#424242"/><stop offset="0.6667" stop-color="#3e3e3e"/><stop offset="0.75" stop-color="#444"/><stop offset="0.8333" stop-color="#2d2d2d"/><stop offset="0.9167" stop-color="#3e3e3e"/><stop offset="1" stop-color="#272727"/></linearGradient><linearGradient id="c135" href="#g0"><stop offset="0" stop-color="#414141"/><stop offset="0.0833" stop-color="#4d4d4d"/><stop offset="0.1667" stop-color="#363636"/><stop offset="0.25" stop-color="#585858"/><stop offset="0.3333" stop-color="#585858"/><stop offset="0.4167" stop-color="#404040"/><stop offset="0.5" stop-color="#454545"/><stop offset="0.5833" stop-color="#404040"/><stop offset="0.6667" stop-color="#393939"/><stop offset="0.75" stop-color="#3c3c3c"/><stop offset="0.8333" stop-color="#303030"/><stop offset="0.9167" stop-color="#3b3b3b"/><stop offset="1" stop-color="#262626"/></linearGradient><linearGradient id="c136" href="#g0"><stop offset="0" stop-color="#3e3e3e"/><stop offset="0.0833" stop-color="#414141"/><stop offset="0.1667" stop-color="#343434"/><stop offset="0.25" stop-color="#454545"/><stop offset="0.3333" stop-color="#454545"/><stop offset="0.4167" stop-color="#3a3a3a"/><stop offset="0.5" stop-color="#3d3d3d"/><stop offset="0.5833" stop-color="#434343"/><stop offset="0.6667" stop-color="#383838"/><stop offset="0.75" stop-color="#363636"/><stop offset="0.8333" stop-color="#333"/><stop offset="0.9167" stop-color="#363636"/><stop offset="1" stop-color="#252525"/></linearGradient><linearGradient id="c137" href="#g0"><stop offset="0" stop-color="#3a3a3a"/><stop offset="0.0833" stop-color="#3a3a3a"/><stop offset="0.1667" stop-color="#333"/><stop offset="0.25" stop-color="#3a3a3a"/><stop offset="0.3333" stop-color="#3a3a3a"/><stop offset="0.4167" stop-color="#353535"/><stop offset="0.5" stop-color="#373737"/><stop offset="0.5833" stop-color="#474747"/><stop offset="0.6667" stop-color="#383838"/><stop offset="0.75" stop-color="#333"/><stop offset="0.8333" stop-color="#363636"/><stop offset="0.9167" stop-color="#313131"/><stop offset="1" stop-color="#252525"/></linearGradient><linearGradient id="c138" href="#g0"><stop offset="0" stop-color="#363636"/><stop offset="0.0833" stop-color="#353535"/><stop offset="0.1667" stop-color="#323232"/><stop offset="0.25" stop-color="#353535"/><stop offset="0.3333" stop-color="#353535"/><stop offset="0.4167" stop-color="#323232"/><stop offset="0.5" stop-color="#333"/><stop offset="0.5833" stop-color="#4b4b4b"/><stop offset="0.6667" stop-color="#393939"/><stop offset="0.75" stop-color="#313131"/><stop offset="0.8333" stop-color="#383838"/><stop offset="0.9167" stop-color="#2d2d2d"/><stop offset="1" stop-color="#242424"/></linearGradient><linearGradient id="c139" href="#g0"><stop offset="0" stop-color="#323232"/><stop offset="0.0833" stop-color="#323232"/><stop offset="0.1667" stop-color="#313131"/><stop offset="0.25" stop-color="#323232"/><stop offset="0.3333" stop-color="#323232"/><stop offset="0.4167" stop-color="#2f2f2f"/><stop offset="0.5" stop-color="#303030"/><stop offset="0.5833" stop-color="#4c4c4c"/><stop offset="0.6667" stop-color="#393939"/><stop offset="0.75" stop-color="#2f2f2f"/><stop offset="0.8333" stop-color="#393939"/><stop offset="0.9167" stop-color="#2b2b2b"/><stop offset="1" stop-color="#242424"/></linearGradient><linearGradient id="c140" href="#g0"><stop offset="0" stop-color="#303030"/><stop offset="0.0833" stop-color="#303030"/><stop offset="0.1667" stop-color="#303030"/><stop offset="0.25" stop-color="#303030"/><stop offset="0.3333" stop-color="#303030"/><stop offset="0.4167" stop-color="#2e2e2e"/><stop offset="0.5" stop-color="#2e2e2e"/><stop offset="0.5833" stop-color="#4a4a4a"/><stop offset="0.6667" stop-color="#383838"/><stop offset="0.75" stop-color="#2e2e2e"/><stop offset="0.8333" stop-color="#383838"/><stop offset="0.9167" stop-color="#2a2a2a"/><stop offset="1" stop-color="#232323"/></linearGradient><linearGradient id="c141" href="#g0"><stop offset="0" stop-color="#303030"/><stop offset="0.0833" stop-color="#303030"/><stop offset="0.1667" stop-color="#303030"/><stop offset="0.25" stop-color="#303030"/><stop offset="0.3333" stop-color="#303030"/><stop offset="0.4167" stop-color="#2d2d2d"/><stop offset="0.5" stop-color="#2d2d2d"/><stop offset="0.5833" stop-color="#434343"/><stop offset="0.6667" stop-color="#353535"/><stop offset="0.75" stop-color="#2d2d2d"/><stop offset="0.8333" stop-color="#373737"/><stop offset="0.9167" stop-color="#292929"/><stop offset="1" stop-color="#222"/></linearGradient><linearGradient id="c142" href="#g0"><stop offset="0" stop-color="#303030"/><stop offset="0.0833" stop-color="#303030"/><stop offset="0.1667" stop-color="#303030"/><stop offset="0.25" stop-color="#303030"/><stop offset="0.3333" stop-color="#303030"/><stop offset="0.4167" stop-color="#2d2d2d"/><stop offset="0.5" stop-color="#2d2d2d"/><stop offset="0.5833" stop-color="#3a3a3a"/><stop offset="0.6667" stop-color="#323232"/><stop offset="0.75" stop-color="#2c2c2c"/><stop offset="0.8333" stop-color="#343434"/><stop offset="0.9167" stop-color="#282828"/><stop offset="1" stop-color="#222"/></linearGradient><linearGradient id="c143" href="#g0"><stop offset="0" stop-color="#303030"/><stop offset="0.0833" stop-color="#303030"/><stop offset="0.1667" stop-color="#303030"/><stop offset="0.25" stop-color="#303030"/><stop offset="0.3333" stop-color="#303030"/><stop offset="0.4167" stop-color="#2c2c2c"/><stop offset="0.5" stop-color="#2c2c2c"/><stop offset="0.5833" stop-color="#313131"/><stop offset="0.6667" stop-color="#2e2e2e"/><stop offset="0.75" stop-color="#2b2b2b"/><stop offset="0.8333" stop-color="#323232"/><stop offset="0.9167" stop-color="#282828"/><stop offset="1" stop-color="#212121"/></linearGradient><linearGradient id="c144" href="#g0"><stop offset="0" stop-color="#303030"/><stop offset="0.0833" stop-color="#303030"/><stop offset="0.1667" stop-color="#303030"/><stop offset="0.25" stop-color="#303030"/><stop offset="0.3333" stop-color="#303030"/><stop offset="0.4167" stop-color="#2c2c2c"/><stop offset="0.5" stop-color="#2c2c2c"/><stop offset="0.5833" stop-color="#2b2b2b"/><stop offset="0.6667" stop-color="#2b2b2b"/><stop offset="0.75" stop-color="#2b2b2b"/><stop offset="0.8333" stop-color="#2f2f2f"/><stop offset="0.9167" stop-color="#272727"/><stop offset="1" stop-color="#202020"/></linearGradient><linearGradient id="c145" href="#g0"><stop offset="0" stop-color="#2f2f2f"/><stop offset="0.0833" stop-color="#2f2f2f"/><stop offset="0.1667" stop-color="#2f2f2f"/><stop offset="0.25" stop-color="#2f2f2f"/><stop offset="0.3333" stop-color="#2f2f2f"/><stop offset="0.4167" stop-color="#2b2b2b"/><stop offset="0.5" stop-color="#2b2b2b"/><stop offset="0.5833" stop-color="#292929"/><stop offset="0.6667" stop-color="#292929"/><stop offset="0.75" stop-color="#2a2a2a"/><stop offset="0.8333" stop-color="#2c2c2c"/><stop offset="0.9167" stop-color="#262626"/><stop offset="1" stop-color="#1f1f1f"/></linearGradient><linearGradient id="c146" href="#g0"><stop offset="0" stop-color="#2e2e2e"/><stop offset="0.0833" stop-color="#2e2e2e"/><stop offset="0.1667" stop-color="#2e2e2e"/><stop offset="0.25" stop-color="#2e2e2e"/><stop offset="0.3333" stop-color="#2e2e2e"/><stop offset="0.4167" stop-color="#2a2a2a"/><stop offset="0.5" stop-color="#2b2b2b"/><stop offset="0.5833" stop-color="#262626"/><stop offset="0.6667" stop-color="#272727"/><stop offset="0.75" stop-color="#2a2a2a"/><stop offset="0.8333" stop-color="#2a2a2a"/><stop offset="0.9167" stop-color="#252525"/><stop offset="1" stop-color="#1e1e1e"/></linearGradient><linearGradient id="c147" href="#g0"><stop offset="0" stop-color="#2c2c2c"/><stop offset="0.0833" stop-color="#2c2c2c"/><stop offset="0.1667" stop-color="#2c2c2c"/><stop offset="0.25" stop-color="#2c2c2c"/><stop offset="0.3333" stop-color="#2c2c2c"/><stop offset="0.4167" stop-color="#292929"/><stop offset="0.5" stop-color="#292929"/><stop offset="0.5833" stop-color="#242424"/><stop offset="0.6667" stop-color="#252525"/><stop offset="0.75" stop-color="#292929"/><stop offset="0.8333" stop-color="#292929"/><stop offset="0.9167" stop-color="#242424"/><stop offset="1" stop-color="#1d1d1d"/></linearGradient><linearGradient id="c148" href="#g0"><stop offset="0" stop-color="#292929"/><stop offset="0.0833" stop-color="#292929"/><stop offset="0.1667" stop-color="#292929"/><stop offset="0.25" stop-color="#292929"/><stop offset="0.3333" stop-color="#292929"/><stop offset="0.4167" stop-color="#262626"/><stop offset="0.5" stop-color="#282828"/><stop offset="0.5833" stop-color="#232323"/><stop offset="0.6667" stop-color="#232323"/><stop offset="0.75" stop-color="#292929"/><stop offset="0.8333" stop-color="#272727"/><stop offset="0.9167" stop-color="#232323"/><stop offset="1" stop-color="#1b1b1b"/></linearGradient><linearGradient id="c149" href="#g0"><stop offset="0" stop-color="#252525"/><stop offset="0.0833" stop-color="#252525"/><stop offset="0.1667" stop-color="#252525"/><stop offset="0.25" stop-color="#252525"/><stop offset="0.3333" stop-color="#252525"/><stop offset="0.4167" stop-color="#242424"/><stop offset="0.5" stop-color="#262626"/><stop offset="0.5833" stop-color="#212121"/><stop offset="0.6667" stop-color="#212121"/><stop offset="0.75" stop-color="#282828"/><stop offset="0.8333" stop-color="#262626"/><stop offset="0.9167" stop-color="#222"/><stop offset="1" stop-color="#1a1a1a"/></linearGradient><linearGradient id="c150" href="#g0"><stop offset="0" stop-color="#232323"/><stop offset="0.0833" stop-color="#232323"/><stop offset="0.1667" stop-color="#232323"/><stop offset="0.25" stop-color="#232323"/><stop offset="0.3333" stop-color="#232323"/><stop offset="0.4167" stop-color="#222"/><stop offset="0.5" stop-color="#252525"/><stop offset="0.5833" stop-color="#202020"/><stop offset="0.6667" stop-color="#202020"/><stop offset="0.75" stop-color="#282828"/><stop offset="0.8333" stop-color="#242424"/><stop offset="0.9167" stop-color="#202020"/><stop offset="1" stop-color="#191919"/></linearGradient><linearGradient id="c151" href="#g0"><stop offset="0" stop-color="#212121"/><stop offset="0.0833" stop-color="#212121"/><stop offset="0.1667" stop-color="#212121"/><stop offset="0.25" stop-color="#212121"/><stop offset="0.3333" stop-color="#212121"/><stop offset="0.4167" stop-color="#212121"/><stop offset="0.5" stop-color="#232323"/><stop offset="0.5833" stop-color="#1e1e1e"/><stop offset="0.6667" stop-color="#1e1e1e"/><stop offset="0.75" stop-color="#282828"/><stop offset="0.8333" stop-color="#232323"/><stop offset="0.9167" stop-color="#1f1f1f"/><stop offset="1" stop-color="#181818"/></linearGradient><linearGradient id="c152" href="#g0"><stop offset="0" stop-color="#202020"/><stop offset="0.0833" stop-color="#202020"/><stop offset="0.1667" stop-color="#202020"/><stop offset="0.25" stop-color="#202020"/><stop offset="0.3333" stop-color="#202020"/><stop offset="0.4167" stop-color="#202020"/><stop offset="0.5" stop-color="#222"/><stop offset="0.5833" stop-color="#1d1d1d"/><stop offset="0.6667" stop-color="#1d1d1d"/><stop offset="0.75" stop-color="#272727"/><stop offset="0.8333" stop-color="#222"/><stop offset="0.9167" stop-color="#1d1d1d"/><stop offset="1" stop-color="#171717"/></linearGradient><linearGradient id="c153" href="#g0"><stop offset="0" stop-color="#1f1f1f"/><stop offset="0.0833" stop-color="#1f1f1f"/><stop offset="0.1667" stop-color="#1f1f1f"/><stop offset="0.25" stop-color="#1f1f1f"/><stop offset="0.3333" stop-color="#1f1f1f"/><stop offset="0.4167" stop-color="#1f1f1f"/><stop offset="0.5" stop-color="#212121"/><stop offset="0.5833" stop-color="#1b1b1b"/><stop offset="0.6667" stop-color="#1b1b1b"/><stop offset="0.75" stop-color="#272727"/><stop offset="0.8333" stop-color="#202020"/><stop offset="0.9167" stop-color="#1c1c1c"/><stop offset="1" stop-color="#161616"/></linearGradient><linearGradient id="c154" href="#g0"><stop offset="0" stop-color="#1e1e1e"/><stop offset="0.0833" stop-color="#1e1e1e"/><stop offset="0.1667" stop-color="#1e1e1e"/><stop offset="0.25" stop-color="#1e1e1e"/><stop offset="0.3333" stop-color="#1e1e1e"/><stop offset="0.4167" stop-color="#1e1e1e"/><stop offset="0.5" stop-color="#202020"/><stop offset="0.5833" stop-color="#191919"/><stop offset="0.6667" stop-color="#1a1a1a"/><stop offset="0.75" stop-color="#262626"/><stop offset="0.8333" stop-color="#1f1f1f"/><stop offset="0.9167" stop-color="#1b1b1b"/><stop offset="1" stop-color="#151515"/></linearGradient><linearGradient id="c155" href="#g0"><stop offset="0" stop-color="#1d1d1d"/><stop offset="0.0833" stop-color="#1d1d1d"/><stop offset="0.1667" stop-color="#1d1d1d"/><stop offset="0.25" stop-color="#1d1d1d"/><stop offset="0.3333" stop-color="#1d1d1d"/><stop offset="0.4167" stop-color="#1d1d1d"/><stop offset="0.5" stop-color="#202020"/><stop offset="0.5833" stop-color="#171717"/><stop offset="0.6667" stop-color="#191919"/><stop offset="0.75" stop-color="#262626"/><stop offset="0.8333" stop-color="#1e1e1e"/><stop offset="0.9167" stop-color="#191919"/><stop offset="1" stop-color="#131313"/></linearGradient><linearGradient id="c156" href="#g0"><stop offset="0" stop-color="#1c1c1c"/><stop offset="0.0833" stop-color="#1c1c1c"/><stop offset="0.1667" stop-color="#1c1c1c"/><stop offset="0.25" stop-color="#1c1c1c"/><stop offset="0.3333" stop-color="#1c1c1c"/><stop offset="0.4167" stop-color="#1c1c1c"/><stop offset="0.5" stop-color="#1f1f1f"/><stop offset="0.5833" stop-color="#151515"/><stop offset="0.6667" stop-color="#171717"/><stop offset="0.75" stop-color="#252525"/><stop offset="0.8333" stop-color="#1d1d1d"/><stop offset="0.9167" stop-color="#181818"/><stop offset="1" stop-color="#121212"/></linearGradient><linearGradient id="c157" href="#g0"><stop offset="0" stop-color="#1b1b1b"/><stop offset="0.0833" stop-color="#1b1b1b"/><stop offset="0.1667" stop-color="#1b1b1b"/><stop offset="0.25" stop-color="#1b1b1b"/><stop offset="0.3333" stop-color="#1b1b1b"/><stop offset="0.4167" stop-color="#1b1b1b"/><stop offset="0.5" stop-color="#1e1e1e"/><stop offset="0.5833" stop-color="#131313"/><stop offset="0.6667" stop-color="#161616"/><stop offset="0.75" stop-color="#252525"/><stop offset="0.8333" stop-color="#1c1c1c"/><stop offset="0.9167" stop-color="#161616"/><stop offset="1" stop-color="#111"/></linearGradient><linearGradient id="c158" href="#g0"><stop offset="0" stop-color="#1a1a1a"/><stop offset="0.0833" stop-color="#1a1a1a"/><stop offset="0.1667" stop-color="#1a1a1a"/><stop offset="0.25" stop-color="#1a1a1a"/><stop offset="0.3333" stop-color="#1a1a1a"/><stop offset="0.4167" stop-color="#1a1a1a"/><stop offset="0.5" stop-color="#1d1d1d"/><stop offset="0.5833" stop-color="#101010"/><stop offset="0.6667" stop-color="#151515"/><stop offset="0.75" stop-color="#252525"/><stop offset="0.8333" stop-color="#1a1a1a"/><stop offset="0.9167" stop-color="#151515"/><stop offset="1" stop-color="#111"/></linearGradient><linearGradient id="c159" href="#g0"><stop offset="0" stop-color="#191919"/><stop offset="0.0833" stop-color="#191919"/><stop offset="0.1667" stop-color="#191919"/><stop offset="0.25" stop-color="#191919"/><stop offset="0.3333" stop-color="#191919"/><stop offset="0.4167" stop-color="#191919"/><stop offset="0.5" stop-color="#1c1c1c"/><stop offset="0.5833" stop-color="#0e0e0e"/><stop offset="0.6667" stop-color="#141414"/><stop offset="0.75" stop-color="#242424"/><stop offset="0.8333" stop-color="#191919"/><stop offset="0.9167" stop-color="#141414"/><stop offset="1" stop-color="#101010"/></linearGradient><linearGradient id="c160" href="#g0"><stop offset="0" stop-color="#191919"/><stop offset="0.0833" stop-color="#191919"/><stop offset="0.1667" stop-color="#191919"/><stop offset="0.25" stop-color="#191919"/><stop offset="0.3333" stop-color="#191919"/><stop offset="0.4167" stop-color="#191919"/><stop offset="0.5" stop-color="#1b1b1b"/><stop offset="0.5833" stop-color="#0d0d0d"/><stop offset="0.6667" stop-color="#131313"/><stop offset="0.75" stop-color="#232323"/><stop offset="0.8333" stop-color="#181818"/><stop offset="0.9167" stop-color="#121212"/><stop offset="1" stop-color="#0f0f0f"/></linearGradient><linearGradient id="c161" href="#g0"><stop offset="0" stop-color="#181818"/><stop offset="0.0833" stop-color="#181818"/><stop offset="0.1667" stop-color="#181818"/><stop offset="0.25" stop-color="#181818"/><stop offset="0.3333" stop-color="#181818"/><stop offset="0.4167" stop-color="#181818"/><stop offset="0.5" stop-color="#1a1a1a"/><stop offset="0.5833" stop-color="#0c0c0c"/><stop offset="0.6667" stop-color="#131313"/><stop offset="0.75" stop-color="#232323"/><stop offset="0.8333" stop-color="#171717"/><stop offset="0.9167" stop-color="#111"/><stop offset="1" stop-color="#0e0e0e"/></linearGradient><linearGradient id="c162" href="#g0"><stop offset="0" stop-color="#171717"/><stop offset="0.0833" stop-color="#171717"/><stop offset="0.1667" stop-color="#171717"/><stop offset="0.25" stop-color="#171717"/><stop offset="0.3333" stop-color="#171717"/><stop offset="0.4167" stop-color="#171717"/><stop offset="0.5" stop-color="#191919"/><stop offset="0.5833" stop-color="#0b0b0b"/><stop offset="0.6667" stop-color="#121212"/><stop offset="0.75" stop-color="#222"/><stop offset="0.8333" stop-color="#171717"/><stop offset="0.9167" stop-color="#111"/><stop offset="1" stop-color="#0e0e0e"/></linearGradient><linearGradient id="c163" href="#g0"><stop offset="0" stop-color="#151515"/><stop offset="0.0833" stop-color="#151515"/><stop offset="0.1667" stop-color="#151515"/><stop offset="0.25" stop-color="#151515"/><stop offset="0.3333" stop-color="#151515"/><stop offset="0.4167" stop-color="#161616"/><stop offset="0.5" stop-color="#191919"/><stop offset="0.5833" stop-color="#0c0c0c"/><stop offset="0.6667" stop-color="#121212"/><stop offset="0.75" stop-color="#202020"/><stop offset="0.8333" stop-color="#161616"/><stop offset="0.9167" stop-color="#101010"/><stop offset="1" stop-color="#0d0d0d"/></linearGradient><linearGradient id="c164" href="#g0"><stop offset="0" stop-color="#141414"/><stop offset="0.0833" stop-color="#141414"/><stop offset="0.1667" stop-color="#141414"/><stop offset="0.25" stop-color="#141414"/><stop offset="0.3333" stop-color="#141414"/><stop offset="0.4167" stop-color="#141414"/><stop offset="0.5" stop-color="#191919"/><stop offset="0.5833" stop-color="#0d0d0d"/><stop offset="0.6667" stop-color="#111"/><stop offset="0.75" stop-color="#1d1d1d"/><stop offset="0.8333" stop-color="#151515"/><stop offset="0.9167" stop-color="#101010"/><stop offset="1" stop-color="#0d0d0d"/></linearGradient><linearGradient id="c165" href="#g0"><stop offset="0" stop-color="#121212"/><stop offset="0.0833" stop-color="#121212"/><stop offset="0.1667" stop-color="#121212"/><stop offset="0.25" stop-color="#121212"/><stop offset="0.3333" stop-color="#121212"/><stop offset="0.4167" stop-color="#131313"/><stop offset="0.5" stop-color="#181818"/><stop offset="0.5833" stop-color="#0e0e0e"/><stop offset="0.6667" stop-color="#111"/><stop offset="0.75" stop-color="#1b1b1b"/><stop offset="0.8333" stop-color="#151515"/><stop offset="0.9167" stop-color="#101010"/><stop offset="1" stop-color="#0d0d0d"/></linearGradient><linearGradient id="c166" href="#g0"><stop offset="0" stop-color="#101010"/><stop offset="0.0833" stop-color="#101010"/><stop offset="0.1667" stop-color="#101010"/><stop offset="0.25" stop-color="#101010"/><stop offset="0.3333" stop-color="#101010"/><stop offset="0.4167" stop-color="#121212"/><stop offset="0.5" stop-color="#181818"/><stop offset="0.5833" stop-color="#0f0f0f"/><stop offset="0.6667" stop-color="#111"/><stop offset="0.75" stop-color="#181818"/><stop offset="0.8333" stop-color="#141414"/><stop offset="0.9167" stop-color="#101010"/><stop offset="1" stop-color="#0c0c0c"/></linearGradient><linearGradient id="c167" href="#g0"><stop offset="0" stop-color="#0f0f0f"/><stop offset="0.0833" stop-color="#0f0f0f"/><stop offset="0.1667" stop-color="#0f0f0f"/><stop offset="0.25" stop-color="#0f0f0f"/><stop offset="0.3333" stop-color="#0f0f0f"/><stop offset="0.4167" stop-color="#111"/><stop offset="0.5" stop-color="#181818"/><stop offset="0.5833" stop-color="#101010"/><stop offset="0.6667" stop-color="#101010"/><stop offset="0.75" stop-color="#161616"/><stop offset="0.8333" stop-color="#141414"/><stop offset="0.9167" stop-color="#111"/><stop offset="1" stop-color="#0c0c0c"/></linearGradient><linearGradient id="c168" href="#g0"><stop offset="0" stop-color="#0d0d0d"/><stop offset="0.0833" stop-color="#0d0d0d"/><stop offset="0.1667" stop-color="#0d0d0d"/><stop offset="0.25" stop-color="#0d0d0d"/><stop offset="0.3333" stop-color="#0d0d0d"/><stop offset="0.4167" stop-color="#101010"/><stop offset="0.5" stop-color="#171717"/><stop offset="0.5833" stop-color="#101010"/><stop offset="0.6667" stop-color="#101010"/><stop offset="0.75" stop-color="#141414"/><stop offset="0.8333" stop-color="#131313"/><stop offset="0.9167" stop-color="#121212"/><stop offset="1" stop-color="#0c0c0c"/></linearGradient><linearGradient id="c169" href="#g0"><stop offset="0" stop-color="#0c0c0c"/><stop offset="0.0833" stop-color="#0c0c0c"/><stop offset="0.1667" stop-color="#0c0c0c"/><stop offset="0.25" stop-color="#0c0c0c"/><stop offset="0.3333" stop-color="#0c0c0c"/><stop offset="0.4167" stop-color="#0e0e0e"/><stop offset="0.5" stop-color="#161616"/><stop offset="0.5833" stop-color="#101010"/><stop offset="0.6667" stop-color="#101010"/><stop offset="0.75" stop-color="#131313"/><stop offset="0.8333" stop-color="#121212"/><stop offset="0.9167" stop-color="#121212"/><stop offset="1" stop-color="#0c0c0c"/></linearGradient><linearGradient id="c170" href="#g0"><stop offset="0" stop-color="#0a0a0a"/><stop offset="0.0833" stop-color="#0a0a0a"/><stop offset="0.1667" stop-color="#0a0a0a"/><stop offset="0.25" stop-color="#0a0a0a"/><stop offset="0.3333" stop-color="#0a0a0a"/><stop offset="0.4167" stop-color="#0d0d0d"/><stop offset="0.5" stop-color="#151515"/><stop offset="0.5833" stop-color="#101010"/><stop offset="0.6667" stop-color="#0f0f0f"/><stop offset="0.75" stop-color="#121212"/><stop offset="0.8333" stop-color="#121212"/><stop offset="0.9167" stop-color="#131313"/><stop offset="1" stop-color="#0b0b0b"/></linearGradient><linearGradient id="c171" href="#g0"><stop offset="0" stop-color="#090909"/><stop offset="0.0833" stop-color="#090909"/><stop offset="0.1667" stop-color="#090909"/><stop offset="0.25" stop-color="#090909"/><stop offset="0.3333" stop-color="#090909"/><stop offset="0.4167" stop-color="#0c0c0c"/><stop offset="0.5" stop-color="#141414"/><stop offset="0.5833" stop-color="#101010"/><stop offset="0.6667" stop-color="#0f0f0f"/><stop offset="0.75" stop-color="#111"/><stop offset="0.8333" stop-color="#111"/><stop offset="0.9167" stop-color="#141414"/><stop offset="1" stop-color="#0b0b0b"/></linearGradient><linearGradient id="c172" href="#g0"><stop offset="0" stop-color="#080808"/><stop offset="0.0833" stop-color="#080808"/><stop offset="0.1667" stop-color="#080808"/><stop offset="0.25" stop-color="#080808"/><stop offset="0.3333" stop-color="#080808"/><stop offset="0.4167" stop-color="#0b0b0b"/><stop offset="0.5" stop-color="#131313"/><stop offset="0.5833" stop-color="#0f0f0f"/><stop offset="0.6667" stop-color="#0f0f0f"/><stop offset="0.75" stop-color="#101010"/><stop offset="0.8333" stop-color="#111"/><stop offset="0.9167" stop-color="#141414"/><stop offset="1" stop-color="#0b0b0b"/></linearGradient><linearGradient id="c173" href="#g0"><stop offset="0" stop-color="#070707"/><stop offset="0.0833" stop-color="#070707"/><stop offset="0.1667" stop-color="#070707"/><stop offset="0.25" stop-color="#070707"/><stop offset="0.3333" stop-color="#070707"/><stop offset="0.4167" stop-color="#0a0a0a"/><stop offset="0.5" stop-color="#121212"/><stop offset="0.5833" stop-color="#0e0e0e"/><stop offset="0.6667" stop-color="#0e0e0e"/><stop offset="0.75" stop-color="#101010"/><stop offset="0.8333" stop-color="#101010"/><stop offset="0.9167" stop-color="#141414"/><stop offset="1" stop-color="#0b0b0b"/></linearGradient><linearGradient id="c174" href="#g0"><stop offset="0" stop-color="#060606"/><stop offset="0.0833" stop-color="#060606"/><stop offset="0.1667" stop-color="#060606"/><stop offset="0.25" stop-color="#060606"/><stop offset="0.3333" stop-color="#060606"/><stop offset="0.4167" stop-color="#080808"/><stop offset="0.5" stop-color="#101010"/><stop offset="0.5833" stop-color="#0d0d0d"/><stop offset="0.6667" stop-color="#0e0e0e"/><stop offset="0.75" stop-color="#0f0f0f"/><stop offset="0.8333" stop-color="#101010"/><stop offset="0.9167" stop-color="#141414"/><stop offset="1" stop-color="#0a0a0a"/></linearGradient><linearGradient id="c175" href="#g0"><stop offset="0" stop-color="#050505"/><stop offset="0.0833" stop-color="#050505"/><stop offset="0.1667" stop-color="#050505"/><stop offset="0.25" stop-color="#050505"/><stop offset="0.3333" stop-color="#050505"/><stop offset="0.4167" stop-color="#070707"/><stop offset="0.5" stop-color="#0f0f0f"/><stop offset="0.5833" stop-color="#0c0c0c"/><stop offset="0.6667" stop-color="#0d0d0d"/><stop offset="0.75" stop-color="#0e0e0e"/><stop offset="0.8333" stop-color="#0f0f0f"/><stop offset="0.9167" stop-color="#141414"/><stop offset="1" stop-color="#0a0a0a"/></linearGradient><linearGradient id="c176" href="#g0"><stop offset="0" stop-color="#040404"/><stop offset="0.0833" stop-color="#040404"/><stop offset="0.1667" stop-color="#040404"/><stop offset="0.25" stop-color="#040404"/><stop offset="0.3333" stop-color="#040404"/><stop offset="0.4167" stop-color="#060606"/><stop offset="0.5" stop-color="#0e0e0e"/><stop offset="0.5833" stop-color="#0b0b0b"/><stop offset="0.6667" stop-color="#0d0d0d"/><stop offset="0.75" stop-color="#0e0e0e"/><stop offset="0.8333" stop-color="#0f0f0f"/><stop offset="0.9167" stop-color="#131313"/><stop offset="1" stop-color="#0a0a0a"/></linearGradient><linearGradient id="c177" href="#g0"><stop offset="0" stop-color="#030303"/><stop offset="0.0833" stop-color="#030303"/><stop offset="0.1667" stop-color="#030303"/><stop offset="0.25" stop-color="#030303"/><stop offset="0.3333" stop-color="#030303"/><stop offset="0.4167" stop-color="#050505"/><stop offset="0.5" stop-color="#0c0c0c"/><stop offset="0.5833" stop-color="#0b0b0b"/><stop offset="0.6667" stop-color="#0c0c0c"/><stop offset="0.75" stop-color="#0d0d0d"/><stop offset="0.8333" stop-color="#0e0e0e"/><stop offset="0.9167" stop-color="#111"/><stop offset="1" stop-color="#0a0a0a"/></linearGradient><linearGradient id="c178" href="#g0"><stop offset="0" stop-color="#020202"/><stop offset="0.0833" stop-color="#020202"/><stop offset="0.1667" stop-color="#020202"/><stop offset="0.25" stop-color="#020202"/><stop offset="0.3333" stop-color="#020202"/><stop offset="0.4167" stop-color="#040404"/><stop offset="0.5" stop-color="#0b0b0b"/><stop offset="0.5833" stop-color="#0a0a0a"/><stop offset="0.6667" stop-color="#0b0b0b"/><stop offset="0.75" stop-color="#0d0d0d"/><stop offset="0.8333" stop-color="#0d0d0d"/><stop offset="0.9167" stop-color="#101010"/><stop offset="1" stop-color="#0a0a0a"/></linearGradient><linearGradient id="c179" href="#g0"><stop offset="0" stop-color="#010101"/><stop offset="0.0833" stop-color="#010101"/><stop offset="0.1667" stop-color="#010101"/><stop offset="0.25" stop-color="#010101"/><stop offset="0.3333" stop-color="#010101"/><stop offset="0.4167" stop-color="#030303"/><stop offset="0.5" stop-color="#0a0a0a"/><stop offset="0.5833" stop-color="#090909"/><stop offset="0.6667" stop-color="#0a0a0a"/><stop offset="0.75" stop-color="#0c0c0c"/><stop offset="0.8333" stop-color="#0d0d0d"/><stop offset="0.9167" stop-color="#0f0f0f"/><stop offset="1" stop-color="#090909"/></linearGradient><linearGradient id="c180" href="#g0"><stop offset="0" stop-color="#000"/><stop offset="0.0833" stop-color="#000"/><stop offset="0.1667" stop-color="#000"/><stop offset="0.25" stop-color="#000"/><stop offset="0.3333" stop-color="#000"/><stop offset="0.4167" stop-color="#020202"/><stop offset="0.5" stop-color="#080808"/><stop offset="0.5833" stop-color="#080808"/><stop offset="0.6667" stop-color="#0a0a0a"/><stop offset="0.75" stop-color="#0c0c0c"/><stop offset="0.8333" stop-color="#0c0c0c"/><stop offset="0.9167" stop-color="#0d0d0d"/><stop offset="1" stop-color="#090909"/></linearGradient><linearGradient id="c181" href="#g0"><stop offset="0" stop-color="#000"/><stop offset="0.0833" stop-color="#000"/><stop offset="0.1667" stop-color="#000"/><stop offset="0.25" stop-color="#000"/><stop offset="0.3333" stop-color="#000"/><stop offset="0.4167" stop-color="#010101"/><stop offset="0.5" stop-color="#070707"/><stop offset="0.5833" stop-color="#070707"/><stop offset="0.6667" stop-color="#090909"/><stop offset="0.75" stop-color="#0b0b0b"/><stop offset="0.8333" stop-color="#0c0c0c"/><stop offset="0.9167" stop-color="#0c0c0c"/><stop offset="1" stop-color="#090909"/></linearGradient><linearGradient id="c182" href="#g0"><stop offset="0" stop-color="#000"/><stop offset="0.0833" stop-color="#000"/><stop offset="0.1667" stop-color="#000"/><stop offset="0.25" stop-color="#000"/><stop offset="0.3333" stop-color="#000"/><stop offset="0.4167" stop-color="#000"/><stop offset="0.5" stop-color="#060606"/><stop offset="0.5833" stop-color="#060606"/><stop offset="0.6667" stop-color="#080808"/><stop offset="0.75" stop-color="#0b0b0b"/><stop offset="0.8333" stop-color="#0b0b0b"/><stop offset="0.9167" stop-color="#0b0b0b"/><stop offset="1" stop-color="#090909"/></linearGradient><linearGradient id="c183" href="#g0"><stop offset="0" stop-color="#000"/><stop offset="0.0833" stop-color="#000"/><stop offset="0.1667" stop-color="#000"/><stop offset="0.25" stop-color="#000"/><stop offset="0.3333" stop-color="#000"/><stop offset="0.4167" stop-color="#000"/><stop offset="0.5" stop-color="#050505"/><stop offset="0.5833" stop-color="#050505"/><stop offset="0.6667" stop-color="#080808"/><stop offset="0.75" stop-color="#0a0a0a"/><stop offset="0.8333" stop-color="#0a0a0a"/><stop offset="0.9167" stop-color="#0a0a0a"/><stop offset="1" stop-color="#090909"/></linearGradient><linearGradient id="c184" href="#g0"><stop offset="0" stop-color="#000"/><stop offset="0.0833" stop-color="#000"/><stop offset="0.1667" stop-color="#000"/><stop offset="0.25" stop-color="#000"/><stop offset="0.3333" stop-color="#000"/><stop offset="0.4167" stop-color="#000"/><stop offset="0.5" stop-color="#050505"/><stop offset="0.5833" stop-color="#050505"/><stop offset="0.6667" stop-color="#070707"/><stop offset="0.75" stop-color="#0a0a0a"/><stop offset="0.8333" stop-color="#0a0a0a"/><stop offset="0.9167" stop-color="#0a0a0a"/><stop offset="1" stop-color="#080808"/></linearGradient><linearGradient id="c185" href="#g0"><stop offset="0" stop-color="#000"/><stop offset="0.0833" stop-color="#000"/><stop offset="0.1667" stop-color="#000"/><stop offset="0.25" stop-color="#000"/><stop offset="0.3333" stop-color="#000"/><stop offset="0.4167" stop-color="#000"/><stop offset="0.5" stop-color="#040404"/><stop offset="0.5833" stop-color="#040404"/><stop offset="0.6667" stop-color="#070707"/><stop offset="0.75" stop-color="#090909"/><stop offset="0.8333" stop-color="#090909"/><stop offset="0.9167" stop-color="#0a0a0a"/><stop offset="1" stop-color="#080808"/></linearGradient><linearGradient id="c186" href="#g0"><stop offset="0" stop-color="#000"/><stop offset="0.0833" stop-color="#000"/><stop offset="0.1667" stop-color="#000"/><stop offset="0.25" stop-color="#000"/><stop offset="0.3333" stop-color="#000"/><stop offset="0.4167" stop-color="#000"/><stop offset="0.5" stop-color="#040404"/><stop offset="0.5833" stop-color="#040404"/><stop offset="0.6667" stop-color="#060606"/><stop offset="0.75" stop-color="#090909"/><stop offset="0.8333" stop-color="#090909"/><stop offset="0.9167" stop-color="#090909"/><stop offset="1" stop-color="#080808"/></linearGradient><linearGradient id="c187" href="#g0"><stop offset="0" stop-color="#000"/><stop offset="0.0833" stop-color="#000"/><stop offset="0.1667" stop-color="#000"/><stop offset="0.25" stop-color="#000"/><stop offset="0.3333" stop-color="#000"/><stop offset="0.4167" stop-color="#000"/><stop offset="0.5" stop-color="#030303"/><stop offset="0.5833" stop-color="#030303"/><stop offset="0.6667" stop-color="#060606"/><stop offset="0.75" stop-color="#090909"/><stop offset="0.8333" stop-color="#080808"/><stop offset="0.9167" stop-color="#090909"/><stop offset="1" stop-color="#080808"/></linearGradient><linearGradient id="c188" href="#g0"><stop offset="0" stop-color="#000"/><stop offset="0.0833" stop-color="#000"/><stop offset="0.1667" stop-color="#000"/><stop offset="0.25" stop-color="#000"/><stop offset="0.3333" stop-color="#000"/><stop offset="0.4167" stop-color="#000"/><stop offset="0.5" stop-color="#030303"/><stop offset="0.5833" stop-color="#030303"/><stop offset="0.6667" stop-color="#050505"/><stop offset="0.75" stop-color="#080808"/><stop offset="0.8333" stop-color="#070707"/><stop offset="0.9167" stop-color="#090909"/><stop offset="1" stop-color="#080808"/></linearGradient><linearGradient id="c189" href="#g0"><stop offset="0" stop-color="#000"/><stop offset="0.0833" stop-color="#000"/><stop offset="0.1667" stop-color="#000"/><stop offset="0.25" stop-color="#000"/><stop offset="0.3333" stop-color="#000"/><stop offset="0.4167" stop-color="#000"/><stop offset="0.5" stop-color="#020202"/><stop offset="0.5833" stop-color="#020202"/><stop offset="0.6667" stop-color="#050505"/><stop offset="0.75" stop-color="#080808"/><stop offset="0.8333" stop-color="#070707"/><stop offset="0.9167" stop-color="#090909"/><stop offset="1" stop-color="#070707"/></linearGradient><linearGradient id="c190" href="#g0"><stop offset="0" stop-color="#000"/><stop offset="0.0833" stop-color="#000"/><stop offset="0.1667" stop-color="#000"/><stop offset="0.25" stop-color="#000"/><stop offset="0.3333" stop-color="#000"/><stop offset="0.4167" stop-color="#000"/><stop offset="0.5" stop-color="#020202"/><stop offset="0.5833" stop-color="#020202"/><stop offset="0.6667" stop-color="#050505"/><stop offset="0.75" stop-color="#070707"/><stop offset="0.8333" stop-color="#060606"/><stop offset="0.9167" stop-color="#080808"/><stop offset="1" stop-color="#070707"/></linearGradient><linearGradient id="c191" href="#g0"><stop offset="0" stop-color="#000"/><stop offset="0.0833" stop-color="#000"/><stop offset="0.1667" stop-color="#000"/><stop offset="0.25" stop-color="#000"/><stop offset="0.3333" stop-color="#000"/><stop offset="0.4167" stop-color="#000"/><stop offset="0.5" stop-color="#010101"/><stop offset="0.5833" stop-color="#010101"/><stop offset="0.6667" stop-color="#040404"/><stop offset="0.75" stop-color="#070707"/><stop offset="0.8333" stop-color="#060606"/><stop offset="0.9167" stop-color="#080808"/><stop offset="1" stop-color="#070707"/></linearGradient><linearGradient id="c192" href="#g0"><stop offset="0" stop-color="#000"/><stop offset="0.0833" stop-color="#000"/><stop offset="0.1667" stop-color="#000"/><stop offset="0.25" stop-color="#000"/><stop offset="0.3333" stop-color="#000"/><stop offset="0.4167" stop-color="#000"/><stop offset="0.5" stop-color="#010101"/><stop offset="0.5833" stop-color="#010101"/><stop offset="0.6667" stop-color="#040404"/><stop offset="0.75" stop-color="#070707"/><stop offset="0.8333" stop-color="#050505"/><stop offset="0.9167" stop-color="#080808"/><stop offset="1" stop-color="#060606"/></linearGradient><linearGradient id="c193" href="#g0"><stop offset="0" stop-color="#000"/><stop offset="0.0833" stop-color="#000"/><stop offset="0.1667" stop-color="#000"/><stop offset="0.25" stop-color="#000"/><stop offset="0.3333" stop-color="#000"/><stop offset="0.4167" stop-color="#000"/><stop offset="0.5" stop-color="#000"/><stop offset="0.5833" stop-color="#010101"/><stop offset="0.6667" stop-color="#030303"/><stop offset="0.75" stop-color="#060606"/><stop offset="0.8333" stop-color="#050505"/><stop offset="0.9167" stop-color="#070707"/><stop offset="1" stop-color="#060606"/></linearGradient><linearGradient id="c194" href="#g0"><stop offset="0" stop-color="#000"/><stop offset="0.0833" stop-color="#000"/><stop offset="0.1667" stop-color="#000"/><stop offset="0.25" stop-color="#000"/><stop offset="0.3333" stop-color="#000"/><stop offset="0.4167" stop-color="#000"/><stop offset="0.5" stop-color="#000"/><stop offset="0.5833" stop-color="#000"/><stop offset="0.6667" stop-color="#030303"/><stop offset="0.75" stop-color="#060606"/><stop offset="0.8333" stop-color="#040404"/><stop offset="0.9167" stop-color="#070707"/><stop offset="1" stop-color="#050505"/></linearGradient><linearGradient id="c195" href="#g0"><stop offset="0" stop-color="#000"/><stop offset="0.0833" stop-color="#000"/><stop offset="0.1667" stop-color="#000"/><stop offset="0.25" stop-color="#000"/><stop offset="0.3333" stop-color="#000"/><stop offset="0.4167" stop-color="#000"/><stop offset="0.5" stop-color="#000"/><stop offset="0.5833" stop-color="#000"/><stop offset="0.6667" stop-color="#030303"/><stop offset="0.75" stop-color="#060606"/><stop offset="0.8333" stop-color="#040404"/><stop offset="0.9167" stop-color="#070707"/><stop offset="1" stop-color="#050505"/></linearGradient><linearGradient id="c196" href="#g0"><stop offset="0" stop-color="#000"/><stop offset="0.0833" stop-color="#000"/><stop offset="0.1667" stop-color="#000"/><stop offset="0.25" stop-color="#000"/><stop offset="0.3333" stop-color="#000"/><stop offset="0.4167" stop-color="#000"/><stop offset="0.5" stop-color="#000"/><stop offset="0.5833" stop-color="#000"/><stop offset="0.6667" stop-color="#030303"/><stop offset="0.75" stop-color="#050505"/><stop offset="0.8333" stop-color="#030303"/><stop offset="0.9167" stop-color="#060606"/><stop offset="1" stop-color="#040404"/></linearGradient><linearGradient id="c197" href="#g0"><stop offset="0" stop-color="#000"/><stop offset="0.0833" stop-color="#000"/><stop offset="0.1667" stop-color="#000"/><stop offset="0.25" stop-color="#000"/><stop offset="0.3333" stop-color="#000"/><stop offset="0.4167" stop-color="#000"/><stop offset="0.5" stop-color="#000"/><stop offset="0.5833" stop-color="#000"/><stop offset="0.6667" stop-color="#020202"/><stop offset="0.75" stop-color="#050505"/><stop offset="0.8333" stop-color="#030303"/><stop offset="0.9167" stop-color="#060606"/><stop offset="1" stop-color="#040404"/></linearGradient><linearGradient id="c198" href="#g0"><stop offset="0" stop-color="#000"/><stop offset="0.0833" stop-color="#000"/><stop offset="0.1667" stop-color="#000"/><stop offset="0.25" stop-color="#000"/><stop offset="0.3333" stop-color="#000"/><stop offset="0.4167" stop-color="#000"/><stop offset="0.5" stop-color="#000"/><stop offset="0.5833" stop-color="#000"/><stop offset="0.6667" stop-color="#020202"/><stop offset="0.75" stop-color="#050505"/><stop offset="0.8333" stop-color="#020202"/><stop offset="0.9167" stop-color="#050505"/><stop offset="1" stop-color="#030303"/></linearGradient><linearGradient id="c199" href="#g0"><stop offset="0" stop-color="#000"/><stop offset="0.0833" stop-color="#000"/><stop offset="0.1667" stop-color="#000"/><stop offset="0.25" stop-color="#000"/><stop offset="0.3333" stop-color="#000"/><stop offset="0.4167" stop-color="#000"/><stop offset="0.5" stop-color="#000"/><stop offset="0.5833" stop-color="#000"/><stop offset="0.6667" stop-color="#020202"/><stop offset="0.75" stop-color="#040404"/><stop offset="0.8333" stop-color="#020202"/><stop offset="0.9167" stop-color="#050505"/><stop offset="1" stop-color="#030303"/></linearGradient><linearGradient id="c200" href="#g0"><stop offset="0" stop-color="#000"/><stop offset="0.0833" stop-color="#000"/><stop offset="0.1667" stop-color="#000"/><stop offset="0.25" stop-color="#000"/><stop offset="0.3333" stop-color="#000"/><stop offset="0.4167" stop-color="#000"/><stop offset="0.5" stop-color="#000"/><stop offset="0.5833" stop-color="#000"/><stop offset="0.6667" stop-color="#020202"/><stop offset="0.75" stop-color="#040404"/><stop offset="0.8333" stop-color="#010101"/><stop offset="0.9167" stop-color="#040404"/><stop offset="1" stop-color="#030303"/></linearGradient><linearGradient id="c201" href="#g0"><stop offset="0" stop-color="#000"/><stop offset="0.0833" stop-color="#000"/><stop offset="0.1667" stop-color="#000"/><stop offset="0.25" stop-color="#000"/><stop offset="0.3333" stop-color="#000"/><stop offset="0.4167" stop-color="#000"/><stop offset="0.5" stop-color="#000"/><stop offset="0.5833" stop-color="#000"/><stop offset="0.6667" stop-color="#020202"/><stop offset="0.75" stop-color="#040404"/><stop offset="0.8333" stop-color="#010101"/><stop offset="0.9167" stop-color="#040404"/><stop offset="1" stop-color="#030303"/></linearGradient><linearGradient id="c202" href="#g0"><stop offset="0" stop-color="#000"/><stop offset="0.0833" stop-color="#000"/><stop offset="0.1667" stop-color="#000"/><stop offset="0.25" stop-color="#000"/><stop offset="0.3333" stop-color="#000"/><stop offset="0.4167" stop-color="#000"/><stop offset="0.5" stop-color="#000"/><stop offset="0.5833" stop-color="#000"/><stop offset="0.6667" stop-color="#020202"/><stop offset="0.75" stop-color="#030303"/><stop offset="0.8333" stop-color="#000"/><stop offset="0.9167" stop-color="#040404"/><stop offset="1" stop-color="#020202"/></linearGradient><linearGradient id="c203" href="#g0"><stop offset="0" stop-color="#000"/><stop offset="0.0833" stop-color="#000"/><stop offset="0.1667" stop-color="#000"/><stop offset="0.25" stop-color="#000"/><stop offset="0.3333" stop-color="#000"/><stop offset="0.4167" stop-color="#000"/><stop offset="0.5" stop-color="#000"/><stop offset="0.5833" stop-color="#000"/><stop offset="0.6667" stop-color="#010101"/><stop offset="0.75" stop-color="#030303"/><stop offset="0.8333" stop-color="#000"/><stop offset="0.9167" stop-color="#030303"/><stop offset="1" stop-color="#020202"/></linearGradient><linearGradient id="c204" href="#g0"><stop offset="0" stop-color="#000"/><stop offset="0.0833" stop-color="#000"/><stop offset="0.1667" stop-color="#000"/><stop offset="0.25" stop-color="#000"/><stop offset="0.3333" stop-color="#000"/><stop offset="0.4167" stop-color="#000"/><stop offset="0.5" stop-color="#000"/><stop offset="0.5833" stop-color="#000"/><stop offset="0.6667" stop-color="#010101"/><stop offset="0.75" stop-color="#030303"/><stop offset="0.8333" stop-color="#000"/><stop offset="0.9167" stop-color="#030303"/><stop offset="1" stop-color="#020202"/></linearGradient><linearGradient id="c205" href="#g0"><stop offset="0" stop-color="#000"/><stop offset="0.0833" stop-color="#000"/><stop offset="0.1667" stop-color="#000"/><stop offset="0.25" stop-color="#000"/><stop offset="0.3333" stop-color="#000"/><stop offset="0.4167" stop-color="#000"/><stop offset="0.5" stop-color="#000"/><stop offset="0.5833" stop-color="#000"/><stop offset="0.6667" stop-color="#010101"/><stop offset="0.75" stop-color="#020202"/><stop offset="0.8333" stop-color="#000"/><stop offset="0.9167" stop-color="#030303"/><stop offset="1" stop-color="#020202"/></linearGradient><linearGradient id="c206" href="#g0"><stop offset="0" stop-color="#000"/><stop offset="0.0833" stop-color="#000"/><stop offset="0.1667" stop-color="#000"/><stop offset="0.25" stop-color="#000"/><stop offset="0.3333" stop-color="#000"/><stop offset="0.4167" stop-color="#000"/><stop offset="0.5" stop-color="#000"/><stop offset="0.5833" stop-color="#000"/><stop offset="0.6667" stop-color="#010101"/><stop offset="0.75" stop-color="#020202"/><stop offset="0.8333" stop-color="#000"/><stop offset="0.9167" stop-color="#020202"/><stop offset="1" stop-color="#010101"/></linearGradient><linearGradient id="c207" href="#g0"><stop offset="0" stop-color="#000"/><stop offset="0.0833" stop-color="#000"/><stop offset="0.1667" stop-color="#000"/><stop offset="0.25" stop-color="#000"/><stop offset="0.3333" stop-color="#000"/><stop offset="0.4167" stop-color="#000"/><stop offset="0.5" stop-color="#000"/><stop offset="0.5833" stop-color="#000"/><stop offset="0.6667" stop-color="#010101"/><stop offset="0.75" stop-color="#020202"/><stop offset="0.8333" stop-color="#000"/><stop offset="0.9167" stop-color="#020202"/><stop offset="1" stop-color="#010101"/></linearGradient><linearGradient id="c208" href="#g0"><stop offset="0" stop-color="#000"/><stop offset="0.0833" stop-color="#000"/><stop offset="0.1667" stop-color="#000"/><stop offset="0.25" stop-color="#000"/><stop offset="0.3333" stop-color="#000"/><stop offset="0.4167" stop-color="#000"/><stop offset="0.5" stop-color="#000"/><stop offset="0.5833" stop-color="#000"/><stop offset="0.6667" stop-color="#010101"/><stop offset="0.75" stop-color="#020202"/><stop offset="0.8333" stop-color="#000"/><stop offset="0.9167" stop-color="#020202"/><stop offset="1" stop-color="#010101"/></linearGradient><linearGradient id="c209" href="#g0"><stop offset="0" stop-color="#000"/><stop offset="0.0833" stop-color="#000"/><stop offset="0.1667" stop-color="#000"/><stop offset="0.25" stop-color="#000"/><stop offset="0.3333" stop-color="#000"/><stop offset="0.4167" stop-color="#000"/><stop offset="0.5" stop-color="#000"/><stop offset="0.5833" stop-color="#000"/><stop offset="0.6667" stop-color="#010101"/><stop offset="0.75" stop-color="#010101"/><stop offset="0.8333" stop-color="#000"/><stop offset="0.9167" stop-color="#020202"/><stop offset="1" stop-color="#010101"/></linearGradient><linearGradient id="c210" href="#g0"><stop offset="0" stop-color="#000"/><stop offset="0.0833" stop-color="#000"/><stop offset="0.1667" stop-color="#000"/><stop offset="0.25" stop-color="#000"/><stop offset="0.3333" stop-color="#000"/><stop offset="0.4167" stop-color="#000"/><stop offset="0.5" stop-color="#000"/><stop offset="0.5833" stop-color="#000"/><stop offset="0.6667" stop-color="#000"/><stop offset="0.75" stop-color="#010101"/><stop offset="0.8333" stop-color="#000"/><stop offset="0.9167" stop-color="#010101"/><stop offset="1" stop-color="#010101"/></linearGradient><linearGradient id="c211" href="#g0"><stop offset="0" stop-color="#000"/><stop offset="0.0833" stop-color="#000"/><stop offset="0.1667" stop-color="#000"/><stop offset="0.25" stop-color="#000"/><stop offset="0.3333" stop-color="#000"/><stop offset="0.4167" stop-color="#000"/><stop offset="0.5" stop-color="#000"/><stop offset="0.5833" stop-color="#000"/><stop offset="0.6667" stop-color="#000"/><stop offset="0.75" stop-color="#010101"/><stop offset="0.8333" stop-color="#000"/><stop offset="0.9167" stop-color="#010101"/><stop offset="1" stop-color="#010101"/></linearGradient><linearGradient id="c212" href="#g0"><stop offset="0" stop-color="#000"/><stop offset="0.0833" stop-color="#000"/><stop offset="0.1667" stop-color="#000"/><stop offset="0.25" stop-color="#000"/><stop offset="0.3333" stop-color="#000"/><stop offset="0.4167" stop-color="#000"/><stop offset="0.5" stop-color="#000"/><stop offset="0.5833" stop-color="#000"/><stop offset="0.6667" stop-color="#000"/><stop offset="0.75" stop-color="#010101"/><stop offset="0.8333" stop-color="#000"/><stop offset="0.9167" stop-color="#010101"/><stop offset="1" stop-color="#000"/></linearGradient><linearGradient id="c213" href="#g0"><stop offset="0" stop-color="#000"/><stop offset="0.0833" stop-color="#000"/><stop offset="0.1667" stop-color="#000"/><stop offset="0.25" stop-color="#000"/><stop offset="0.3333" stop-color="#000"/><stop offset="0.4167" stop-color="#000"/><stop offset="0.5" stop-color="#000"/><stop offset="0.5833" stop-color="#000"/><stop offset="0.6667" stop-color="#000"/><stop offset="0.75" stop-color="#000"/><stop offset="0.8333" stop-color="#000"/><stop offset="0.9167" stop-color="#010101"/><stop offset="1" stop-color="#000"/></linearGradient><linearGradient id="c214" href="#g0"><stop offset="0" stop-color="#000"/><stop offset="0.0833" stop-color="#000"/><stop offset="0.1667" stop-color="#000"/><stop offset="0.25" stop-color="#000"/><stop offset="0.3333" stop-color="#000"/><stop offset="0.4167" stop-color="#000"/><stop offset="0.5" stop-color="#000"/><stop offset="0.5833" stop-color="#000"/><stop offset="0.6667" stop-color="#000"/><stop offset="0.75" stop-color="#000"/><stop offset="0.8333" stop-color="#000"/><stop offset="0.9167" stop-color="#000"/><stop offset="1" stop-color="#000"/></linearGradient><linearGradient id="c215" href="#g0"><stop offset="0" stop-color="#000"/><stop offset="0.0833" stop-color="#000"/><stop offset="0.1667" stop-color="#000"/><stop offset="0.25" stop-color="#000"/><stop offset="0.3333" stop-color="#000"/><stop offset="0.4167" stop-color="#000"/><stop offset="0.5" stop-color="#000"/><stop offset="0.5833" stop-color="#000"/><stop offset="0.6667" stop-color="#000"/><stop offset="0.75" stop-color="#000"/><stop offset="0.8333" stop-color="#000"/><stop offset="0.9167" stop-color="#000"/><stop offset="1" stop-color="#000"/></linearGradient><linearGradient id="c216" href="#g0"><stop offset="0" stop-color="#000"/><stop offset="0.0833" stop-color="#000"/><stop offset="0.1667" stop-color="#000"/><stop offset="0.25" stop-color="#000"/><stop offset="0.3333" stop-color="#000"/><stop offset="0.4167" stop-color="#000"/><stop offset="0.5" stop-color="#000"/><stop offset="0.5833" stop-color="#000"/><stop offset="0.6667" stop-color="#000"/><stop offset="0.75" stop-color="#000"/><stop offset="0.8333" stop-color="#000"/><stop offset="0.9167" stop-color="#000"/><stop offset="1" stop-color="#000"/></linearGradient><linearGradient id="c217" href="#g0"><stop offset="0" stop-color="#000"/><stop offset="0.0833" stop-color="#000"/><stop offset="0.1667" stop-color="#000"/><stop offset="0.25" stop-color="#000"/><stop offset="0.3333" stop-color="#000"/><stop offset="0.4167" stop-color="#000"/><stop offset="0.5" stop-color="#000"/><stop offset="0.5833" stop-color="#000"/><stop offset="0.6667" stop-color="#000"/><stop offset="0.75" stop-color="#000"/><stop offset="0.8333" stop-color="#000"/><stop offset="0.9167" stop-color="#000"/><stop offset="1" stop-color="#000"/></linearGradient><linearGradient id="c218" href="#g0"><stop offset="0" stop-color="#000"/><stop offset="0.0833" stop-color="#000"/><stop offset="0.1667" stop-color="#000"/><stop offset="0.25" stop-color="#000"/><stop offset="0.3333" stop-color="#000"/><stop offset="0.4167" stop-color="#000"/><stop offset="0.5" stop-color="#000"/><stop offset="0.5833" stop-color="#000"/><stop offset="0.6667" stop-color="#000"/><stop offset="0.75" stop-color="#000"/><stop offset="0.8333" stop-color="#000"/><stop offset="0.9167" stop-color="#000"/><stop offset="1" stop-color="#000"/></linearGradient><linearGradient id="c219" href="#g0"><stop offset="0" stop-color="#000"/><stop offset="0.0833" stop-color="#000"/><stop offset="0.1667" stop-color="#000"/><stop offset="0.25" stop-color="#000"/><stop offset="0.3333" stop-color="#000"/><stop offset="0.4167" stop-color="#000"/><stop offset="0.5" stop-color="#000"/><stop offset="0.5833" stop-color="#000"/><stop offset="0.6667" stop-color="#000"/><stop offset="0.75" stop-color="#000"/><stop offset="0.8333" stop-color="#000"/><stop offset="0.9167" stop-color="#000"/><stop offset="1" stop-color="#000"/></linearGradient><filter id="cm" x="90" y="20" width="452" height="372" filterUnits="userSpaceOnUse" color-interpolation-filters="sRGB"><feGaussianBlur stdDeviation="0.85 0.3"/><feComponentTransfer><feFuncR type="table" tableValues=".169 .179 .190 .200 .210 .220 .229 .239 .247 .255 .263 .271 .278 .287 .296 .304 .313 .322 .315 .308 .301 .294 .274 .253 .232 .212 .225 .237 .250 .263 .279 .296 .312 .329 .345 .357 .369 .380 .392 .404 .416 .430 .444 .459 .473 .488 .502 .522 .541 .561 .580 .600 .620 .653 .685 .718 .751 .784 .823 .861 .899 .937 .944 .950 .956 .962 .969 .966 .963 .961 .958 .956 .953 .949 .945 .941 .937 .933 .929 .920 .911 .902 .893 .884 .875 .858 .842 .825 .809 .793 .776 .751 .726 .701 .676 .651 .619 .587 .555 .522 .490"/><feFuncG type="table" tableValues=".075 .085 .095 .106 .125 .143 .162 .180 .206 .232 .258 .284 .310 .337 .365 .392 .420 .447 .479 .512 .544 .576 .609 .641 .674 .706 .715 .724 .732 .741 .741 .741 .741 .741 .741 .738 .735 .731 .728 .725 .722 .723 .724 .725 .727 .728 .729 .736 .742 .749 .756 .762 .769 .782 .795 .809 .822 .835 .839 .843 .847 .851 .823 .795 .766 .738 .710 .684 .659 .633 .608 .582 .557 .529 .501 .473 .444 .416 .388 .363 .337 .312 .286 .261 .235 .222 .209 .196 .183 .170 .157 .148 .140 .131 .122 .114 .108 .103 .097 .092 .086"/><feFuncB type="table" tableValues=".227 .267 .306 .345 .390 .435 .480 .525 .547 .569 .591 .613 .635 .653 .670 .687 .704 .722 .744 .767 .789 .812 .830 .849 .868 .886 .861 .835 .810 .784 .744 .704 .664 .624 .584 .544 .505 .465 .425 .385 .345 .327 .308 .290 .272 .254 .235 .229 .222 .216 .209 .203 .196 .195 .193 .191 .190 .188 .186 .184 .182 .180 .182 .184 .185 .187 .188 .186 .183 .180 .178 .175 .173 .169 .165 .161 .157 .153 .149 .150 .152 .153 .154 .156 .157 .158 .159 .161 .162 .163 .165 .162 .160 .158 .155 .153 .145 .137 .129 .122 .114"/><feFuncA type="linear" slope="0" intercept="1"/></feComponentTransfer></filter><clipPath id="hc"><rect x="97.9" y="32.2" width="435.7" height="347.1"/></clipPath></defs><g clip-path="url(#hc)"><g filter="url(#cm)" shape-rendering="crispEdges"><rect x="96" y="20" width="2" height="372" fill="url(#c0)"/><rect x="98" y="20" width="2" height="372" fill="url(#c1)"/><rect x="100" y="20" width="2" height="372" fill="url(#c2)"/><rect x="102" y="20" width="2" height="372" fill="url(#c3)"/><rect x="104" y="20" width="2" height="372" fill="url(#c4)"/><rect x="106" y="20" width="2" height="372" fill="url(#c5)"/><rect x="108" y="20" width="2" height="372" fill="url(#c6)"/><rect x="110" y="20" width="2" height="372" fill="url(#c7)"/><rect x="112" y="20" width="2" height="372" fill="url(#c8)"/><rect x="114" y="20" width="2" height="372" fill="url(#c9)"/><rect x="116" y="20" width="2" height="372" fill="url(#c10)"/><rect x="118" y="20" width="2" height="372" fill="url(#c11)"/><rect x="120" y="20" width="2" height="372" fill="url(#c12)"/><rect x="122" y="20" width="2" height="372" fill="url(#c13)"/><rect x="124" y="20" width="2" height="372" fill="url(#c14)"/><rect x="126" y="20" width="2" height="372" fill="url(#c15)"/><rect x="128" y="20" width="2" height="372" fill="url(#c16)"/><rect x="130" y="20" width="2" height="372" fill="url(#c17)"/><rect x="132" y="20" width="2" height="372" fill="url(#c18)"/><rect x="134" y="20" width="2" height="372" fill="url(#c19)"/><rect x="136" y="20" width="2" height="372" fill="url(#c20)"/><rect x="138" y="20" width="2" height="372" fill="url(#c21)"/><rect x="140" y="20" width="2" height="372" fill="url(#c22)"/><rect x="142" y="20" width="2" height="372" fill="url(#c23)"/><rect x="144" y="20" width="2" height="372" fill="url(#c24)"/><rect x="146" y="20" width="2" height="372" fill="url(#c25)"/><rect x="148" y="20" width="2" height="372" fill="url(#c26)"/><rect x="150" y="20" width="2" height="372" fill="url(#c27)"/><rect x="152" y="20" width="2" height="372" fill="url(#c28)"/><rect x="154" y="20" width="2" height="372" fill="url(#c29)"/><rect x="156" y="20" width="2" height="372" fill="url(#c30)"/><rect x="158" y="20" width="2" height="372" fill="url(#c31)"/><rect x="160" y="20" width="2" height="372" fill="url(#c32)"/><rect x="162" y="20" width="2" height="372" fill="url(#c33)"/><rect x="164" y="20" width="2" height="372" fill="url(#c34)"/><rect x="166" y="20" width="2" height="372" fill="url(#c35)"/><rect x="168" y="20" width="2" height="372" fill="url(#c36)"/><rect x="170" y="20" width="2" height="372" fill="url(#c37)"/><rect x="172" y="20" width="2" height="372" fill="url(#c38)"/><rect x="174" y="20" width="2" height="372" fill="url(#c39)"/><rect x="176" y="20" width="2" height="372" fill="url(#c40)"/><rect x="178" y="20" width="2" height="372" fill="url(#c41)"/><rect x="180" y="20" width="2" height="372" fill="url(#c42)"/><rect x="182" y="20" width="2" height="372" fill="url(#c43)"/><rect x="184" y="20" width="2" height="372" fill="url(#c44)"/><rect x="186" y="20" width="2" height="372" fill="url(#c45)"/><rect x="188" y="20" width="2" height="372" fill="url(#c46)"/><rect x="190" y="20" width="2" height="372" fill="url(#c47)"/><rect x="192" y="20" width="2" height="372" fill="url(#c48)"/><rect x="194" y="20" width="2" height="372" fill="url(#c49)"/><rect x="196" y="20" width="2" height="372" fill="url(#c50)"/><rect x="198" y="20" width="2" height="372" fill="url(#c51)"/><rect x="200" y="20" width="2" height="372" fill="url(#c52)"/><rect x="202" y="20" width="2" height="372" fill="url(#c53)"/><rect x="204" y="20" width="2" height="372" fill="url(#c54)"/><rect x="206" y="20" width="2" height="372" fill="url(#c55)"/><rect x="208" y="20" width="2" height="372" fill="url(#c56)"/><rect x="210" y="20" width="2" height="372" fill="url(#c57)"/><rect x="212" y="20" width="2" height="372" fill="url(#c58)"/><rect x="214" y="20" width="2" height="372" fill="url(#c59)"/><rect x="216" y="20" width="2" height="372" fill="url(#c60)"/><rect x="218" y="20" width="2" height="372" fill="url(#c61)"/><rect x="220" y="20" width="2" height="372" fill="url(#c62)"/><rect x="222" y="20" width="2" height="372" fill="url(#c63)"/><rect x="224" y="20" width="2" height="372" fill="url(#c64)"/><rect x="226" y="20" width="2" height="372" fill="url(#c65)"/><rect x="228" y="20" width="2" height="372" fill="url(#c66)"/><rect x="230" y="20" width="2" height="372" fill="url(#c67)"/><rect x="232" y="20" width="2" height="372" fill="url(#c68)"/><rect x="234" y="20" width="2" height="372" fill="url(#c69)"/><rect x="236" y="20" width="2" height="372" fill="url(#c70)"/><rect x="238" y="20" width="2" height="372" fill="url(#c71)"/><rect x="240" y="20" width="2" height="372" fill="url(#c72)"/><rect x="242" y="20" width="2" height="372" fill="url(#c73)"/><rect x="244" y="20" width="2" height="372" fill="url(#c74)"/><rect x="246" y="20" width="2" height="372" fill="url(#c75)"/><rect x="248" y="20" width="2" height="372" fill="url(#c76)"/><rect x="250" y="20" width="2" height="372" fill="url(#c77)"/><rect x="252" y="20" width="2" height="372" fill="url(#c78)"/><rect x="254" y="20" width="2" height="372" fill="url(#c79)"/><rect x="256" y="20" width="2" height="372" fill="url(#c80)"/><rect x="258" y="20" width="2" height="372" fill="url(#c81)"/><rect x="260" y="20" width="2" height="372" fill="url(#c82)"/><rect x="262" y="20" width="2" height="372" fill="url(#c83)"/><rect x="264" y="20" width="2" height="372" fill="url(#c84)"/><rect x="266" y="20" width="2" height="372" fill="url(#c85)"/><rect x="268" y="20" width="2" height="372" fill="url(#c86)"/><rect x="270" y="20" width="2" height="372" fill="url(#c87)"/><rect x="272" y="20" width="2" height="372" fill="url(#c88)"/><rect x="274" y="20" width="2" height="372" fill="url(#c89)"/><rect x="276" y="20" width="2" height="372" fill="url(#c90)"/><rect x="278" y="20" width="2" height="372" fill="url(#c91)"/><rect x="280" y="20" width="2" height="372" fill="url(#c92)"/><rect x="282" y="20" width="2" height="372" fill="url(#c93)"/><rect x="284" y="20" width="2" height="372" fill="url(#c94)"/><rect x="286" y="20" width="2" height="372" fill="url(#c95)"/><rect x="288" y="20" width="2" height="372" fill="url(#c96)"/><rect x="290" y="20" width="2" height="372" fill="url(#c97)"/><rect x="292" y="20" width="2" height="372" fill="url(#c98)"/><rect x="294" y="20" width="2" height="372" fill="url(#c99)"/><rect x="296" y="20" width="2" height="372" fill="url(#c100)"/><rect x="298" y="20" width="2" height="372" fill="url(#c101)"/><rect x="300" y="20" width="2" height="372" fill="url(#c102)"/><rect x="302" y="20" width="2" height="372" fill="url(#c103)"/><rect x="304" y="20" width="2" height="372" fill="url(#c104)"/><rect x="306" y="20" width="2" height="372" fill="url(#c105)"/><rect x="308" y="20" width="2" height="372" fill="url(#c106)"/><rect x="310" y="20" width="2" height="372" fill="url(#c107)"/><rect x="312" y="20" width="2" height="372" fill="url(#c108)"/><rect x="314" y="20" width="2" height="372" fill="url(#c109)"/><rect x="316" y="20" width="2" height="372" fill="url(#c110)"/><rect x="318" y="20" width="2" height="372" fill="url(#c111)"/><rect x="320" y="20" width="2" height="372" fill="url(#c112)"/><rect x="322" y="20" width="2" height="372" fill="url(#c113)"/><rect x="324" y="20" width="2" height="372" fill="url(#c114)"/><rect x="326" y="20" width="2" height="372" fill="url(#c115)"/><rect x="328" y="20" width="2" height="372" fill="url(#c116)"/><rect x="330" y="20" width="2" height="372" fill="url(#c117)"/><rect x="332" y="20" width="2" height="372" fill="url(#c118)"/><rect x="334" y="20" width="2" height="372" fill="url(#c119)"/><rect x="336" y="20" width="2" height="372" fill="url(#c120)"/><rect x="338" y="20" width="2" height="372" fill="url(#c121)"/><rect x="340" y="20" width="2" height="372" fill="url(#c122)"/><rect x="342" y="20" width="2" height="372" fill="url(#c123)"/><rect x="344" y="20" width="2" height="372" fill="url(#c124)"/><rect x="346" y="20" width="2" height="372" fill="url(#c125)"/><rect x="348" y="20" width="2" height="372" fill="url(#c126)"/><rect x="350" y="20" width="2" height="372" fill="url(#c127)"/><rect x="352" y="20" width="2" height="372" fill="url(#c128)"/><rect x="354" y="20" width="2" height="372" fill="url(#c129)"/><rect x="356" y="20" width="2" height="372" fill="url(#c130)"/><rect x="358" y="20" width="2" height="372" fill="url(#c131)"/><rect x="360" y="20" width="2" height="372" fill="url(#c132)"/><rect x="362" y="20" width="2" height="372" fill="url(#c133)"/><rect x="364" y="20" width="2" height="372" fill="url(#c134)"/><rect x="366" y="20" width="2" height="372" fill="url(#c135)"/><rect x="368" y="20" width="2" height="372" fill="url(#c136)"/><rect x="370" y="20" width="2" height="372" fill="url(#c137)"/><rect x="372" y="20" width="2" height="372" fill="url(#c138)"/><rect x="374" y="20" width="2" height="372" fill="url(#c139)"/><rect x="376" y="20" width="2" height="372" fill="url(#c140)"/><rect x="378" y="20" width="2" height="372" fill="url(#c141)"/><rect x="380" y="20" width="2" height="372" fill="url(#c142)"/><rect x="382" y="20" width="2" height="372" fill="url(#c143)"/><rect x="384" y="20" width="2" height="372" fill="url(#c144)"/><rect x="386" y="20" width="2" height="372" fill="url(#c145)"/><rect x="388" y="20" width="2" height="372" fill="url(#c146)"/><rect x="390" y="20" width="2" height="372" fill="url(#c147)"/><rect x="392" y="20" width="2" height="372" fill="url(#c148)"/><rect x="394" y="20" width="2" height="372" fill="url(#c149)"/><rect x="396" y="20" width="2" height="372" fill="url(#c150)"/><rect x="398" y="20" width="2" height="372" fill="url(#c151)"/><rect x="400" y="20" width="2" height="372" fill="url(#c152)"/><rect x="402" y="20" width="2" height="372" fill="url(#c153)"/><rect x="404" y="20" width="2" height="372" fill="url(#c154)"/><rect x="406" y="20" width="2" height="372" fill="url(#c155)"/><rect x="408" y="20" width="2" height="372" fill="url(#c156)"/><rect x="410" y="20" width="2" height="372" fill="url(#c157)"/><rect x="412" y="20" width="2" height="372" fill="url(#c158)"/><rect x="414" y="20" width="2" height="372" fill="url(#c159)"/><rect x="416" y="20" width="2" height="372" fill="url(#c160)"/><rect x="418" y="20" width="2" height="372" fill="url(#c161)"/><rect x="420" y="20" width="2" height="372" fill="url(#c162)"/><rect x="422" y="20" width="2" height="372" fill="url(#c163)"/><rect x="424" y="20" width="2" height="372" fill="url(#c164)"/><rect x="426" y="20" width="2" height="372" fill="url(#c165)"/><rect x="428" y="20" width="2" height="372" fill="url(#c166)"/><rect x="430" y="20" width="2" height="372" fill="url(#c167)"/><rect x="432" y="20" width="2" height="372" fill="url(#c168)"/><rect x="434" y="20" width="2" height="372" fill="url(#c169)"/><rect x="436" y="20" width="2" height="372" fill="url(#c170)"/><rect x="438" y="20" width="2" height="372" fill="url(#c171)"/><rect x="440" y="20" width="2" height="372" fill="url(#c172)"/><rect x="442" y="20" width="2" height="372" fill="url(#c173)"/><rect x="444" y="20" width="2" height="372" fill="url(#c174)"/><rect x="446" y="20" width="2" height="372" fill="url(#c175)"/><rect x="448" y="20" width="2" height="372" fill="url(#c176)"/><rect x="450" y="20" width="2" height="372" fill="url(#c177)"/><rect x="452" y="20" width="2" height="372" fill="url(#c178)"/><rect x="454" y="20" width="2" height="372" fill="url(#c179)"/><rect x="456" y="20" width="2" height="372" fill="url(#c180)"/><rect x="458" y="20" width="2" height="372" fill="url(#c181)"/><rect x="460" y="20" width="2" height="372" fill="url(#c182)"/><rect x="462" y="20" width="2" height="372" fill="url(#c183)"/><rect x="464" y="20" width="2" height="372" fill="url(#c184)"/><rect x="466" y="20" width="2" height="372" fill="url(#c185)"/><rect x="468" y="20" width="2" height="372" fill="url(#c186)"/><rect x="470" y="20" width="2" height="372" fill="url(#c187)"/><rect x="472" y="20" width="2" height="372" fill="url(#c188)"/><rect x="474" y="20" width="2" height="372" fill="url(#c189)"/><rect x="476" y="20" width="2" height="372" fill="url(#c190)"/><rect x="478" y="20" width="2" height="372" fill="url(#c191)"/><rect x="480" y="20" width="2" height="372" fill="url(#c192)"/><rect x="482" y="20" width="2" height="372" fill="url(#c193)"/><rect x="484" y="20" width="2" height="372" fill="url(#c194)"/><rect x="486" y="20" width="2" height="372" fill="url(#c195)"/><rect x="488" y="20" width="2" height="372" fill="url(#c196)"/><rect x="490" y="20" width="2" height="372" fill="url(#c197)"/><rect x="492" y="20" width="2" height="372" fill="url(#c198)"/><rect x="494" y="20" width="2" height="372" fill="url(#c199)"/><rect x="496" y="20" width="2" height="372" fill="url(#c200)"/><rect x="498" y="20" width="2" height="372" fill="url(#c201)"/><rect x="500" y="20" width="2" height="372" fill="url(#c202)"/><rect x="502" y="20" width="2" height="372" fill="url(#c203)"/><rect x="504" y="20" width="2" height="372" fill="url(#c204)"/><rect x="506" y="20" width="2" height="372" fill="url(#c205)"/><rect x="508" y="20" width="2" height="372" fill="url(#c206)"/><rect x="510" y="20" width="2" height="372" fill="url(#c207)"/><rect x="512" y="20" width="2" height="372" fill="url(#c208)"/><rect x="514" y="20" width="2" height="372" fill="url(#c209)"/><rect x="516" y="20" width="2" height="372" fill="url(#c210)"/><rect x="518" y="20" width="2" height="372" fill="url(#c211)"/><rect x="520" y="20" width="2" height="372" fill="url(#c212)"/><rect x="522" y="20" width="2" height="372" fill="url(#c213)"/><rect x="524" y="20" width="2" height="372" fill="url(#c214)"/><rect x="526" y="20" width="2" height="372" fill="url(#c215)"/><rect x="528" y="20" width="2" height="372" fill="url(#c216)"/><rect x="530" y="20" width="2" height="372" fill="url(#c217)"/><rect x="532" y="20" width="2" height="372" fill="url(#c218)"/><rect x="534" y="20" width="2" height="372" fill="url(#c219)"/></g></g><line x1="97.9" y1="379.3" x2="97.9" y2="375.8" stroke="#231f20" stroke-width="1"/><text x="97.9" y="416.6" class="t" text-anchor="middle">20</text><line x1="185.0" y1="379.3" x2="185.0" y2="375.8" stroke="#231f20" stroke-width="1"/><text x="185.0" y="416.6" class="t" text-anchor="middle">30</text><line x1="272.2" y1="379.3" x2="272.2" y2="375.8" stroke="#231f20" stroke-width="1"/><text x="272.2" y="416.6" class="t" text-anchor="middle">40</text><line x1="359.3" y1="379.3" x2="359.3" y2="375.8" stroke="#231f20" stroke-width="1"/><text x="359.3" y="416.6" class="t" text-anchor="middle">50</text><line x1="446.5" y1="379.3" x2="446.5" y2="375.8" stroke="#231f20" stroke-width="1"/><text x="446.5" y="416.6" class="t" text-anchor="middle">60</text><line x1="533.6" y1="379.3" x2="533.6" y2="375.8" stroke="#231f20" stroke-width="1"/><text x="533.6" y="416.6" class="t" text-anchor="middle">70</text><line x1="97.9" y1="379.3" x2="101.9" y2="379.3" stroke="#231f20" stroke-width="1"/><line x1="533.6" y1="379.3" x2="529.6" y2="379.3" stroke="#231f20" stroke-width="1"/><text x="84" y="383.6" class="t" text-anchor="end">2</text><line x1="97.9" y1="321.4" x2="101.9" y2="321.4" stroke="#231f20" stroke-width="1"/><line x1="533.6" y1="321.4" x2="529.6" y2="321.4" stroke="#231f20" stroke-width="1"/><text x="84" y="330.2" class="t" text-anchor="end">4</text><line x1="97.9" y1="263.6" x2="101.9" y2="263.6" stroke="#231f20" stroke-width="1"/><line x1="533.6" y1="263.6" x2="529.6" y2="263.6" stroke="#231f20" stroke-width="1"/><text x="84" y="272.6" class="t" text-anchor="end">6</text><line x1="97.9" y1="205.8" x2="101.9" y2="205.8" stroke="#231f20" stroke-width="1"/><line x1="533.6" y1="205.8" x2="529.6" y2="205.8" stroke="#231f20" stroke-width="1"/><text x="84" y="214.8" class="t" text-anchor="end">8</text><line x1="97.9" y1="147.9" x2="101.9" y2="147.9" stroke="#231f20" stroke-width="1"/><line x1="533.6" y1="147.9" x2="529.6" y2="147.9" stroke="#231f20" stroke-width="1"/><text x="84" y="156.7" class="t" text-anchor="end">10</text><line x1="97.9" y1="90.0" x2="101.9" y2="90.0" stroke="#231f20" stroke-width="1"/><line x1="533.6" y1="90.0" x2="529.6" y2="90.0" stroke="#231f20" stroke-width="1"/><text x="84" y="98.8" class="t" text-anchor="end">12</text><line x1="97.9" y1="32.2" x2="101.9" y2="32.2" stroke="#231f20" stroke-width="1"/><line x1="533.6" y1="32.2" x2="529.6" y2="32.2" stroke="#231f20" stroke-width="1"/><text x="84" y="41.0" class="t" text-anchor="end">14</text><line x1="97.9" y1="36.34" x2="533.6" y2="36.34" stroke="#ee3d42" stroke-width="0.5" opacity="0.22"/><line x1="97.9" y1="36.34" x2="533.6" y2="36.34" stroke="#ee3d42" stroke-width="4.8" stroke-dasharray="9.1 8.25" stroke-dashoffset="2.95"/><line x1="97.9" y1="147.90" x2="533.6" y2="147.90" stroke="#f5e61d" stroke-width="0.5" opacity="0.22"/><line x1="97.9" y1="147.90" x2="533.6" y2="147.90" stroke="#f5e61d" stroke-width="4.8" stroke-dasharray="9.1 8.25" stroke-dashoffset="2.95"/><line x1="97.9" y1="267.36" x2="533.6" y2="267.36" stroke="#62bb46" stroke-width="0.5" opacity="0.22"/><line x1="97.9" y1="267.36" x2="533.6" y2="267.36" stroke="#62bb46" stroke-width="4.8" stroke-dasharray="9.1 8.25" stroke-dashoffset="2.95"/><line x1="97.9" y1="375.40" x2="533.6" y2="375.40" stroke="#29abe2" stroke-width="0.5" opacity="0.22"/><line x1="97.9" y1="375.40" x2="533.6" y2="375.40" stroke="#29abe2" stroke-width="4.8" stroke-dasharray="9.1 8.25" stroke-dashoffset="2.95"/><rect x="97.9" y="32.2" width="435.7" height="347.1" fill="none" stroke="#231f20" stroke-width="1.6"/><text x="315.3" y="461.5" class="l" text-anchor="middle" textLength="254.5">Photon energy (eV)</text><text transform="translate(24.4,206.2) rotate(-90)" class="l" text-anchor="middle" textLength="211">Pressure (mbar)</text><text x="-1" y="30" class="b">a</text><defs><linearGradient id="cb" x1="0" y1="0" x2="0" y2="1"><stop offset="0.0000" stop-color="#7d161d"/><stop offset="0.0169" stop-color="#8b1820"/><stop offset="0.0339" stop-color="#991b24"/><stop offset="0.0508" stop-color="#a61d27"/><stop offset="0.0678" stop-color="#b12128"/><stop offset="0.0847" stop-color="#bc2529"/><stop offset="0.1017" stop-color="#c6282a"/><stop offset="0.1186" stop-color="#cd2e29"/><stop offset="0.1356" stop-color="#d43429"/><stop offset="0.1525" stop-color="#dc3928"/><stop offset="0.1695" stop-color="#e14228"/><stop offset="0.1864" stop-color="#e54c27"/><stop offset="0.2034" stop-color="#e95727"/><stop offset="0.2203" stop-color="#ed6226"/><stop offset="0.2373" stop-color="#ef6e28"/><stop offset="0.2542" stop-color="#f07a29"/><stop offset="0.2712" stop-color="#f2872b"/><stop offset="0.2881" stop-color="#f3922c"/><stop offset="0.3051" stop-color="#f59d2e"/><stop offset="0.3220" stop-color="#f6a82f"/><stop offset="0.3390" stop-color="#f7b330"/><stop offset="0.3559" stop-color="#f5bf2f"/><stop offset="0.3729" stop-color="#f2cb2f"/><stop offset="0.3898" stop-color="#efd72e"/><stop offset="0.4068" stop-color="#e1d82f"/><stop offset="0.4237" stop-color="#d1d630"/><stop offset="0.4407" stop-color="#c1d230"/><stop offset="0.4576" stop-color="#b3cd31"/><stop offset="0.4746" stop-color="#a5c732"/><stop offset="0.4915" stop-color="#9ac333"/><stop offset="0.5085" stop-color="#91c036"/><stop offset="0.5254" stop-color="#89bd39"/><stop offset="0.5424" stop-color="#80ba3c"/><stop offset="0.5593" stop-color="#7ab943"/><stop offset="0.5763" stop-color="#74b94b"/><stop offset="0.5932" stop-color="#6eb853"/><stop offset="0.6102" stop-color="#68b95f"/><stop offset="0.6271" stop-color="#63ba70"/><stop offset="0.6441" stop-color="#5ebb81"/><stop offset="0.6610" stop-color="#59bd92"/><stop offset="0.6780" stop-color="#52bda3"/><stop offset="0.6949" stop-color="#4bbdb4"/><stop offset="0.7119" stop-color="#44bdc6"/><stop offset="0.7288" stop-color="#3ebad1"/><stop offset="0.7458" stop-color="#39b6dc"/><stop offset="0.7627" stop-color="#3aadde"/><stop offset="0.7797" stop-color="#439fd6"/><stop offset="0.7966" stop-color="#4b91ce"/><stop offset="0.8136" stop-color="#4e84c4"/><stop offset="0.8305" stop-color="#5176bb"/><stop offset="0.8475" stop-color="#4f69b3"/><stop offset="0.8644" stop-color="#4c5eab"/><stop offset="0.8814" stop-color="#4852a4"/><stop offset="0.8983" stop-color="#44469b"/><stop offset="0.9153" stop-color="#413b91"/><stop offset="0.9322" stop-color="#3e3088"/><stop offset="0.9492" stop-color="#3a2877"/><stop offset="0.9661" stop-color="#352063"/><stop offset="0.9831" stop-color="#311951"/><stop offset="1.0000" stop-color="#2d1540"/></linearGradient></defs><rect x="559.5" y="32.2" width="20.1" height="347.1" fill="url(#cb)" stroke="#231f20" stroke-width="1"/><text x="592.5" y="41.2" class="t">1</text><line x1="575.6" y1="102.0" x2="579.6" y2="102.0" stroke="#231f20" stroke-width="1"/><text x="592.5" y="111.0" class="t">0.8</text><line x1="575.6" y1="171.9" x2="579.6" y2="171.9" stroke="#231f20" stroke-width="1"/><text x="592.5" y="180.9" class="t">0.6</text><line x1="575.6" y1="241.7" x2="579.6" y2="241.7" stroke="#231f20" stroke-width="1"/><text x="592.5" y="250.7" class="t">0.4</text><line x1="575.6" y1="311.6" x2="579.6" y2="311.6" stroke="#231f20" stroke-width="1"/><text x="592.5" y="320.6" class="t">0.2</text>
<g stroke-linecap="butt"><line x1="998.2" y1="289.8" x2="998.2" y2="26.5" stroke="#c2c2c2" stroke-width="1.45"/><line x1="844.3" y1="365.3" x2="998.2" y2="289.8" stroke="#c2c2c2" stroke-width="1.45"/><line x1="1114.5" y1="302.7" x2="1114.5" y2="39.4" stroke="#c2c2c2" stroke-width="1.45"/><line x1="960.6" y1="378.2" x2="1114.5" y2="302.7" stroke="#c2c2c2" stroke-width="1.45"/><line x1="1230.9" y1="315.5" x2="1230.9" y2="52.2" stroke="#c2c2c2" stroke-width="1.45"/><line x1="1077.0" y1="391.0" x2="1230.9" y2="315.5" stroke="#c2c2c2" stroke-width="1.45"/><line x1="951.7" y1="153.0" x2="1277.4" y2="189.1" stroke="#c2c2c2" stroke-width="1.45"/><line x1="797.8" y1="228.5" x2="951.7" y2="153.0" stroke="#c2c2c2" stroke-width="1.45"/><line x1="852.8" y1="333.1" x2="852.8" y2="69.8" stroke="#c2c2c2" stroke-width="1.45"/><line x1="852.8" y1="333.1" x2="1178.5" y2="369.2" stroke="#c2c2c2" stroke-width="1.45"/><line x1="907.7" y1="306.2" x2="907.7" y2="42.9" stroke="#c2c2c2" stroke-width="1.45"/><line x1="907.7" y1="306.2" x2="1233.4" y2="342.3" stroke="#c2c2c2" stroke-width="1.45"/><line x1="797.8" y1="360.1" x2="797.8" y2="96.8" stroke="#231f20" stroke-width="1.8" stroke-linecap="round"/><line x1="951.7" y1="284.6" x2="951.7" y2="21.3" stroke="#231f20" stroke-width="1.8" stroke-linecap="round"/><line x1="1277.4" y1="320.7" x2="1277.4" y2="57.4" stroke="#231f20" stroke-width="1.8" stroke-linecap="round"/><line x1="797.8" y1="96.8" x2="951.7" y2="21.3" stroke="#231f20" stroke-width="1.8" stroke-linecap="round"/><line x1="951.7" y1="21.3" x2="1277.4" y2="57.4" stroke="#231f20" stroke-width="1.8" stroke-linecap="round"/><line x1="797.8" y1="360.1" x2="1123.5" y2="396.2" stroke="#231f20" stroke-width="1.8" stroke-linecap="round"/><line x1="1123.5" y1="396.2" x2="1277.4" y2="320.7" stroke="#231f20" stroke-width="1.8" stroke-linecap="round"/><line x1="797.8" y1="360.1" x2="951.7" y2="284.6" stroke="#231f20" stroke-width="1.8" stroke-linecap="round"/><line x1="951.7" y1="284.6" x2="1277.4" y2="320.7" stroke="#231f20" stroke-width="1.8" stroke-linecap="round"/><line x1="797.8" y1="360.1" x2="788.9" y2="359.1" stroke="#231f20" stroke-width="1.8"/><line x1="797.8" y1="228.5" x2="788.9" y2="227.5" stroke="#231f20" stroke-width="1.8"/><line x1="797.8" y1="96.8" x2="788.9" y2="95.8" stroke="#231f20" stroke-width="1.8"/><line x1="844.3" y1="365.3" x2="836.2" y2="369.2" stroke="#231f20" stroke-width="1.8"/><line x1="960.6" y1="378.2" x2="952.6" y2="382.1" stroke="#231f20" stroke-width="1.8"/><line x1="1077.0" y1="391.0" x2="1068.9" y2="395.0" stroke="#231f20" stroke-width="1.8"/><line x1="1123.5" y1="396.2" x2="1131.5" y2="397.1" stroke="#231f20" stroke-width="1.8"/><line x1="1178.5" y1="369.2" x2="1186.4" y2="370.1" stroke="#231f20" stroke-width="1.8"/><line x1="1233.4" y1="342.3" x2="1241.4" y2="343.2" stroke="#231f20" stroke-width="1.8"/></g><g fill="none" stroke-width="2.7" stroke-linejoin="round" stroke-linecap="round"><path d="M951.7 284.6L1049.5 295.4L1049.9 295.5L1050.3 295.5L1050.7 295.6L1051.1 295.6L1051.5 295.7L1051.9 295.7L1052.3 295.7L1052.7 295.8L1053.1 295.8L1053.5 295.8L1053.9 295.8L1054.3 295.8L1054.7 295.7L1055.1 295.7L1055.5 295.6L1055.9 295.4L1056.3 294.9L1056.7 294.1L1057.1 293.3L1057.5 292.4L1057.9 291.6L1058.3 290.7L1058.7 289.7L1059.1 288.5L1059.5 287.3L1059.9 286.2L1060.3 285.3L1060.7 284.8L1061.1 284.8L1061.5 285.6L1061.9 287.1L1062.3 288.9L1062.7 290.8L1063.1 292.3L1063.5 293.9L1063.9 295.4L1064.3 296.4L1064.7 296.4L1065.1 295.2L1065.5 293.6L1065.9 292.4L1066.3 292.0L1066.7 291.6L1067.1 291.4L1067.5 291.1L1067.9 291.0L1068.3 291.0L1068.7 291.4L1069.1 292.1L1069.5 293.2L1069.9 294.2L1070.3 295.0L1070.7 295.5L1071.1 295.9L1071.5 296.2L1071.9 296.6L1072.3 296.8L1072.7 297.0L1073.1 297.0L1073.5 296.9L1073.9 296.6L1074.3 296.1L1074.7 295.7L1075.1 295.4L1075.5 295.3L1075.9 295.5L1076.3 295.9L1076.7 296.4L1077.1 296.9L1077.5 297.3L1077.9 297.6L1078.3 297.6L1078.7 297.3L1079.1 296.9L1079.5 296.3L1079.9 295.4L1080.3 294.4L1080.7 292.9L1081.1 289.0L1081.5 283.7L1081.9 278.3L1082.3 273.4L1082.7 268.4L1083.1 263.3L1083.5 258.2L1083.9 252.9L1084.3 247.2L1084.7 241.5L1085.1 235.8L1085.5 230.7L1085.9 226.1L1086.3 222.5L1086.7 219.4L1087.1 216.3L1087.5 213.6L1087.9 211.6L1088.3 210.4L1088.7 210.4L1089.1 211.1L1089.5 212.4L1089.9 214.1L1090.3 216.1L1090.7 218.3L1091.1 220.6L1091.5 223.7L1091.9 227.6L1092.3 232.1L1092.7 236.9L1093.1 241.9L1093.5 246.9L1093.9 251.5L1094.3 256.2L1094.7 261.2L1095.1 266.2L1095.5 271.2L1095.9 275.9L1096.3 280.2L1096.7 284.1L1097.1 288.1L1097.5 292.1L1097.9 295.7L1098.3 298.5L1098.7 299.8L1099.1 299.8L1099.5 299.5L1099.9 298.9L1100.3 298.3L1100.7 297.6L1101.1 297.0L1101.5 296.3L1101.9 295.6L1102.3 294.9L1102.7 294.5L1103.1 294.4L1103.5 295.2L1103.9 296.6L1104.3 298.1L1104.7 299.3L1105.1 299.6L1105.5 299.1L1105.9 298.1L1106.3 296.7L1106.7 295.2L1107.1 293.3L1107.5 290.6L1107.9 287.4L1108.3 284.1L1108.7 280.9L1109.1 277.4L1109.5 273.7L1109.9 269.9L1110.3 266.4L1110.7 263.3L1111.1 260.8L1111.5 258.8L1111.9 256.9L1112.3 255.2L1112.7 253.8L1113.1 252.9L1113.5 252.5L1113.9 252.9L1114.3 254.0L1114.7 255.5L1115.1 257.4L1115.5 259.4L1115.9 261.4L1116.3 263.3L1116.7 265.4L1117.1 267.8L1117.5 270.3L1117.9 272.9L1118.3 275.5L1118.7 277.9L1119.1 280.0L1119.5 281.8L1119.9 283.3L1120.3 284.6L1120.7 285.9L1121.1 287.1L1121.5 288.2L1121.9 289.3L1122.3 290.2L1122.7 291.1L1123.1 292.0L1123.5 292.8L1123.9 293.5L1124.3 294.3L1124.7 295.0L1125.1 295.7L1125.5 296.4L1125.9 297.0L1126.3 297.6L1126.7 298.2L1127.1 298.8L1127.5 299.3L1127.9 299.8L1128.3 300.2L1128.7 300.6L1129.1 300.9L1129.5 301.2L1129.9 301.5L1130.3 301.8L1130.7 302.0L1131.1 302.3L1131.5 302.5L1131.9 302.7L1132.3 302.9L1132.7 303.0L1133.1 303.1L1133.5 303.1L1133.9 303.1L1134.3 303.0L1134.7 302.9L1135.1 302.7L1135.5 302.5L1135.9 302.3L1136.3 302.2L1136.7 302.1L1137.1 302.2L1137.5 302.3L1137.9 302.6L1138.3 302.9L1138.7 303.3L1139.1 303.7L1139.5 304.0L1139.9 304.2L1140.3 304.4L1140.7 304.5L1141.1 304.7L1141.5 304.8L1141.9 305.0L1142.3 305.1L1142.7 305.2L1143.1 305.3L1143.5 305.4L1143.9 305.5L1144.3 305.6L1144.7 305.7L1145.1 305.7L1145.5 305.8L1145.9 305.9L1146.3 306.0L1146.7 306.0L1147.1 306.1L1147.5 306.2L1147.9 306.2L1148.3 306.3L1148.7 306.4L1149.1 306.4L1149.5 306.5L1149.9 306.5L1150.3 306.6L1150.7 306.6L1277.4 320.7" stroke="#e0383f"/><path d="M907.7 306.2L1011.6 317.7L1012.0 317.7L1012.4 317.8L1012.8 317.8L1013.2 317.9L1013.6 317.9L1014.0 318.0L1014.4 318.0L1014.8 318.0L1015.2 318.0L1015.6 318.0L1016.0 318.0L1016.4 318.0L1016.8 317.9L1017.2 317.9L1017.6 317.8L1018.0 317.7L1018.4 317.3L1018.8 316.8L1019.2 316.2L1019.6 315.5L1020.0 314.9L1020.4 314.4L1020.8 314.0L1021.2 313.8L1021.6 313.8L1022.0 314.0L1022.4 314.4L1022.8 314.8L1023.2 315.2L1023.6 315.6L1024.0 315.9L1024.4 316.1L1024.8 316.1L1025.2 316.0L1025.6 315.8L1026.0 315.5L1026.4 315.3L1026.8 315.1L1027.2 315.0L1027.6 315.0L1028.0 315.2L1028.4 315.7L1028.8 316.3L1029.2 316.9L1029.6 317.5L1030.0 318.0L1030.4 318.3L1030.8 318.3L1031.2 318.3L1031.6 318.3L1032.0 318.2L1032.4 318.1L1032.8 317.9L1033.2 317.7L1033.6 317.4L1034.0 317.2L1034.4 316.8L1034.8 316.0L1035.2 314.1L1035.6 311.4L1036.0 308.4L1036.4 304.7L1036.8 300.0L1037.2 295.5L1037.6 291.8L1038.0 288.3L1038.4 284.9L1038.8 281.7L1039.2 278.8L1039.6 276.3L1040.0 274.4L1040.4 273.1L1040.8 272.1L1041.2 271.2L1041.6 270.5L1042.0 270.1L1042.4 270.3L1042.8 271.5L1043.2 273.6L1043.6 276.0L1044.0 278.7L1044.4 282.4L1044.8 286.5L1045.2 290.1L1045.6 292.5L1046.0 294.6L1046.4 296.4L1046.8 297.4L1047.2 297.6L1047.6 297.0L1048.0 296.1L1048.4 295.0L1048.8 293.8L1049.2 292.0L1049.6 289.5L1050.0 287.5L1050.4 287.1L1050.8 288.9L1051.2 292.3L1051.6 296.1L1052.0 300.7L1052.4 305.9L1052.8 310.4L1053.2 315.1L1053.6 318.3L1054.0 318.8L1054.4 318.2L1054.8 317.4L1055.2 316.6L1055.6 315.7L1056.0 315.0L1056.4 314.6L1056.8 315.5L1057.2 317.2L1057.6 318.8L1058.0 320.2L1058.4 321.6L1058.8 322.4L1059.2 321.9L1059.6 319.8L1060.0 317.0L1060.4 314.5L1060.8 312.3L1061.2 310.1L1061.6 307.7L1062.0 305.1L1062.4 302.1L1062.8 298.5L1063.2 293.8L1063.6 288.4L1064.0 282.6L1064.4 276.8L1064.8 271.4L1065.2 266.7L1065.6 262.7L1066.0 259.1L1066.4 255.7L1066.8 252.6L1067.2 249.5L1067.6 246.6L1068.0 243.7L1068.4 240.6L1068.8 237.2L1069.2 233.8L1069.6 230.7L1070.0 228.3L1070.4 226.9L1070.8 226.9L1071.2 228.2L1071.6 230.3L1072.0 232.9L1072.4 235.7L1072.8 238.7L1073.2 242.4L1073.6 246.6L1074.0 251.3L1074.4 256.7L1074.8 262.8L1075.2 269.3L1075.6 275.7L1076.0 282.0L1076.4 288.8L1076.8 295.7L1077.2 301.9L1077.6 306.6L1078.0 309.8L1078.4 312.4L1078.8 314.6L1079.2 316.3L1079.6 317.4L1080.0 318.3L1080.4 319.0L1080.8 319.6L1081.2 320.1L1081.6 320.6L1082.0 321.0L1082.4 321.4L1082.8 321.8L1083.2 322.2L1083.6 322.6L1084.0 322.9L1084.4 323.1L1084.8 323.3L1085.2 323.3L1085.6 323.3L1086.0 323.2L1086.4 323.1L1086.8 323.0L1087.2 322.8L1087.6 322.6L1088.0 322.4L1088.4 322.3L1088.8 322.0L1089.2 321.7L1089.6 321.3L1090.0 320.9L1090.4 320.5L1090.8 320.2L1091.2 320.1L1091.6 320.1L1092.0 320.4L1092.4 320.9L1092.8 321.6L1093.2 322.4L1093.6 323.2L1094.0 323.8L1094.4 324.3L1094.8 324.6L1095.2 324.8L1095.6 325.1L1096.0 325.3L1096.4 325.5L1096.8 325.7L1097.2 325.9L1097.6 326.1L1098.0 326.3L1098.4 326.4L1098.8 326.6L1099.2 326.7L1099.6 326.8L1100.0 326.9L1100.4 327.0L1100.8 327.1L1101.2 327.2L1101.6 327.3L1102.0 327.3L1102.4 327.4L1102.8 327.5L1103.2 327.6L1103.6 327.6L1104.0 327.7L1104.4 327.8L1104.8 327.9L1105.2 327.9L1105.6 328.0L1106.0 328.1L1106.4 328.1L1233.7 342.3" stroke="#e9d02b"/><path d="M863.8 327.7L956.0 338.0L956.4 338.0L956.8 338.1L957.2 338.1L957.6 338.1L958.0 338.2L958.4 338.2L958.8 338.3L959.2 338.3L959.6 338.2L960.0 338.2L960.4 338.1L960.8 338.0L961.2 337.9L961.6 337.8L962.0 337.6L962.4 337.4L962.8 337.1L963.2 336.6L963.6 336.1L964.0 335.6L964.4 335.0L964.8 334.5L965.2 333.8L965.6 333.0L966.0 332.4L966.4 331.9L966.8 331.6L967.2 331.5L967.6 331.4L968.0 331.3L968.4 331.3L968.8 331.5L969.2 332.1L969.6 332.8L970.0 333.7L970.4 334.4L970.8 335.0L971.2 335.6L971.6 336.3L972.0 336.9L972.4 337.4L972.8 337.9L973.2 338.2L973.6 338.4L974.0 338.5L974.4 338.5L974.8 338.6L975.2 338.6L975.6 338.6L976.0 338.7L976.4 338.7L976.8 338.8L977.2 338.8L977.6 338.9L978.0 338.9L978.4 338.9L978.8 339.0L979.2 339.0L979.6 339.0L980.0 339.1L980.4 339.1L980.8 339.1L981.2 339.1L981.6 339.1L982.0 339.1L982.4 339.1L982.8 339.1L983.2 339.0L983.6 339.0L984.0 339.0L984.4 338.9L984.8 338.8L985.2 338.8L985.6 338.7L986.0 338.6L986.4 338.5L986.8 338.4L987.2 338.2L987.6 337.5L988.0 336.4L988.4 334.9L988.8 333.2L989.2 331.2L989.6 329.1L990.0 325.5L990.4 320.6L990.8 315.2L991.2 310.0L991.6 306.0L992.0 302.2L992.4 298.6L992.8 295.3L993.2 292.7L993.6 291.1L994.0 290.2L994.4 289.5L994.8 289.0L995.2 288.8L995.6 289.2L996.0 290.2L996.4 291.7L996.8 293.5L997.2 297.4L997.6 304.0L998.0 311.2L998.4 316.8L998.8 320.0L999.2 323.0L999.6 325.7L1000.0 327.8L1000.4 329.1L1000.8 329.4L1001.2 328.8L1001.6 327.4L1002.0 325.6L1002.4 323.6L1002.8 321.1L1003.2 317.6L1003.6 314.3L1004.0 312.5L1004.4 311.1L1004.8 310.1L1005.2 309.9L1005.6 310.6L1006.0 311.8L1006.4 313.2L1006.8 314.8L1007.2 316.9L1007.6 319.3L1008.0 321.6L1008.4 323.4L1008.8 324.8L1009.2 325.9L1009.6 327.0L1010.0 327.9L1010.4 328.8L1010.8 329.6L1011.2 330.5L1011.6 331.4L1012.0 332.3L1012.4 333.1L1012.8 333.9L1013.2 334.6L1013.6 335.1L1014.0 335.4L1014.4 335.6L1014.8 335.7L1015.2 335.9L1015.6 336.0L1016.0 336.1L1016.4 336.2L1016.8 334.2L1017.2 322.3L1017.6 305.1L1018.0 279.1L1018.4 258.9L1018.8 243.0L1019.2 229.0L1019.6 214.1L1020.0 201.8L1020.4 198.2L1020.8 197.1L1021.2 196.5L1021.6 196.2L1022.0 195.5L1022.4 194.3L1022.8 187.5L1023.2 160.3L1023.6 136.5L1024.0 114.3L1024.4 96.2L1024.8 86.5L1025.2 80.0L1025.6 78.4L1026.0 82.8L1026.4 90.8L1026.8 110.2L1027.2 137.4L1027.6 155.0L1028.0 165.4L1028.4 175.4L1028.8 191.0L1029.2 228.1L1029.6 249.9L1030.0 259.9L1030.4 265.5L1030.8 267.4L1031.2 267.9L1031.6 268.2L1032.0 268.5L1032.4 269.2L1032.8 272.1L1033.2 276.5L1033.6 283.4L1034.0 292.9L1034.4 302.6L1034.8 310.8L1035.2 318.7L1035.6 325.3L1036.0 332.0L1036.4 338.0L1036.8 341.8L1037.2 342.5L1037.6 342.7L1038.0 342.9L1038.4 343.0L1038.8 343.1L1039.2 343.2L1039.6 343.2L1040.0 342.6L1040.4 341.7L1040.8 341.0L1041.2 341.0L1041.6 341.3L1042.0 341.7L1042.4 342.2L1042.8 342.5L1043.2 342.5L1043.6 341.5L1044.0 339.9L1044.4 338.2L1044.8 336.4L1045.2 334.1L1045.6 331.7L1046.0 329.9L1046.4 328.5L1046.8 327.3L1047.2 326.6L1047.6 327.0L1048.0 328.5L1048.4 330.4L1048.8 332.4L1049.2 334.0L1049.6 335.7L1050.0 337.4L1050.4 339.2L1050.8 340.8L1051.2 342.3L1051.6 343.5L1052.0 344.3L1052.4 344.7L1052.8 344.9L1053.2 345.1L1053.6 345.3L1054.0 345.4L1054.4 345.6L1054.8 345.7L1055.2 345.8L1055.6 345.8L1056.0 345.7L1056.4 345.5L1056.8 345.3L1057.2 345.0L1057.6 344.7L1058.0 344.4L1058.4 344.3L1058.8 344.4L1059.2 344.6L1059.6 345.0L1060.0 345.4L1060.4 345.9L1060.8 346.3L1061.2 346.8L1061.6 347.1L1062.0 347.4L1062.4 347.6L1062.8 347.8L1063.2 348.0L1063.6 348.2L1064.0 348.4L1064.4 348.6L1064.8 348.7L1065.2 348.9L1065.6 349.0L1066.0 349.2L1066.4 349.3L1066.8 349.4L1067.2 349.5L1067.6 349.6L1068.0 349.7L1068.4 349.8L1068.8 349.9L1069.2 350.0L1069.6 350.1L1070.0 350.2L1070.4 350.3L1070.8 350.4L1071.2 350.5L1071.6 350.6L1189.7 363.9" stroke="#7db843"/><path d="M819.8 350.0L913.2 360.4L913.6 360.4L914.0 360.5L914.4 360.5L914.8 360.5L915.2 360.6L915.6 360.6L916.0 360.6L916.4 360.4L916.8 360.2L917.2 360.0L917.6 359.7L918.0 359.3L918.4 358.9L918.8 358.5L919.2 358.0L919.6 357.4L920.0 356.3L920.4 355.0L920.8 353.6L921.2 352.3L921.6 351.1L922.0 350.3L922.4 349.9L922.8 350.3L923.2 351.7L923.6 353.8L924.0 356.2L924.4 358.4L924.8 360.0L925.2 360.7L925.6 360.6L926.0 360.4L926.4 360.2L926.8 360.6L927.2 361.7L927.6 362.4L928.0 362.0L928.4 361.4L928.8 361.1L929.2 361.5L929.6 362.2L930.0 362.6L930.4 362.4L930.8 361.7L931.2 361.3L931.6 361.3L932.0 361.9L932.4 362.7L932.8 363.0L933.2 362.8L933.6 362.3L934.0 361.8L934.4 361.7L934.8 362.2L935.2 363.0L935.6 363.6L936.0 363.6L936.4 363.2L936.8 362.6L937.2 362.2L937.6 362.5L938.0 363.1L938.4 363.7L938.8 363.8L939.2 363.4L939.6 362.9L940.0 362.4L940.4 361.9L940.8 361.5L941.2 361.1L941.6 360.6L942.0 360.1L942.4 359.4L942.8 358.6L943.2 357.7L943.6 356.5L944.0 354.7L944.4 351.2L944.8 346.6L945.2 341.8L945.6 338.0L946.0 334.5L946.4 331.4L946.8 330.7L947.2 332.7L947.6 336.3L948.0 340.3L948.4 345.8L948.8 351.8L949.2 356.7L949.6 361.4L950.0 364.3L950.4 363.2L950.8 359.1L951.2 354.6L951.6 350.0L952.0 345.3L952.4 343.2L952.8 346.2L953.2 351.4L953.6 354.1L954.0 355.0L954.4 355.4L954.8 354.3L955.2 351.7L955.6 349.3L956.0 348.7L956.4 350.1L956.8 352.4L957.2 354.1L957.6 354.5L958.0 354.8L958.4 355.0L958.8 355.3L959.2 355.7L959.6 356.4L960.0 357.3L960.4 358.1L960.8 358.6L961.2 358.6L961.6 358.4L962.0 358.1L962.4 357.9L962.8 358.0L963.2 359.3L963.6 361.4L964.0 363.6L964.4 365.5L964.8 366.5L965.2 365.9L965.6 363.4L966.0 359.8L966.4 356.3L966.8 352.2L967.2 347.4L967.6 343.8L968.0 342.6L968.4 342.2L968.8 341.9L969.2 340.8L969.6 337.7L970.0 334.0L970.4 331.8L970.8 333.3L971.2 338.5L971.6 343.8L972.0 348.3L972.4 352.6L972.8 356.0L973.2 358.4L973.6 360.4L974.0 362.2L974.4 364.2L974.8 366.6L975.2 368.2L975.6 366.2L976.0 359.0L976.4 349.6L976.8 338.5L977.2 322.4L977.6 306.3L978.0 295.6L978.4 296.4L978.8 310.9L979.2 329.9L979.6 342.7L980.0 348.7L980.4 354.0L980.8 357.9L981.2 360.1L981.6 359.0L982.0 349.3L982.4 334.2L982.8 318.1L983.2 297.2L983.6 269.8L984.0 243.9L984.4 227.2L984.8 227.3L985.2 244.4L985.6 270.0L986.0 295.2L986.4 311.6L986.8 322.9L987.2 332.5L987.6 340.4L988.0 346.7L988.4 352.7L988.8 358.1L989.2 361.9L989.6 363.3L990.0 362.1L990.4 359.3L990.8 356.2L991.2 353.8L991.6 351.2L992.0 348.9L992.4 347.7L992.8 348.0L993.2 349.3L993.6 351.1L994.0 353.0L994.4 354.8L994.8 356.5L995.2 358.4L995.6 360.1L996.0 361.5L996.4 362.8L996.8 364.1L997.2 365.3L997.6 366.3L998.0 367.0L998.4 367.3L998.8 367.1L999.2 366.6L999.6 365.8L1000.0 364.8L1000.4 363.7L1000.8 362.6L1001.2 361.5L1001.6 360.1L1002.0 358.4L1002.4 356.5L1002.8 354.7L1003.2 352.9L1003.6 351.5L1004.0 350.5L1004.4 350.0L1004.8 350.8L1005.2 353.6L1005.6 357.1L1006.0 360.3L1006.4 364.2L1006.8 367.7L1007.2 369.3L1007.6 368.0L1008.0 364.4L1008.4 359.5L1008.8 353.8L1009.2 347.7L1009.6 338.9L1010.0 328.9L1010.4 319.7L1010.8 313.0L1011.2 306.4L1011.6 300.7L1012.0 297.3L1012.4 297.3L1012.8 300.0L1013.2 304.4L1013.6 309.3L1014.0 313.8L1014.4 318.9L1014.8 324.4L1015.2 329.5L1015.6 333.8L1016.0 337.8L1016.4 341.5L1016.8 345.0L1017.2 348.0L1017.6 350.5L1018.0 352.8L1018.4 355.0L1018.8 357.0L1019.2 358.8L1019.6 360.4L1020.0 361.8L1020.4 363.0L1020.8 364.0L1021.2 364.9L1021.6 365.8L1022.0 366.6L1022.4 367.3L1022.8 368.0L1023.2 368.6L1023.6 369.1L1024.0 369.5L1024.4 369.7L1024.8 370.0L1025.2 370.2L1025.6 370.4L1026.0 370.6L1026.4 370.8L1026.8 371.0L1027.2 371.2L1027.6 371.3L1028.0 371.5L1028.4 371.6L1028.8 371.8L1029.2 371.9L1029.6 372.0L1030.0 372.1L1030.4 372.3L1030.8 372.4L1031.2 372.5L1031.6 372.6L1032.0 372.7L1032.4 372.8L1032.8 372.9L1033.2 373.0L1033.6 373.1L1034.0 373.2L1034.4 373.3L1034.8 373.4L1035.2 373.5L1035.6 373.6L1036.0 373.7L1036.4 373.8L1036.8 373.9L1037.2 374.0L1037.6 374.1L1038.0 374.1L1038.4 374.2L1038.8 374.3L1039.2 374.3L1039.6 374.4L1040.0 374.4L1040.4 374.5L1040.8 374.5L1041.2 374.6L1041.6 374.6L1042.0 374.6L1042.4 374.7L1042.8 374.7L1043.2 374.8L1043.6 374.8L1044.0 374.9L1044.4 374.9L1044.8 375.0L1045.2 375.0L1045.6 375.0L1046.0 375.1L1046.4 375.1L1046.8 375.2L1047.2 375.2L1047.6 375.3L1048.0 375.3L1048.4 375.4L1048.8 375.4L1049.2 375.4L1049.6 375.5L1050.0 375.5L1050.4 375.6L1050.8 375.6L1051.2 375.7L1051.6 375.7L1052.0 375.8L1052.4 375.8L1052.8 375.8L1053.2 375.9L1053.6 375.9L1054.0 376.0L1054.4 376.0L1054.8 376.1L1055.2 376.1L1055.6 376.2L1056.0 376.2L1056.4 376.2L1056.8 376.3L1057.2 376.3L1057.6 376.4L1058.0 376.4L1058.4 376.5L1058.8 376.5L1059.2 376.6L1059.6 376.6L1060.0 376.6L1060.4 376.7L1060.8 376.7L1061.2 376.8L1061.6 376.8L1062.0 376.9L1062.4 376.9L1062.8 376.9L1063.2 377.0L1063.6 377.0L1064.0 377.1L1064.4 377.1L1064.8 377.2L1065.2 377.2L1065.6 377.3L1066.0 377.3L1066.4 377.3L1066.8 377.4L1067.2 377.4L1067.6 377.5L1068.0 377.5L1068.4 377.6L1068.8 377.6L1069.2 377.7L1069.6 377.7L1070.0 377.7L1070.4 377.8L1070.8 377.8L1071.2 377.9L1071.6 377.9L1072.0 378.0L1072.4 378.0L1072.8 378.0L1073.2 378.0L1073.6 377.9L1074.0 377.8L1074.4 377.7L1074.8 377.6L1075.2 377.4L1075.6 377.3L1076.0 377.0L1076.4 376.8L1076.8 376.6L1077.2 376.2L1077.6 375.6L1078.0 374.6L1078.4 373.4L1078.8 372.0L1079.2 370.4L1079.6 368.7L1080.0 366.8L1080.4 364.9L1080.8 362.4L1081.2 359.1L1081.6 355.3L1082.0 351.1L1082.4 346.8L1082.8 342.7L1083.2 339.0L1083.6 336.0L1084.0 333.1L1084.4 330.0L1084.8 327.1L1085.2 324.6L1085.6 322.6L1086.0 321.3L1086.4 321.1L1086.8 321.8L1087.2 323.1L1087.6 325.1L1088.0 327.4L1088.4 329.9L1088.8 332.5L1089.2 336.2L1089.6 341.0L1090.0 346.2L1090.4 351.3L1090.8 355.8L1091.2 359.2L1091.6 362.4L1092.0 365.5L1092.4 368.4L1092.8 370.9L1093.2 372.9L1093.6 374.4L1094.0 375.3L1094.4 376.0L1094.8 376.7L1095.2 377.3L1095.6 377.9L1096.0 378.4L1096.4 378.8L1096.8 379.1L1097.2 379.4L1097.6 379.6L1098.0 379.7L1098.4 379.7L1098.8 379.7L1099.2 379.8L1099.6 379.8L1100.0 379.9L1100.4 379.9L1100.8 379.9L1101.2 380.0L1101.6 380.0L1102.0 380.0L1102.4 380.1L1102.8 380.1L1103.2 380.1L1103.6 380.2L1104.0 380.2L1104.4 380.2L1104.8 380.3L1105.2 380.3L1105.6 380.3L1106.0 380.3L1106.4 380.3L1106.8 380.4L1107.2 380.4L1107.6 380.4L1108.0 380.3L1108.4 380.2L1108.8 380.0L1109.2 379.7L1109.6 379.4L1110.0 379.1L1110.4 378.8L1110.8 378.5L1111.2 378.3L1111.6 378.0L1112.0 377.9L1112.4 377.8L1112.8 377.7L1113.2 377.6L1113.6 377.5L1114.0 377.4L1114.4 377.3L1114.8 377.3L1115.2 377.3L1115.6 377.3L1116.0 377.4L1116.4 377.6L1116.8 377.8L1117.2 378.1L1117.6 378.5L1118.0 378.9L1118.4 379.3L1118.8 379.7L1119.2 380.0L1119.6 380.4L1120.0 380.6L1120.4 380.9L1120.8 381.1L1121.2 381.3L1121.6 381.5L1122.0 381.6L1122.4 381.8L1122.8 382.0L1123.2 382.2L1123.6 382.3L1124.0 382.5L1124.4 382.6L1124.8 382.8L1125.2 382.9L1125.6 383.0L1126.0 383.1L1126.4 383.2L1126.8 383.3L1127.2 383.4L1127.6 383.5L1128.0 383.6L1128.4 383.8L1128.8 383.9L1129.2 383.9L1129.6 384.0L1130.0 384.1L1130.4 384.2L1130.8 384.3L1131.2 384.4L1131.6 384.5L1132.0 384.5L1145.8 386.1" stroke="#4ab5df"/></g><text x="682" y="29.8" class="b">b</text><text x="775.3" y="367.5" class="t" text-anchor="end">0</text><text x="775.3" y="235.9" class="t" text-anchor="end">0.5</text><text x="775.3" y="104.2" class="t" text-anchor="end">1</text><text x="815.3" y="402.6" class="t" text-anchor="middle">–5</text><text x="938.9" y="415.5" class="t" text-anchor="middle">0</text><text x="1053.1" y="428.3" class="t" text-anchor="middle">5</text><text x="1153.0" y="415.8" class="t" text-anchor="middle">0</text><text x="1212.0" y="388.6" class="t" text-anchor="middle">5</text><text x="1270.9" y="357.7" class="t" text-anchor="middle">10</text><text x="914.3" y="460.3" class="l" text-anchor="middle" textLength="114.5">Time (fs)</text><text transform="translate(1244.6,421) rotate(-26)" class="l" text-anchor="middle" textLength="214">Pressure (mbar)</text><text transform="translate(709,230.2) rotate(-90)" class="l" text-anchor="middle" textLength="279">Intensity (norm. units)</text>
</svg></body></html>
